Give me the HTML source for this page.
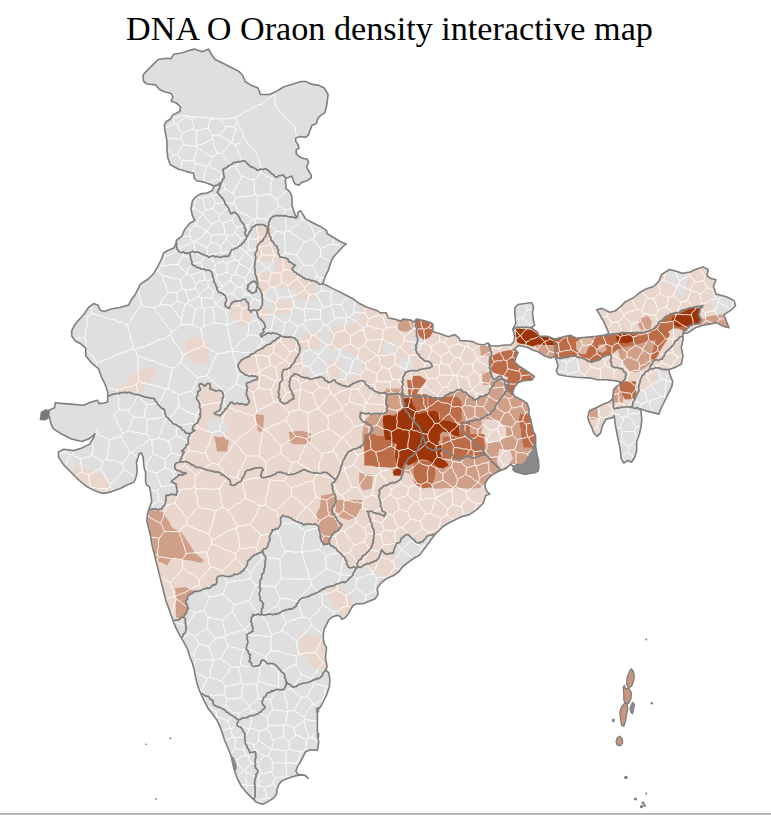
<!DOCTYPE html>
<html><head><meta charset="utf-8"><style>
html,body{margin:0;padding:0;background:#fff;}
body{width:771px;height:815px;overflow:hidden;position:relative;}
h1{position:absolute;left:0;top:8.6px;width:779px;margin:0;text-align:center;font-family:"Liberation Serif",serif;font-weight:normal;font-size:34.2px;color:#000;line-height:40px;}
svg{position:absolute;left:0;top:0;}
.bl{position:absolute;left:0;top:813px;width:771px;height:2px;background:#b8b8b8;}
</style></head><body>
<h1>DNA O Oraon density interactive map</h1>
<svg width="771" height="815" viewBox="0 0 771 815">
<defs><clipPath id="ind"><path d="M143.9,73.7 L146.5,71.1 L153.0,64.6 L158.2,59.5 L165.9,58.2 L171.1,58.7 L173.7,54.3 L181.5,53.0 L189.3,50.4 L194.5,49.1 L202.3,51.7 L208.7,49.1 L211.3,54.3 L215.2,59.5 L223.0,63.3 L230.8,67.2 L238.6,71.1 L242.5,75.0 L245.1,81.5 L251.5,85.4 L258.0,88.0 L260.6,94.5 L269.7,94.5 L277.5,90.6 L284.0,86.7 L293.0,84.1 L300.8,81.5 L306.0,81.5 L311.2,84.1 L319.0,85.4 L324.2,88.0 L328.1,94.5 L326.8,104.9 L325.5,110.0 L324.9,112.6 L321.0,115.2 L317.7,118.4 L316.4,123.6 L311.9,125.6 L309.9,130.8 L308.6,134.6 L306.0,137.2 L300.2,136.6 L295.7,137.9 L295.7,141.1 L298.3,145.0 L298.9,148.3 L296.3,149.6 L296.3,154.1 L301.5,158.0 L307.3,159.3 L308.6,161.9 L306.7,167.1 L308.6,171.0 L311.2,174.9 L311.2,178.1 L306.7,180.7 L301.5,182.6 L298.9,185.2 L295.0,183.9 L293.1,180.0 L291.8,176.1 L288.5,177.4 L285.9,178.1 L285.3,180.7 L285.9,185.2 L285.9,188.5 L288.5,190.4 L290.5,193.0 L292.0,196.9 L292.0,205.5 L295.5,215.8 L297.2,217.5 L298.0,212.3 L300.6,210.6 L305.8,219.2 L314.3,223.5 L321.2,226.9 L326.4,230.3 L327.2,233.8 L333.2,237.2 L340.1,241.5 L346.1,244.1 L342.7,246.7 L338.4,251.8 L334.9,255.2 L331.5,260.4 L329.8,265.5 L328.1,270.7 L325.5,275.8 L323.8,281.0 L322.9,283.6 L326.4,285.3 L331.5,287.9 L334.9,289.6 L340.1,292.1 L345.2,294.7 L352.1,298.2 L359.0,303.3 L365.8,306.7 L371.0,308.5 L377.9,311.0 L380.0,312.8 L386.2,312.8 L388.3,318.0 L394.5,319.1 L400.8,321.1 L402.8,319.1 L411.1,320.1 L414.2,322.2 L416.3,319.1 L421.5,320.1 L429.8,322.2 L432.9,324.2 L432.9,331.5 L436.0,332.5 L442.3,334.6 L448.5,336.7 L454.7,334.6 L458.9,337.7 L459.9,340.8 L467.2,340.8 L473.4,341.9 L477.5,344.0 L483.8,345.0 L487.9,342.9 L491.0,346.0 L498.3,346.0 L504.5,345.0 L510.7,345.0 L513.8,341.9 L514.9,335.7 L512.8,329.4 L515.9,323.2 L514.9,314.9 L514.9,307.6 L518.0,304.5 L525.3,303.5 L531.5,302.5 L533.6,306.6 L532.5,312.8 L533.6,321.1 L534.6,325.3 L531.5,327.4 L533.6,329.4 L537.7,332.5 L539.0,336.3 L547.2,336.3 L554.5,339.1 L558.1,338.2 L565.4,336.3 L570.8,335.4 L576.3,338.2 L585.3,337.3 L596.2,336.3 L603.5,335.4 L609.0,333.6 L604.0,322.0 L596.7,309.7 L601.9,308.4 L609.7,312.3 L614.9,311.0 L620.0,307.1 L625.2,301.9 L633.0,298.0 L639.5,292.8 L646.0,288.9 L653.8,286.3 L659.0,281.1 L661.5,274.6 L669.3,269.5 L674.5,270.8 L682.3,273.3 L690.1,272.0 L695.3,269.5 L703.0,266.9 L708.2,269.5 L706.9,275.9 L710.8,278.5 L716.0,279.8 L713.4,286.3 L716.0,294.1 L726.4,296.7 L734.2,300.6 L735.5,305.8 L731.6,309.7 L723.8,314.9 L726.4,321.3 L729.0,327.8 L723.8,326.5 L716.0,322.6 L710.8,323.9 L703.0,325.2 L695.3,327.8 L687.5,333.0 L683.0,333.4 L683.0,340.3 L681.3,347.2 L683.0,355.8 L681.3,364.3 L676.1,366.9 L669.3,369.5 L669.3,372.9 L672.7,381.5 L671.8,386.7 L667.6,395.2 L664.1,402.1 L660.7,409.0 L659.0,414.1 L652.1,412.4 L645.2,410.7 L640.9,409.0 L640.9,410.7 L641.8,419.3 L640.9,427.9 L639.2,434.7 L636.7,441.6 L636.7,450.2 L634.9,457.0 L631.5,462.2 L628.1,460.5 L623.8,463.0 L621.2,458.8 L620.3,450.2 L618.6,441.6 L616.9,433.0 L615.2,424.4 L614.3,415.8 L612.6,417.6 L605.8,419.3 L602.3,426.1 L600.6,433.0 L597.2,436.4 L593.7,433.0 L592.0,427.9 L589.4,422.7 L587.7,417.6 L589.4,410.7 L597.2,407.3 L604.0,403.8 L609.2,402.1 L612.6,398.7 L613.5,390.1 L616.1,386.7 L619.5,384.9 L619.5,381.5 L614.3,380.6 L605.8,379.8 L597.2,379.8 L590.8,378.1 L576.3,377.2 L567.2,376.3 L558.1,374.5 L556.3,370.8 L558.1,365.4 L556.3,360.0 L554.5,356.3 L550.8,358.1 L548.1,357.2 L543.6,355.4 L538.1,351.8 L532.7,350.0 L527.2,347.2 L518.2,345.4 L514.5,349.1 L518.2,352.7 L516.3,356.3 L514.5,361.8 L518.2,365.4 L523.6,369.0 L529.0,372.7 L534.5,376.3 L531.8,379.9 L523.6,380.8 L518.2,382.6 L514.5,387.2 L512.7,392.6 L514.5,396.3 L521.8,399.9 L527.2,403.5 L529.0,409.0 L529.0,414.4 L530.9,420.0 L533.0,430.5 L535.6,435.6 L535.6,446.0 L537.0,454.6 L538.3,459.8 L538.9,466.3 L538.3,470.9 L535.0,472.8 L531.1,473.1 L527.2,474.1 L523.3,474.1 L518.8,472.8 L514.9,471.5 L513.0,469.6 L513.5,466.5 L510.4,464.3 L506.5,468.2 L500.0,470.8 L494.9,473.3 L491.0,475.9 L487.1,479.8 L485.1,483.7 L485.1,487.6 L487.1,491.5 L489.7,494.1 L485.8,495.4 L484.5,499.3 L483.2,503.2 L480.6,505.8 L476.7,509.7 L472.8,512.3 L468.9,514.9 L463.7,516.1 L458.5,518.1 L453.3,520.7 L448.2,523.3 L443.0,526.5 L440.4,529.1 L435.6,533.7 L431.5,539.1 L427.5,544.5 L423.4,549.9 L419.4,555.3 L414.0,558.0 L408.6,562.1 L403.2,566.1 L399.1,571.5 L393.7,575.6 L387.0,578.3 L381.6,582.3 L377.5,587.7 L377.4,590.0 L378.0,594.4 L375.2,598.8 L369.7,601.0 L363.0,603.8 L356.4,603.8 L353.1,605.5 L350.9,608.8 L348.7,613.2 L345.4,617.6 L342.0,619.3 L339.8,616.0 L336.5,615.4 L332.1,617.1 L328.8,619.8 L326.6,624.3 L324.4,628.7 L323.3,634.2 L323.3,639.7 L324.4,644.1 L326.6,647.5 L326.0,653.0 L325.5,658.5 L326.6,664.0 L327.1,667.3 L325.5,669.6 L328.8,672.9 L329.9,680.0 L329.3,687.1 L326.6,695.0 L321.4,705.5 L317.4,710.8 L317.4,721.4 L317.4,731.9 L318.7,742.5 L317.3,750.4 L310.8,749.7 L305.6,751.7 L303.0,756.9 L300.4,762.0 L297.8,765.9 L295.9,771.1 L297.8,774.4 L304.3,775.0 L308.2,778.3 L305.6,775.5 L300.4,774.9 L295.2,775.9 L290.0,777.6 L284.9,779.6 L281.0,781.5 L278.4,785.4 L277.1,789.3 L276.4,794.5 L273.2,798.4 L268.0,801.6 L262.8,804.2 L256.3,802.3 L251.1,797.1 L245.9,791.9 L240.8,785.4 L236.9,777.6 L234.3,769.8 L233.0,763.3 L231.0,755.6 L227.8,747.8 L224.5,740.0 L221.7,731.3 L219.5,725.4 L216.5,719.5 L212.1,713.6 L207.7,707.7 L204.7,701.8 L201.8,695.9 L199.1,689.8 L197.1,683.6 L195.6,677.4 L194.4,671.1 L192.5,663.3 L190.1,657.9 L187.8,650.0 L183.7,641.9 L179.6,635.2 L175.6,627.1 L172.9,620.4 L170.2,612.3 L166.1,601.5 L163.4,590.7 L160.7,579.9 L158.0,569.1 L155.3,558.3 L152.6,547.5 L151.1,540.0 L150.5,535.7 L149.3,530.8 L148.0,525.9 L146.8,521.0 L147.4,514.8 L148.7,509.9 L150.5,505.0 L151.7,501.3 L151.1,496.4 L150.5,491.5 L149.3,486.6 L146.8,485.4 L145.6,481.7 L145.6,476.8 L145.6,471.9 L144.4,469.4 L143.7,464.5 L143.1,457.2 L141.3,452.9 L139.4,453.5 L138.2,457.2 L136.4,462.1 L137.0,468.2 L137.0,473.1 L135.8,478.0 L133.9,482.3 L128.6,484.3 L120.8,488.2 L110.4,492.1 L102.6,493.4 L94.9,490.8 L87.1,486.9 L79.3,480.5 L71.5,472.7 L63.7,464.9 L58.5,457.1 L58.5,451.9 L63.7,449.3 L74.1,450.6 L81.9,448.0 L89.7,444.1 L93.6,437.7 L94.9,433.8 L92.3,436.4 L88.4,439.0 L81.9,441.5 L71.5,439.0 L61.1,433.8 L53.3,428.6 L50.8,423.4 L49.5,416.9 L45.6,419.5 L40.4,419.5 L41.7,413.0 L48.2,410.4 L54.6,407.8 L55.3,402.8 L63.7,403.6 L73.8,404.4 L84.0,405.3 L89.0,402.8 L97.4,400.2 L99.1,403.6 L104.0,403.0 L107.6,401.9 L107.8,392.3 L105.2,384.5 L101.3,376.7 L98.7,368.9 L92.3,363.7 L85.8,355.9 L85.8,348.2 L80.8,343.8 L75.6,341.2 L71.7,336.0 L71.7,330.8 L74.3,325.6 L78.2,320.5 L83.3,315.3 L88.5,307.5 L93.7,303.6 L97.6,304.9 L100.2,310.1 L104.1,311.4 L111.9,308.8 L119.7,307.5 L128.7,304.9 L131.3,299.7 L135.2,294.5 L137.8,289.3 L140.4,284.1 L148.2,279.0 L153.4,273.8 L157.3,267.3 L161.2,259.5 L163.8,253.0 L167.7,250.4 L174.1,247.8 L175.4,245.2 L176.7,240.0 L181.9,236.1 L184.5,229.7 L189.7,223.2 L194.9,220.6 L192.3,215.4 L191.0,208.9 L192.3,201.1 L195.2,197.3 L200.4,193.9 L207.3,193.0 L212.4,190.5 L214.1,186.2 L210.7,184.5 L203.8,181.9 L197.0,181.0 L194.4,178.5 L193.5,173.3 L186.7,171.6 L178.1,169.0 L170.3,164.7 L167.8,157.9 L166.9,149.3 L166.9,140.7 L165.2,132.1 L164.3,125.2 L166.1,121.8 L170.3,119.2 L172.9,114.9 L179.8,111.5 L180.6,107.2 L176.4,102.9 L171.2,101.2 L172.9,96.9 L171.2,93.5 L164.3,91.8 L159.2,89.2 L155.8,84.9 L147.2,84.0 L143.7,81.5 L142.9,76.3Z"/></clipPath></defs>
<path d="M143.9,73.7 L146.5,71.1 L153.0,64.6 L158.2,59.5 L165.9,58.2 L171.1,58.7 L173.7,54.3 L181.5,53.0 L189.3,50.4 L194.5,49.1 L202.3,51.7 L208.7,49.1 L211.3,54.3 L215.2,59.5 L223.0,63.3 L230.8,67.2 L238.6,71.1 L242.5,75.0 L245.1,81.5 L251.5,85.4 L258.0,88.0 L260.6,94.5 L269.7,94.5 L277.5,90.6 L284.0,86.7 L293.0,84.1 L300.8,81.5 L306.0,81.5 L311.2,84.1 L319.0,85.4 L324.2,88.0 L328.1,94.5 L326.8,104.9 L325.5,110.0 L324.9,112.6 L321.0,115.2 L317.7,118.4 L316.4,123.6 L311.9,125.6 L309.9,130.8 L308.6,134.6 L306.0,137.2 L300.2,136.6 L295.7,137.9 L295.7,141.1 L298.3,145.0 L298.9,148.3 L296.3,149.6 L296.3,154.1 L301.5,158.0 L307.3,159.3 L308.6,161.9 L306.7,167.1 L308.6,171.0 L311.2,174.9 L311.2,178.1 L306.7,180.7 L301.5,182.6 L298.9,185.2 L295.0,183.9 L293.1,180.0 L291.8,176.1 L288.5,177.4 L285.9,178.1 L285.3,180.7 L285.9,185.2 L285.9,188.5 L288.5,190.4 L290.5,193.0 L292.0,196.9 L292.0,205.5 L295.5,215.8 L297.2,217.5 L298.0,212.3 L300.6,210.6 L305.8,219.2 L314.3,223.5 L321.2,226.9 L326.4,230.3 L327.2,233.8 L333.2,237.2 L340.1,241.5 L346.1,244.1 L342.7,246.7 L338.4,251.8 L334.9,255.2 L331.5,260.4 L329.8,265.5 L328.1,270.7 L325.5,275.8 L323.8,281.0 L322.9,283.6 L326.4,285.3 L331.5,287.9 L334.9,289.6 L340.1,292.1 L345.2,294.7 L352.1,298.2 L359.0,303.3 L365.8,306.7 L371.0,308.5 L377.9,311.0 L380.0,312.8 L386.2,312.8 L388.3,318.0 L394.5,319.1 L400.8,321.1 L402.8,319.1 L411.1,320.1 L414.2,322.2 L416.3,319.1 L421.5,320.1 L429.8,322.2 L432.9,324.2 L432.9,331.5 L436.0,332.5 L442.3,334.6 L448.5,336.7 L454.7,334.6 L458.9,337.7 L459.9,340.8 L467.2,340.8 L473.4,341.9 L477.5,344.0 L483.8,345.0 L487.9,342.9 L491.0,346.0 L498.3,346.0 L504.5,345.0 L510.7,345.0 L513.8,341.9 L514.9,335.7 L512.8,329.4 L515.9,323.2 L514.9,314.9 L514.9,307.6 L518.0,304.5 L525.3,303.5 L531.5,302.5 L533.6,306.6 L532.5,312.8 L533.6,321.1 L534.6,325.3 L531.5,327.4 L533.6,329.4 L537.7,332.5 L539.0,336.3 L547.2,336.3 L554.5,339.1 L558.1,338.2 L565.4,336.3 L570.8,335.4 L576.3,338.2 L585.3,337.3 L596.2,336.3 L603.5,335.4 L609.0,333.6 L604.0,322.0 L596.7,309.7 L601.9,308.4 L609.7,312.3 L614.9,311.0 L620.0,307.1 L625.2,301.9 L633.0,298.0 L639.5,292.8 L646.0,288.9 L653.8,286.3 L659.0,281.1 L661.5,274.6 L669.3,269.5 L674.5,270.8 L682.3,273.3 L690.1,272.0 L695.3,269.5 L703.0,266.9 L708.2,269.5 L706.9,275.9 L710.8,278.5 L716.0,279.8 L713.4,286.3 L716.0,294.1 L726.4,296.7 L734.2,300.6 L735.5,305.8 L731.6,309.7 L723.8,314.9 L726.4,321.3 L729.0,327.8 L723.8,326.5 L716.0,322.6 L710.8,323.9 L703.0,325.2 L695.3,327.8 L687.5,333.0 L683.0,333.4 L683.0,340.3 L681.3,347.2 L683.0,355.8 L681.3,364.3 L676.1,366.9 L669.3,369.5 L669.3,372.9 L672.7,381.5 L671.8,386.7 L667.6,395.2 L664.1,402.1 L660.7,409.0 L659.0,414.1 L652.1,412.4 L645.2,410.7 L640.9,409.0 L640.9,410.7 L641.8,419.3 L640.9,427.9 L639.2,434.7 L636.7,441.6 L636.7,450.2 L634.9,457.0 L631.5,462.2 L628.1,460.5 L623.8,463.0 L621.2,458.8 L620.3,450.2 L618.6,441.6 L616.9,433.0 L615.2,424.4 L614.3,415.8 L612.6,417.6 L605.8,419.3 L602.3,426.1 L600.6,433.0 L597.2,436.4 L593.7,433.0 L592.0,427.9 L589.4,422.7 L587.7,417.6 L589.4,410.7 L597.2,407.3 L604.0,403.8 L609.2,402.1 L612.6,398.7 L613.5,390.1 L616.1,386.7 L619.5,384.9 L619.5,381.5 L614.3,380.6 L605.8,379.8 L597.2,379.8 L590.8,378.1 L576.3,377.2 L567.2,376.3 L558.1,374.5 L556.3,370.8 L558.1,365.4 L556.3,360.0 L554.5,356.3 L550.8,358.1 L548.1,357.2 L543.6,355.4 L538.1,351.8 L532.7,350.0 L527.2,347.2 L518.2,345.4 L514.5,349.1 L518.2,352.7 L516.3,356.3 L514.5,361.8 L518.2,365.4 L523.6,369.0 L529.0,372.7 L534.5,376.3 L531.8,379.9 L523.6,380.8 L518.2,382.6 L514.5,387.2 L512.7,392.6 L514.5,396.3 L521.8,399.9 L527.2,403.5 L529.0,409.0 L529.0,414.4 L530.9,420.0 L533.0,430.5 L535.6,435.6 L535.6,446.0 L537.0,454.6 L538.3,459.8 L538.9,466.3 L538.3,470.9 L535.0,472.8 L531.1,473.1 L527.2,474.1 L523.3,474.1 L518.8,472.8 L514.9,471.5 L513.0,469.6 L513.5,466.5 L510.4,464.3 L506.5,468.2 L500.0,470.8 L494.9,473.3 L491.0,475.9 L487.1,479.8 L485.1,483.7 L485.1,487.6 L487.1,491.5 L489.7,494.1 L485.8,495.4 L484.5,499.3 L483.2,503.2 L480.6,505.8 L476.7,509.7 L472.8,512.3 L468.9,514.9 L463.7,516.1 L458.5,518.1 L453.3,520.7 L448.2,523.3 L443.0,526.5 L440.4,529.1 L435.6,533.7 L431.5,539.1 L427.5,544.5 L423.4,549.9 L419.4,555.3 L414.0,558.0 L408.6,562.1 L403.2,566.1 L399.1,571.5 L393.7,575.6 L387.0,578.3 L381.6,582.3 L377.5,587.7 L377.4,590.0 L378.0,594.4 L375.2,598.8 L369.7,601.0 L363.0,603.8 L356.4,603.8 L353.1,605.5 L350.9,608.8 L348.7,613.2 L345.4,617.6 L342.0,619.3 L339.8,616.0 L336.5,615.4 L332.1,617.1 L328.8,619.8 L326.6,624.3 L324.4,628.7 L323.3,634.2 L323.3,639.7 L324.4,644.1 L326.6,647.5 L326.0,653.0 L325.5,658.5 L326.6,664.0 L327.1,667.3 L325.5,669.6 L328.8,672.9 L329.9,680.0 L329.3,687.1 L326.6,695.0 L321.4,705.5 L317.4,710.8 L317.4,721.4 L317.4,731.9 L318.7,742.5 L317.3,750.4 L310.8,749.7 L305.6,751.7 L303.0,756.9 L300.4,762.0 L297.8,765.9 L295.9,771.1 L297.8,774.4 L304.3,775.0 L308.2,778.3 L305.6,775.5 L300.4,774.9 L295.2,775.9 L290.0,777.6 L284.9,779.6 L281.0,781.5 L278.4,785.4 L277.1,789.3 L276.4,794.5 L273.2,798.4 L268.0,801.6 L262.8,804.2 L256.3,802.3 L251.1,797.1 L245.9,791.9 L240.8,785.4 L236.9,777.6 L234.3,769.8 L233.0,763.3 L231.0,755.6 L227.8,747.8 L224.5,740.0 L221.7,731.3 L219.5,725.4 L216.5,719.5 L212.1,713.6 L207.7,707.7 L204.7,701.8 L201.8,695.9 L199.1,689.8 L197.1,683.6 L195.6,677.4 L194.4,671.1 L192.5,663.3 L190.1,657.9 L187.8,650.0 L183.7,641.9 L179.6,635.2 L175.6,627.1 L172.9,620.4 L170.2,612.3 L166.1,601.5 L163.4,590.7 L160.7,579.9 L158.0,569.1 L155.3,558.3 L152.6,547.5 L151.1,540.0 L150.5,535.7 L149.3,530.8 L148.0,525.9 L146.8,521.0 L147.4,514.8 L148.7,509.9 L150.5,505.0 L151.7,501.3 L151.1,496.4 L150.5,491.5 L149.3,486.6 L146.8,485.4 L145.6,481.7 L145.6,476.8 L145.6,471.9 L144.4,469.4 L143.7,464.5 L143.1,457.2 L141.3,452.9 L139.4,453.5 L138.2,457.2 L136.4,462.1 L137.0,468.2 L137.0,473.1 L135.8,478.0 L133.9,482.3 L128.6,484.3 L120.8,488.2 L110.4,492.1 L102.6,493.4 L94.9,490.8 L87.1,486.9 L79.3,480.5 L71.5,472.7 L63.7,464.9 L58.5,457.1 L58.5,451.9 L63.7,449.3 L74.1,450.6 L81.9,448.0 L89.7,444.1 L93.6,437.7 L94.9,433.8 L92.3,436.4 L88.4,439.0 L81.9,441.5 L71.5,439.0 L61.1,433.8 L53.3,428.6 L50.8,423.4 L49.5,416.9 L45.6,419.5 L40.4,419.5 L41.7,413.0 L48.2,410.4 L54.6,407.8 L55.3,402.8 L63.7,403.6 L73.8,404.4 L84.0,405.3 L89.0,402.8 L97.4,400.2 L99.1,403.6 L104.0,403.0 L107.6,401.9 L107.8,392.3 L105.2,384.5 L101.3,376.7 L98.7,368.9 L92.3,363.7 L85.8,355.9 L85.8,348.2 L80.8,343.8 L75.6,341.2 L71.7,336.0 L71.7,330.8 L74.3,325.6 L78.2,320.5 L83.3,315.3 L88.5,307.5 L93.7,303.6 L97.6,304.9 L100.2,310.1 L104.1,311.4 L111.9,308.8 L119.7,307.5 L128.7,304.9 L131.3,299.7 L135.2,294.5 L137.8,289.3 L140.4,284.1 L148.2,279.0 L153.4,273.8 L157.3,267.3 L161.2,259.5 L163.8,253.0 L167.7,250.4 L174.1,247.8 L175.4,245.2 L176.7,240.0 L181.9,236.1 L184.5,229.7 L189.7,223.2 L194.9,220.6 L192.3,215.4 L191.0,208.9 L192.3,201.1 L195.2,197.3 L200.4,193.9 L207.3,193.0 L212.4,190.5 L214.1,186.2 L210.7,184.5 L203.8,181.9 L197.0,181.0 L194.4,178.5 L193.5,173.3 L186.7,171.6 L178.1,169.0 L170.3,164.7 L167.8,157.9 L166.9,149.3 L166.9,140.7 L165.2,132.1 L164.3,125.2 L166.1,121.8 L170.3,119.2 L172.9,114.9 L179.8,111.5 L180.6,107.2 L176.4,102.9 L171.2,101.2 L172.9,96.9 L171.2,93.5 L164.3,91.8 L159.2,89.2 L155.8,84.9 L147.2,84.0 L143.7,81.5 L142.9,76.3Z" fill="#dfdfdf"/>

<g clip-path="url(#ind)">
<path d="M267.8,226.3 L269.4,234.0 L270.9,240.3 L274.0,243.4 L277.2,246.5 L280.0,257.0 L285.2,257.8 L290.3,262.1 L295.5,265.5 L292.0,269.0 L297.2,274.1 L305.8,279.3 L314.3,281.0 L321.2,284.4 L322.9,283.6 L326.4,285.3 L331.5,287.9 L334.9,289.6 L340.1,292.1 L345.2,294.7 L352.1,298.2 L359.0,303.3 L365.8,306.7 L371.0,308.5 L377.9,311.0 L380.0,312.8 L386.2,312.8 L388.3,318.0 L394.5,319.1 L400.8,321.1 L402.8,319.1 L411.1,320.1 L414.2,322.2 L416.3,319.1 L421.5,320.1 L429.8,322.2 L432.9,324.2 L432.9,331.5 L436.0,332.5 L442.3,334.6 L448.5,336.7 L454.7,334.6 L458.9,337.7 L459.9,340.8 L467.2,340.8 L473.4,341.9 L477.5,344.0 L483.8,345.0 L487.9,342.9 L491.0,346.0 L498.3,346.0 L504.5,345.0 L510.7,345.0 L513.8,341.9 L514.9,335.7 L512.8,329.4 L515.9,327.5 L522.0,327.0 L531.5,327.4 L533.6,329.4 L537.7,332.5 L539.0,336.3 L547.2,336.3 L554.5,339.1 L555.0,345.0 L555.0,352.0 L554.5,356.3 L550.8,358.1 L548.1,357.2 L543.6,355.4 L538.1,351.8 L532.7,350.0 L527.2,347.2 L518.2,345.4 L514.5,349.1 L518.2,352.7 L516.3,356.3 L514.5,361.8 L518.2,365.4 L523.6,369.0 L529.0,372.7 L534.5,376.3 L531.8,379.9 L523.6,380.8 L518.2,382.6 L514.5,387.2 L512.7,392.6 L514.5,396.3 L521.8,399.9 L527.2,403.5 L529.0,409.0 L529.0,414.4 L530.9,420.0 L533.0,430.5 L535.6,435.6 L535.6,446.0 L537.0,454.6 L538.3,459.8 L538.9,466.3 L538.3,470.9 L535.0,472.8 L531.1,473.1 L527.2,474.1 L523.3,474.1 L518.8,472.8 L514.9,471.5 L513.0,469.6 L513.5,466.5 L510.4,464.3 L506.5,468.2 L500.0,470.8 L494.9,473.3 L491.0,475.9 L487.1,479.8 L485.1,483.7 L485.1,487.6 L487.1,491.5 L489.7,494.1 L485.8,495.4 L484.5,499.3 L483.2,503.2 L480.6,505.8 L476.7,509.7 L472.8,512.3 L468.9,514.9 L463.7,516.1 L458.5,518.1 L453.3,520.7 L448.2,523.3 L443.0,526.5 L440.4,529.1 L435.6,533.7 L434.2,533.7 L430.2,535.1 L426.1,537.8 L423.4,540.5 L419.4,543.2 L415.3,541.8 L412.6,539.1 L409.9,536.4 L407.2,534.4 L404.5,535.8 L401.8,537.8 L400.5,541.8 L396.4,543.2 L395.1,547.2 L393.7,552.6 L389.7,553.3 L385.6,554.0 L382.9,551.3 L381.6,549.9 L380.2,554.0 L377.5,559.4 L373.5,562.1 L368.1,563.4 L362.7,566.1 L356.7,567.9 L348.1,567.0 L345.0,558.1 L340.8,553.2 L335.9,548.3 L331.0,545.8 L328.6,543.4 L323.7,544.6 L321.2,539.7 L320.0,533.6 L318.8,526.2 L315.1,523.8 L308.9,523.8 L304.0,525.0 L299.1,522.5 L294.2,520.1 L289.3,517.6 L283.2,515.2 L280.7,517.6 L280.7,523.8 L278.3,528.7 L272.2,529.9 L269.7,536.0 L269.7,540.9 L267.3,547.1 L262.4,550.7 L259.9,553.2 L254.5,554.5 L249.0,560.0 L243.6,570.8 L236.3,574.5 L227.2,576.3 L218.2,576.3 L216.3,583.6 L210.9,587.2 L203.6,589.0 L200.0,590.8 L194.2,591.2 L188.5,595.5 L185.7,602.6 L188.5,608.4 L184.0,616.0 L180.0,619.0 L174.0,620.5 L172.9,620.4 L170.2,612.3 L166.1,601.5 L163.4,590.7 L160.7,579.9 L158.0,569.1 L155.3,558.3 L152.6,547.5 L151.1,540.0 L150.5,535.7 L149.3,530.8 L148.0,525.9 L146.8,521.0 L147.4,514.8 L148.7,509.9 L149.1,510.0 L153.6,509.1 L158.2,510.0 L161.8,509.1 L164.5,505.4 L166.3,500.0 L166.4,495.2 L171.3,494.0 L176.3,495.2 L177.5,491.5 L176.3,484.2 L173.8,482.9 L171.3,481.7 L173.8,479.3 L177.5,476.8 L178.7,474.4 L183.6,474.4 L186.1,473.1 L181.2,471.9 L177.5,470.7 L175.0,468.2 L175.0,464.5 L180.2,461.8 L181.6,456.4 L184.3,452.3 L181.6,451.0 L184.3,448.3 L188.3,442.9 L188.3,437.5 L189.7,433.4 L195.1,430.7 L192.4,429.4 L193.7,425.3 L197.8,422.6 L200.5,415.9 L200.5,409.1 L199.1,402.4 L196.4,397.0 L197.8,391.6 L200.5,388.9 L199.1,384.8 L200.5,383.5 L204.5,386.2 L207.2,383.5 L209.9,383.5 L209.9,388.9 L214.0,390.2 L219.4,390.2 L222.1,391.6 L223.4,397.0 L222.1,402.4 L220.7,406.4 L219.4,410.5 L216.7,411.8 L214.0,413.2 L215.3,414.5 L219.4,415.9 L222.1,413.2 L224.8,410.5 L227.5,406.4 L230.2,402.4 L235.6,403.7 L241.0,403.7 L246.4,405.1 L249.1,402.4 L247.7,397.0 L246.4,392.9 L247.7,387.5 L246.4,383.5 L250.4,382.1 L257.2,379.4 L257.6,377.3 L255.0,376.0 L248.5,376.0 L243.3,373.4 L239.5,369.5 L238.2,364.3 L240.8,360.4 L245.9,357.8 L252.4,353.9 L256.3,351.3 L261.5,348.7 L266.7,344.9 L271.9,342.3 L277.1,338.4 L281.0,335.8 L278.4,334.5 L274.5,333.2 L269.3,333.2 L265.4,334.5 L261.5,337.1 L260.2,334.5 L264.1,331.9 L262.8,329.3 L265.4,326.7 L264.1,322.8 L260.2,318.9 L257.6,315.0 L256.3,310.5 L258.9,309.8 L261.5,305.9 L262.8,299.5 L261.5,293.0 L257.6,285.2 L255.2,274.1 L255.2,261.1 L255.2,253.3 L257.8,245.6 L263.0,240.4 L265.6,236.5Z" fill="#e9d6cc"/>
<path d="M287.4,290.4 L315.4,283.3 L329.4,285.7 L348.1,297.4 L359.7,306.7 L359.7,320.7 L350.4,325.4 L338.7,332.4 L343.4,348.7 L359.7,358.1 L362.1,372.1 L348.1,379.1 L327.0,376.7 L308.4,376.7 L301.4,362.7 L301.4,341.7 L285.0,334.7 L264.0,330.0 L264.0,318.4 L273.3,311.4 L264.0,306.7 L264.0,295.0 L273.3,285.7Z" fill="#dfdfdf"/>
<path d="M383.1,341.7 L394.8,341.7 L394.8,353.4 L383.1,353.4Z" fill="#dfdfdf"/>
<path d="M399.4,358.1 L413.4,358.1 L413.4,372.1 L399.4,372.1Z" fill="#dfdfdf"/>
<path d="M411.1,337.0 L422.8,337.0 L422.8,348.7 L411.1,348.7Z" fill="#dfdfdf"/>
<path d="M255.4,260.9 L275.4,260.9 L275.4,271.8 L255.4,271.8Z" fill="#dfdfdf"/>
<path d="M273.3,299.7 L292.0,299.7 L292.0,313.7 L273.3,313.7Z" fill="#e9d6cc"/>
<path d="M296.7,283.3 L315.4,283.3 L315.4,299.7 L296.7,299.7Z" fill="#e9d6cc"/>
<path d="M329.4,327.7 L348.1,327.7 L348.1,348.7 L329.4,348.7Z" fill="#e9d6cc"/>
<path d="M338.7,325.4 L359.7,325.4 L359.7,339.4 L338.7,339.4Z" fill="#e9d6cc"/>
<path d="M327.0,360.4 L338.7,360.4 L338.7,376.7 L327.0,376.7Z" fill="#e9d6cc"/>
<path d="M301.4,332.4 L320.0,332.4 L320.0,348.7 L301.4,348.7Z" fill="#e9d6cc"/>
<path d="M255.2,413.9 L264.3,415.2 L263.5,423.0 L263.0,432.1 L257.8,431.3 L256.5,423.0Z" fill="#d09f88"/>
<path d="M288.9,432.1 L301.9,430.8 L311.0,433.4 L309.7,442.5 L299.3,443.8 L290.2,442.5Z" fill="#d09f88"/>
<path d="M214.0,436.1 L223.4,436.8 L228.8,442.9 L226.1,448.3 L219.4,451.0 L216.7,446.9Z" fill="#d09f88"/>
<path d="M215.6,440.0 L228.5,440.0 L227.0,451.4 L217.0,451.4Z" fill="#d09f88"/>
<path d="M291.2,440.0 L308.4,440.0 L306.9,444.3 L292.7,444.3Z" fill="#d09f88"/>
<path d="M207.2,419.9 L216.7,418.6 L224.8,419.9 L230.2,426.7 L226.1,432.1 L220.7,437.5 L214.0,436.1 L209.9,433.4 L206.6,426.7Z" fill="#dfdfdf"/>
<path d="M148.2,511.8 L151.8,510.0 L158.2,510.9 L162.7,511.8 L165.4,516.3 L169.1,521.8 L171.8,527.2 L176.3,530.0 L180.9,531.8 L183.6,535.4 L187.2,540.9 L190.8,546.3 L194.5,552.7 L199.9,557.2 L203.6,559.9 L202.6,562.6 L198.1,562.6 L192.7,560.8 L185.4,559.9 L178.1,559.0 L171.8,559.0 L169.1,561.7 L167.2,565.4 L163.6,563.6 L159.1,561.7 L156.3,558.1 L154.5,552.7 L153.6,547.2 L152.7,541.8 L151.8,538.1 L150.0,536.3 L149.1,531.8 L148.2,527.2 L147.3,518.2Z" fill="#d09f88"/>
<path d="M174.2,588.4 L185.0,587.0 L194.2,591.2 L188.5,595.5 L185.7,602.6 L188.5,608.4 L184.0,616.0 L180.0,619.0 L176.0,617.0 L175.7,602.0 L175.7,590.0Z" fill="#d09f88"/>
<path d="M321.2,495.6 L328.6,494.3 L334.1,493.1 L335.3,499.2 L333.5,506.6 L332.2,511.5 L334.7,516.4 L338.4,521.3 L342.1,525.0 L339.6,528.7 L334.7,532.3 L331.0,537.2 L328.6,543.4 L323.7,544.6 L321.2,538.5 L320.0,528.7 L317.5,521.3 L316.3,513.9 L320.0,506.6Z" fill="#d09f88"/>
<path d="M336.9,501.3 L351.2,499.9 L360.0,504.2 L356.9,517.0 L348.3,519.9 L339.7,517.0Z" fill="#d09f88"/>
<path d="M335.8,500.0 L363.1,500.0 L361.1,511.7 L351.4,517.5 L341.7,515.6 L335.8,511.7Z" fill="#d09f88"/>
<path d="M359.2,472.8 L372.8,474.7 L371.8,488.4 L363.1,490.3 L359.2,484.5Z" fill="#d09f88"/>
<path d="M231.2,299.7 L246.8,302.3 L252.0,315.3 L249.4,325.6 L239.0,325.6 L231.2,315.3Z" fill="#e9d6cc"/>
<path d="M185.6,340.4 L201.2,335.2 L209.0,345.6 L209.0,363.7 L196.0,363.7 L185.6,355.9Z" fill="#e9d6cc"/>
<path d="M114.3,391.4 L121.4,385.7 L128.5,378.6 L134.2,372.9 L141.5,368.9 L154.5,366.3 L155.6,370.0 L152.8,378.6 L147.1,384.3 L141.4,391.4 L130.0,393.0 L118.0,393.0Z" fill="#e9d6cc"/>
<path d="M74.1,464.9 L89.7,470.1 L102.6,475.3 L110.4,485.6 L107.8,493.4 L94.9,490.8 L81.9,483.0 L74.1,475.3Z" fill="#e9d6cc"/>
<path d="M324.4,587.1 L332.3,585.6 L338.2,584.8 L346.0,593.0 L353.9,598.9 L351.9,606.8 L346.0,614.6 L342.1,618.5 L338.2,612.6 L332.3,604.8 L328.4,596.9Z" fill="#e9d6cc"/>
<path d="M298.9,635.2 L322.5,636.2 L324.8,644.1 L325.4,651.9 L326.4,665.7 L320.5,669.6 L310.7,665.7 L304.8,657.8 L299.9,650.0Z" fill="#e9d6cc"/>
<path d="M362.7,566.1 L368.1,563.4 L373.5,562.1 L377.5,559.4 L380.2,554.0 L385.6,554.0 L393.7,552.6 L395.8,556.7 L394.4,563.4 L397.8,570.2 L393.7,575.6 L387.0,578.3 L381.6,582.3 L378.9,575.6 L372.1,570.2 L365.4,567.5Z" fill="#e9d6cc"/>
<path d="M396.9,319.9 L412.5,318.6 L413.3,328.9 L406.0,332.1 L398.2,330.2Z" fill="#d09f88"/>
<path d="M253.0,226.5 L265.9,225.2 L273.7,227.8 L272.4,240.8 L269.8,251.1 L271.1,261.5 L259.5,261.5 L256.9,248.5 L255.6,235.6Z" fill="#e9d6cc"/>
<path d="M554.5,339.1 L558.1,338.2 L565.4,336.3 L570.8,335.4 L576.3,338.2 L585.3,337.3 L596.2,336.3 L603.5,335.4 L609.0,333.6 L604.0,322.0 L596.7,309.7 L601.9,308.4 L609.7,312.3 L614.9,311.0 L620.0,307.1 L625.2,301.9 L633.0,298.0 L639.5,292.8 L646.0,288.9 L653.8,286.3 L659.0,281.1 L661.5,274.6 L669.3,269.5 L674.5,270.8 L682.3,273.3 L690.1,272.0 L695.3,269.5 L703.0,266.9 L708.2,269.5 L706.9,275.9 L710.8,278.5 L716.0,279.8 L713.4,286.3 L716.0,294.1 L726.4,296.7 L734.2,300.6 L735.5,305.8 L731.6,309.7 L723.8,314.9 L726.4,321.3 L729.0,327.8 L723.8,326.5 L716.0,322.6 L710.8,323.9 L703.0,325.2 L695.3,327.8 L687.5,333.0 L683.0,333.4 L683.0,340.3 L681.3,347.2 L683.0,355.8 L681.3,364.3 L676.1,366.9 L669.3,369.5 L669.3,372.9 L672.7,381.5 L671.8,386.7 L667.6,395.2 L664.1,402.1 L660.7,409.0 L659.0,414.1 L652.1,412.4 L645.2,410.7 L640.9,409.0 L640.9,410.7 L641.8,419.3 L640.9,427.9 L639.2,434.7 L636.7,441.6 L636.7,450.2 L634.9,457.0 L631.5,462.2 L628.1,460.5 L623.8,463.0 L621.2,458.8 L620.3,450.2 L618.6,441.6 L616.9,433.0 L615.2,424.4 L614.3,415.8 L612.6,417.6 L605.8,419.3 L602.3,426.1 L600.6,433.0 L597.2,436.4 L593.7,433.0 L592.0,427.9 L589.4,422.7 L587.7,417.6 L589.4,410.7 L597.2,407.3 L604.0,403.8 L609.2,402.1 L612.6,398.7 L613.5,390.1 L616.1,386.7 L619.5,384.9 L619.5,381.5 L614.3,380.6 L605.8,379.8 L597.2,379.8 L590.8,378.1 L576.3,377.2 L567.2,376.3 L558.1,374.5 L556.3,370.8 L558.1,365.4 L556.3,360.0 L554.5,356.3Z" fill="#e9d6cc"/>
<path d="M386.4,393.4 L394.7,393.4 L403.0,395.5 L407.2,396.5 L413.4,395.5 L419.6,397.5 L425.8,395.5 L432.1,397.5 L440.4,399.6 L449.4,393.5 L460.2,389.4 L467.0,393.5 L472.4,397.5 L475.1,400.2 L480.5,396.2 L487.2,394.8 L491.3,388.1 L495.3,381.3 L497.0,378.0 L506.0,385.0 L508.0,392.0 L512.7,392.6 L514.5,396.3 L521.8,399.9 L527.2,403.5 L529.0,409.0 L529.0,414.4 L530.9,420.0 L533.0,430.5 L535.6,435.6 L535.6,446.0 L538.2,456.4 L537.0,466.0 L536.9,471.4 L522.6,472.8 L514.1,465.7 L508.4,468.5 L499.8,472.8 L491.2,475.7 L485.5,482.8 L480.0,488.0 L470.0,488.5 L460.0,488.0 L446.7,488.0 L440.0,488.4 L435.0,488.4 L428.0,488.0 L420.0,486.0 L413.7,482.0 L412.0,475.0 L405.0,472.0 L400.0,476.0 L394.0,476.0 L392.0,470.0 L385.0,467.0 L376.0,467.0 L368.0,465.0 L365.0,455.0 L363.0,445.0 L362.0,435.0 L365.0,420.0 L372.0,413.0 L380.0,410.0 L386.4,399.6Z" fill="#d09f88"/>
<path d="M484.5,419.1 L498.0,420.5 L506.1,427.2 L506.1,438.0 L496.7,442.1 L484.5,443.4 L480.5,436.7Z" fill="#e9d6cc"/>
<path d="M499.4,448.8 L510.2,450.2 L512.9,458.3 L507.5,466.4 L499.4,469.1 L496.7,461.0Z" fill="#e9d6cc"/>
<path d="M360.0,394.3 L384.3,394.3 L385.7,414.2 L360.0,414.2Z" fill="#e9d6cc"/>
<path d="M412.8,394.3 L427.1,394.3 L427.1,412.8 L417.1,414.2 L414.2,408.5 L412.1,402.8Z" fill="#bd6c48"/>
<path d="M428.5,397.1 L439.9,397.1 L439.9,412.8 L428.5,412.1Z" fill="#bd6c48"/>
<path d="M442.8,398.5 L459.9,398.5 L459.9,421.4 L451.3,421.4 L442.8,419.9Z" fill="#bd6c48"/>
<path d="M459.9,421.4 L470.0,421.4 L470.0,439.9 L459.9,437.1Z" fill="#bd6c48"/>
<path d="M364.3,434.2 L375.7,434.2 L375.7,465.6 L364.3,465.6Z" fill="#bd6c48"/>
<path d="M417.1,461.3 L434.2,461.3 L434.2,480.0 L417.1,480.0Z" fill="#bd6c48"/>
<path d="M407.1,380.0 L427.1,380.0 L419.9,388.6 L414.2,395.7 L408.5,395.7Z" fill="#bd6c48"/>
<path d="M440.0,397.5 L456.2,396.2 L461.6,401.6 L461.6,420.5 L440.0,420.5Z" fill="#bd6c48"/>
<path d="M462.9,434.0 L484.5,434.0 L484.5,455.6 L462.9,455.6Z" fill="#bd6c48"/>
<path d="M442.7,436.7 L464.3,436.7 L464.3,459.6 L442.7,459.6Z" fill="#bd6c48"/>
<path d="M521.0,415.1 L531.8,417.8 L534.5,431.3 L534.5,447.5 L523.7,447.5 L521.0,434.0Z" fill="#bd6c48"/>
<path d="M385.7,388.6 L402.8,388.6 L402.8,408.5 L397.8,412.8 L387.1,414.2 L385.7,401.4Z" fill="#d9a48c"/>
<path d="M372.8,437.1 L394.2,437.1 L394.2,459.9 L372.8,459.9Z" fill="#d9a48c"/>
<path d="M413.7,461.1 L427.3,461.1 L435.1,465.0 L435.1,476.7 L431.2,486.4 L423.4,488.4 L415.6,484.5 L413.7,472.8Z" fill="#bd6c48"/>
<path d="M365.0,435.8 L380.6,435.8 L394.2,437.8 L394.2,453.3 L396.1,467.0 L386.4,467.0 L376.7,467.0 L368.9,463.1 L365.0,453.3Z" fill="#bd6c48"/>
<path d="M556.3,360.0 L558.1,365.4 L556.3,370.8 L558.1,374.5 L567.2,376.3 L576.3,377.2 L580.0,377.5 L581.0,370.0 L580.0,362.0 L575.0,358.0 L565.0,358.0 L558.0,359.0Z" fill="#dfdfdf"/>
<path d="M614.3,415.8 L615.2,424.4 L616.9,433.0 L618.6,441.6 L620.3,450.2 L621.2,458.8 L623.8,463.0 L628.1,460.5 L631.5,462.2 L634.9,457.0 L636.7,450.2 L636.7,441.6 L639.2,434.7 L640.9,427.9 L641.8,419.3 L640.9,410.7 L640.9,409.0 L636.7,408.1 L631.5,407.3 L625.0,407.0 L619.0,407.5 L614.3,409.0Z" fill="#dfdfdf"/>
<path d="M631.5,407.3 L636.7,408.1 L640.9,409.0 L645.2,410.7 L652.1,412.4 L659.0,414.1 L660.7,409.0 L664.1,402.1 L667.6,395.2 L671.8,386.7 L672.7,381.5 L669.3,372.9 L669.3,369.5 L660.0,370.0 L652.0,372.0 L645.0,375.0 L640.0,380.0 L636.0,388.0 L633.0,395.0 L631.0,402.0Z" fill="#dfdfdf"/>
<path d="M638.0,378.0 L648.0,372.0 L657.0,371.0 L658.0,380.0 L650.0,388.0 L641.0,390.0Z" fill="#e9d6cc"/>
<path d="M665.7,274.3 L671.4,270.0 L677.1,272.8 L687.1,275.7 L687.1,282.8 L685.6,288.5 L685.6,295.7 L681.4,297.1 L677.1,291.4 L672.8,284.3 L668.5,278.5Z" fill="#dfdfdf"/>
<path d="M711.3,295.7 L718.5,292.8 L727.0,295.7 L735.6,300.0 L735.6,302.8 L729.9,307.1 L724.2,312.8 L715.6,314.2 L712.8,308.5 L711.3,301.4Z" fill="#dfdfdf"/>
<path d="M640.0,318.0 L648.0,316.0 L652.0,322.0 L650.0,329.0 L641.0,330.0 L638.0,325.0Z" fill="#d09f88"/>
<path d="M700.0,320.0 L710.0,316.0 L722.0,314.5 L726.4,321.3 L729.0,327.8 L723.8,326.5 L716.0,322.6 L710.8,323.9 L703.0,325.2 L698.0,326.0Z" fill="#d09f88"/>
<path d="M618.0,350.0 L628.0,345.0 L640.0,342.0 L652.0,338.0 L660.0,338.0 L662.0,345.0 L658.0,356.0 L652.0,362.0 L645.0,368.0 L638.0,372.0 L630.0,372.0 L625.0,365.0 L620.0,358.0Z" fill="#d09f88"/>
<path d="M554.5,339.1 L556.5,338.0 L563.0,335.4 L569.5,334.7 L575.9,337.3 L583.7,337.3 L592.8,336.0 L601.9,335.4 L609.7,334.7 L616.1,333.5 L622.6,332.2 L630.4,332.8 L638.6,332.8 L648.5,331.3 L654.3,328.5 L660.0,321.4 L667.1,315.6 L675.7,312.8 L684.2,309.9 L689.9,307.8 L697.1,306.4 L702.8,305.7 L699.9,309.9 L698.5,314.2 L701.3,319.9 L699.9,322.8 L695.6,324.2 L689.9,325.6 L687.1,328.5 L684.2,331.3 L678.5,328.5 L672.8,328.5 L668.0,332.0 L664.0,337.0 L655.0,340.0 L645.0,342.0 L635.0,345.0 L625.0,347.0 L617.0,350.0 L611.0,354.9 L607.1,354.9 L601.9,357.4 L596.7,360.7 L591.5,362.6 L586.3,360.0 L581.1,357.4 L573.3,356.1 L565.6,357.4 L560.4,358.7 L555.2,358.7Z" fill="#bd6c48"/>
<path d="M576.0,342.0 L582.0,338.0 L592.0,338.0 L594.0,342.0 L588.0,348.0 L586.0,354.0 L580.0,354.0 L576.0,349.0Z" fill="#dcb6a4"/>
<path d="M598.0,345.0 L605.0,344.0 L607.0,350.0 L602.0,353.0 L598.0,351.0Z" fill="#d8ae9a"/>
<path d="M658.0,334.0 L667.0,331.0 L670.0,334.0 L667.0,340.0 L663.0,346.0 L660.0,351.0 L657.0,357.0 L654.0,360.0 L651.0,358.0 L653.0,350.0 L655.0,343.0Z" fill="#bd6c48"/>
<path d="M672.8,317.1 L684.2,311.4 L692.8,307.1 L702.0,305.7 L699.9,311.4 L699.2,317.1 L700.6,321.3 L695.6,324.2 L689.9,325.6 L684.2,326.3 L678.5,327.1 L672.8,324.2 L671.4,319.9Z" fill="#9e3508"/>
<path d="M616.5,333.5 L622.6,332.2 L630.4,332.8 L633.5,336.0 L633.0,341.0 L627.0,343.2 L618.0,343.0 L616.0,338.0Z" fill="#9e3508"/>
<path d="M515.4,328.5 L522.5,329.1 L531.5,329.8 L536.6,333.6 L541.8,336.2 L549.5,337.5 L556.0,339.4 L556.0,345.2 L549.5,345.2 L537.9,344.6 L532.8,346.5 L528.9,345.2 L522.5,343.9 L518.6,343.3 L516.7,341.4 L516.0,333.6Z" fill="#9e3508"/>
<path d="M490.0,357.0 L500.0,352.0 L510.0,350.0 L514.5,349.1 L518.2,352.7 L516.3,356.3 L514.5,361.8 L518.2,365.4 L523.6,369.0 L529.0,372.7 L534.5,376.3 L531.8,379.9 L523.6,380.8 L518.2,382.6 L514.5,387.2 L512.7,392.6 L508.0,392.0 L506.0,385.0 L508.0,377.0 L500.0,375.0 L492.0,372.0 L489.0,365.0Z" fill="#bd6c48"/>
<path d="M535.0,345.0 L556.0,345.5 L556.0,350.0 L553.0,357.0 L548.0,358.0 L540.0,354.0Z" fill="#d09f88"/>
<path d="M480.0,346.0 L490.0,345.0 L491.0,355.0 L481.0,356.0Z" fill="#d09f88"/>
<path d="M482.0,372.0 L492.0,371.0 L493.0,385.0 L483.0,385.0Z" fill="#d09f88"/>
<path d="M520.0,414.0 L529.0,414.4 L530.9,420.0 L533.0,430.5 L535.6,435.6 L535.6,446.0 L528.0,447.0 L523.0,440.0 L521.0,430.0 L519.0,420.0Z" fill="#bd6c48"/>
<path d="M534.4,443.0 L535.7,448.2 L537.0,454.6 L538.3,459.8 L538.9,466.3 L538.3,470.9 L535.0,472.8 L531.1,473.1 L527.2,474.1 L523.3,474.1 L518.8,472.8 L514.9,471.5 L513.0,469.6 L514.3,466.3 L515.6,463.7 L517.5,463.7 L521.4,463.7 L525.3,461.1 L527.2,457.2 L529.2,454.0 L531.1,450.8 L532.4,446.9 L533.7,443.0Z" fill="#8a8a8a"/>
<path d="M611.9,386.2 L623.2,386.2 L623.2,402.4 L613.5,402.4Z" fill="#d09f88"/>
<path d="M620.0,381.3 L636.2,381.3 L636.2,399.2 L624.8,399.2 L620.0,389.4Z" fill="#bd6c48"/>
<path d="M589.0,408.0 L597.2,408.0 L597.7,418.9 L590.4,419.4Z" fill="#d09f88"/>
<path d="M383.5,415.7 L388.5,415.0 L394.2,415.7 L397.8,412.8 L401.4,410.0 L403.5,408.5 L403.5,398.5 L411.4,397.8 L412.8,404.3 L415.6,408.5 L417.1,414.2 L419.9,413.5 L427.1,412.1 L434.2,410.7 L438.5,412.8 L439.2,419.9 L442.8,419.9 L451.3,421.4 L458.4,424.2 L459.2,429.9 L459.9,437.1 L454.2,435.6 L448.5,432.8 L442.8,431.4 L439.9,434.2 L439.9,439.9 L437.8,442.8 L441.3,445.6 L442.0,451.3 L439.9,452.8 L442.0,458.5 L447.0,462.8 L448.5,465.6 L442.8,468.5 L437.0,467.0 L432.8,462.8 L427.1,459.9 L421.3,459.2 L415.6,461.3 L411.4,464.2 L407.8,465.6 L405.7,462.8 L402.8,467.0 L401.4,471.3 L400.7,475.6 L394.2,475.6 L392.8,472.7 L394.2,469.9 L398.5,468.5 L396.4,464.2 L395.0,457.0 L395.7,448.5 L397.1,444.2 L392.8,442.8 L390.0,439.9 L385.7,439.9 L384.3,435.6 L383.5,427.1 L382.8,419.9Z" fill="#9e3508"/>
<path d="M416.3,319.1 L421.5,320.1 L429.8,322.2 L432.9,324.2 L432.9,331.5 L430.0,337.0 L424.0,340.0 L419.0,336.0 L417.5,330.0 L415.5,322.0Z" fill="#bd6c48"/>
<path d="M413.0,376.0 L420.0,375.7 L425.8,380.0 L420.0,388.0 L416.0,395.5 L411.3,394.0 L412.0,385.0Z" fill="#bd6c48"/>
<path d="M387.0,390.0 L395.0,389.2 L402.0,392.0 L403.0,400.0 L400.0,408.0 L394.0,412.0 L388.0,406.0 L386.4,398.0Z" fill="#d09f88"/>
<path d="M226.3,407.3 225.3,409.8 225.4,412.7 224.1,415.2 223.0,417.7 222.4,420.4 222.4,423.2 220.3,425.4 220.0,428.2 219.4,430.8M226.3,407.3 228.9,408.0 231.6,408.3 234.0,409.6 236.4,411.1 239.2,410.9 241.8,411.7 244.0,413.5 246.8,413.5 249.4,414.4 252.0,415.0 254.5,416.2M219.4,430.8 221.8,432.2 224.1,433.7 225.5,436.2 228.1,437.3 230.1,439.2 232.3,440.8 234.4,442.5M234.4,442.5 236.6,441.0 238.6,439.3 240.2,437.2 242.2,435.4 244.5,434.1 246.7,432.6 248.9,431.2 250.7,429.3 252.6,427.4 254.9,426.1 256.6,424.0M254.5,416.2 255.0,418.8 255.4,421.5 256.6,424.0M242.3,480.9 242.8,483.8 243.9,486.6 243.6,489.7 245.3,492.4 244.8,495.5 245.8,498.4M242.3,480.9 245.0,480.5 247.6,479.8 250.2,479.1 252.8,478.2 255.6,478.6 258.2,477.7 260.8,477.1 263.4,476.6 266.1,476.2M260.3,506.0 257.8,504.7 255.7,503.0 253.1,501.9 250.6,501.0 248.2,499.6 245.8,498.4M260.3,506.0 264.5,505.0M266.1,476.2 267.7,478.2 269.7,479.9M269.7,479.9 269.5,482.8 268.9,485.6 268.3,488.4 268.0,491.2 267.3,494.0 265.8,496.6 266.1,499.5 265.7,502.3 264.5,505.0M207.3,375.8 204.2,376.4 201.0,376.4 198.0,377.7M207.3,375.8 208.9,378.1 211.1,379.8 213.6,381.0 215.1,383.5 217.0,385.4 219.4,387.0 221.0,389.2 222.7,391.4 225.0,392.9M225.0,392.9 224.6,395.9 224.3,399.0 223.5,402.0M223.5,402.0 221.0,402.9 218.3,402.6 215.7,402.9 213.0,403.0 210.4,403.5 207.9,404.4 205.3,404.9 202.6,405.0M202.6,405.0 201.2,402.4 199.0,400.2 197.3,397.7 194.6,396.1 193.4,393.2 191.4,391.0M198.0,377.7 196.4,380.2 195.1,382.9 194.2,385.8 193.3,388.6 191.4,391.0M234.4,442.5 234.5,443.0M256.6,424.0 258.4,426.1 260.9,427.4 263.1,429.0M246.8,455.8 244.8,453.6 242.3,451.8 241.0,449.0 238.7,447.1 236.7,445.0 234.5,443.0M246.8,455.8 249.8,455.7 252.8,456.1 255.8,456.0 258.7,455.9M263.1,429.0 262.3,431.7 262.5,434.5 262.3,437.2 260.8,439.7 261.4,442.6 260.1,445.1 260.2,447.9 259.2,450.5 259.7,453.3 258.7,455.9M242.3,480.9 239.7,479.5 237.5,477.5M266.1,476.2 265.8,473.3 265.3,470.4 266.4,467.5 265.8,464.7 265.7,461.8M246.8,455.8 245.6,458.1 245.3,460.9 243.5,462.9 242.1,465.2 242.2,468.1 240.2,470.1 238.9,472.4 238.1,474.9 237.5,477.5M265.7,461.8 263.7,459.5 261.2,457.7 258.7,455.9M281.4,445.4 280.7,448.1 281.1,450.9 280.4,453.6M281.4,445.4 284.0,444.3 286.3,442.7 288.5,440.9 291.3,440.0 293.5,438.2 295.7,436.5M280.4,453.6 283.2,455.1 285.5,457.2 287.7,459.4 289.9,461.6 292.7,463.1M295.7,436.5 298.7,436.7 301.7,437.2 304.5,438.1 307.3,439.2M292.7,463.1 295.2,462.0 297.9,462.0M297.9,462.0 299.5,459.5 300.5,456.8 301.2,453.9 302.8,451.5 304.1,448.9 304.9,446.1 307.0,443.8 307.8,441.0M307.8,441.0 307.3,439.2M264.7,429.3 263.1,429.0M264.7,429.3 266.8,431.3 269.3,432.9 271.1,435.2 273.5,436.9 274.9,439.6 277.2,441.4 279.0,443.8 281.4,445.4M265.7,461.8 268.3,460.7 270.3,458.5 272.9,457.5 275.6,456.5 277.6,454.4 280.4,453.6M286.5,420.4 283.9,421.0 281.4,421.8 279.3,423.5 276.8,424.3 274.3,425.1 271.7,425.7 269.8,427.9 267.2,428.6 264.7,429.3M286.5,420.4 287.2,423.0 289.5,424.8 290.3,427.4 291.9,429.5 292.5,432.2 294.2,434.3 295.7,436.5M269.7,479.9 272.7,480.2 275.7,480.9 278.8,480.6 281.8,480.8 284.8,480.9M284.8,480.9 285.4,478.1 287.7,476.1 288.3,473.3 289.4,470.8 290.8,468.3 291.1,465.5 292.7,463.1M127.4,324.7 124.8,324.0 122.5,322.5 119.7,322.2 117.0,321.9 114.8,320.0 112.2,319.3 109.5,319.0 106.9,318.1 104.3,317.4 102.1,315.7 99.1,316.1 96.8,314.6 94.1,314.2 91.7,312.9M127.4,324.7 129.4,322.9 130.9,320.7 131.9,318.1 133.2,315.7 135.3,314.0 136.3,311.4 138.3,309.5 140.1,307.6 141.4,305.2M91.6,306.2 91.3,309.6 91.7,312.9M141.4,305.2 141.2,302.1 139.8,299.3 139.7,296.2 138.8,293.2 138.2,290.2M189.6,653.3 193.6,654.4M193.6,654.4 194.4,657.1 195.7,659.6M195.7,659.6 193.6,664.3M227.0,582.7 229.7,582.3 232.3,581.6 234.9,581.4 237.5,580.3 240.3,580.5 242.9,580.2 245.5,579.4 248.2,578.8 250.8,578.2M227.0,582.7 225.8,579.6 224.2,576.9 222.6,574.0 221.8,570.9M250.8,578.2 250.5,573.7M250.5,573.7 248.7,571.8 247.0,569.7 245.4,567.6 242.8,566.4 241.1,564.4 239.4,562.4 237.7,560.4 235.8,558.6M235.8,558.6 233.4,559.9 231.3,561.6 230.1,564.2 228.0,565.9 225.8,567.4 224.1,569.5 221.8,570.9M199.1,585.5 201.1,587.8 203.1,590.0 204.7,592.7 207.4,594.4 209.2,596.8M199.1,585.5 199.4,582.5 199.1,579.5M209.2,596.8 212.0,596.7 214.7,596.2 217.3,595.4 220.0,594.7 222.7,594.2M199.1,579.5 201.1,577.5 203.2,575.5 205.0,573.2 207.1,571.4 208.8,569.0 210.6,566.8M227.0,582.7 226.1,585.6 225.1,588.5 223.9,591.4 222.7,594.2M221.8,570.9 219.0,569.8 216.4,568.4 213.5,567.5 210.6,566.8M260.3,506.0 259.0,508.3 257.3,510.4 256.8,513.2 255.6,515.6 254.0,517.7 253.0,520.2 251.6,522.4 249.8,524.5M245.8,498.4 243.3,499.4 241.3,501.1 239.5,503.2 236.7,503.6 234.8,505.6 232.5,506.9 230.5,508.6 228.1,509.8M249.8,524.5 246.7,524.9 243.6,525.4 240.5,526.2 237.4,526.2M237.4,526.2 236.0,523.9 234.9,521.4 233.4,519.2 232.5,516.6 231.0,514.4 229.1,512.4 228.1,509.8M255.1,355.2 253.3,353.6M255.1,355.2 257.9,355.4 260.7,355.2 263.4,355.7 266.1,356.4 268.9,356.3M253.3,353.6 255.5,351.5 257.4,349.2 258.5,346.3 260.9,344.5 262.2,341.8M274.0,345.8 270.8,345.4 268.1,343.9 265.2,342.7 262.2,341.8M274.0,345.8 273.7,349.0 273.4,352.1M268.9,356.3 271.5,354.6 273.4,352.1M298.9,409.6 295.6,410.3 292.4,411.3 289.3,412.7M298.9,409.6 299.3,406.8 298.8,404.0 299.2,401.3 298.9,398.5 299.8,395.7 300.1,393.0 300.0,390.2M279.9,403.1 281.7,405.1 284.1,406.5 285.3,409.1 287.8,410.4 289.3,412.7M279.9,403.1 281.4,400.4 283.4,397.9 285.2,395.3 286.5,392.5M286.5,392.5 289.2,392.2 291.9,391.9 294.6,391.2 297.2,390.1 300.0,390.2M256.6,412.1 258.9,410.4 261.2,408.7 264.0,407.9 266.3,406.1 269.0,405.0 271.6,403.7 273.9,402.0M256.6,412.1 256.3,409.2 255.8,406.4 255.6,403.5 254.8,400.6 254.1,397.8 253.3,395.0 253.2,392.1M253.2,392.1 256.0,390.3 258.2,388.0M258.2,388.0 261.4,388.2 264.3,389.6 267.5,389.1 270.5,390.0M273.9,402.0 273.3,399.0 271.8,396.1 271.9,392.9 270.5,390.0M254.5,416.2 256.6,412.1M279.9,403.1 277.0,402.0 273.9,402.0M286.5,420.4 286.8,417.6 288.6,415.3 289.3,412.7M225.0,392.9 227.0,390.8 229.0,388.8 232.0,388.0 233.5,385.4 235.9,383.9M223.5,402.0 224.6,404.8 226.3,407.3M235.9,383.9 238.4,384.9 240.9,386.1 243.2,387.7 246.1,388.0 248.5,389.4 250.5,391.4 253.2,392.1M270.1,365.2 272.9,366.1 275.6,367.4M270.1,365.2 267.6,367.1 264.8,368.5 262.1,370.0 259.6,371.9M275.6,367.4 276.4,370.5 276.6,373.7 277.5,376.7 277.8,379.9M260.1,373.9 259.4,372.6M260.1,373.9 262.6,375.3 265.5,375.8 267.8,377.7 270.5,378.7 273.1,380.0 275.8,380.8M277.8,379.9 275.8,380.8M259.6,371.9 259.4,372.6M284.6,360.6 282.5,362.5 279.9,363.7 277.8,365.6 275.6,367.4M284.6,360.6 282.5,358.7 280.5,356.7 277.5,356.0 275.9,353.5 273.4,352.1M268.9,356.3 269.8,359.2 269.8,362.2 270.1,365.2M255.1,355.2 256.3,357.9 256.5,360.8 256.9,363.7 258.3,366.3 258.8,369.1 259.6,371.9M235.9,383.9 237.4,381.1 237.6,377.9 238.5,374.9M238.5,374.9 241.1,374.8 243.7,374.1 246.4,374.7 249.0,374.3 251.6,374.1 254.2,373.8 256.8,373.0 259.4,372.6M258.2,388.0 259.2,385.3 258.6,382.3 259.5,379.6 259.2,376.7 260.1,373.9M270.5,390.0 272.3,387.9 273.2,385.4 274.5,383.1 275.8,380.8M286.5,392.5 284.9,390.1 283.9,387.5 282.2,385.3 281.6,382.5 279.9,380.2M279.9,380.2 277.8,379.9M232.2,351.0 234.8,351.7 237.5,351.6 240.1,352.0 242.7,352.5 245.4,352.6 248.1,352.7 250.7,352.9 253.3,353.6M232.2,351.0 232.8,353.7 233.5,356.4 234.9,358.8 235.2,361.6 236.0,364.2 236.7,366.8 236.8,369.6 237.9,372.2 238.5,374.9M327.4,416.2 328.3,419.4 328.4,422.6 327.9,425.9 328.5,429.1M327.4,416.2 324.7,414.9 322.5,412.8 320.6,410.4 318.0,408.8M308.1,412.8 308.6,415.5 307.7,418.2 308.2,420.9 308.2,423.6 308.3,426.3 308.3,429.0 309.1,431.7 308.0,434.4 308.8,437.1M308.1,412.8 310.5,411.8 312.9,410.8 315.2,409.6 317.7,408.8M308.8,437.1 311.5,436.6 313.9,435.4 316.1,434.0 318.6,432.9 321.0,431.8 323.7,431.5 325.9,429.8 328.5,429.1M317.7,408.8 318.0,408.8M333.7,395.0 335.5,397.4 337.0,400.0 339.0,402.3 341.1,404.5 342.3,407.3M333.7,395.0 330.8,393.9M342.3,407.3 341.8,410.0M341.8,410.0 339.4,411.1 337.0,412.0 334.4,412.5 332.4,414.5 329.8,415.2 327.4,416.2M330.8,393.9 328.8,395.9 326.7,397.8 325.0,400.1 323.8,402.7 321.5,404.4 319.9,406.8 318.0,408.8M298.9,409.6 302.0,410.6 305.1,411.5 308.1,412.8M307.3,439.2 308.8,437.1M312.3,393.1 313.6,395.6 314.3,398.3 315.2,400.9 316.0,403.5 317.2,406.1 317.7,408.8M312.3,393.1 309.2,392.5 306.5,390.9 303.6,389.9 300.6,389.4M300.0,390.2 300.6,389.4M127.4,324.7 128.2,327.4 128.8,330.1 129.6,332.7 130.3,335.4 130.9,338.0 131.0,340.9 132.7,343.3 132.8,346.1 133.7,348.7M133.7,348.7 135.3,349.9M141.4,305.2 144.4,306.4 147.4,307.0 150.5,307.2 153.6,307.5M171.5,332.1 170.3,329.6 168.2,327.7 167.1,325.0 164.7,323.4 162.8,321.3 162.1,318.4 160.4,316.2 158.6,314.1 156.3,312.4 155.3,309.7 153.6,307.5M171.5,332.1 170.3,335.4M170.3,335.4 167.6,335.9 165.5,338.0 163.1,339.1 160.4,339.7 157.6,340.1 155.2,341.3 153.0,343.0 150.5,344.0 147.9,344.9 145.5,346.3 143.0,347.3 140.1,347.3 137.6,348.4 135.3,349.9M205.3,453.0 206.1,450.4 206.6,447.8 208.5,445.7 209.3,443.1 210.1,440.5 210.5,437.9 211.6,435.4 212.4,432.9M205.3,453.0 202.5,453.1 199.9,452.5 197.2,451.6 194.5,451.7 191.7,451.5 189.1,450.5M212.4,432.9 209.5,431.9 206.7,430.7 203.8,429.7 201.0,428.6 198.3,427.1M189.1,450.5 187.9,447.7 188.3,444.6 187.6,441.7M187.6,441.7 189.5,439.3 190.9,436.6 192.6,434.1 194.4,431.8 196.5,429.5 198.3,427.1M212.4,432.9 215.9,431.9 219.4,430.8M202.6,405.0 201.5,408.0 198.9,410.0 198.1,413.1 196.0,415.4M196.0,415.4 195.4,418.0 195.7,420.6 196.0,423.3M198.3,427.1 196.0,423.3M191.4,391.0 189.0,392.3 186.1,391.9 183.6,392.9 181.2,394.2 178.6,394.7M196.0,415.4 193.7,413.7 190.8,413.6 188.6,411.8 185.8,411.4 183.7,409.6 181.2,408.4 178.7,407.3M178.6,394.7 178.0,397.8 178.5,401.0 178.9,404.1 178.7,407.3M133.7,348.7 131.2,349.6 128.7,350.1 126.6,352.0 123.8,351.9 121.3,352.8 119.0,353.9 116.5,354.8 114.2,355.9 111.9,357.2 109.3,357.9 107.0,359.1 104.4,359.5 102.2,361.1 99.7,361.7 97.1,362.4M88.3,316.4 91.7,312.9M88.3,316.4 87.3,319.0 86.8,321.7 87.5,324.6 87.0,327.3 85.7,329.8 85.3,332.5 85.8,335.3 84.8,337.9M84.8,337.9 86.0,341.1 85.6,344.4 86.4,347.6M86.6,349.0 86.9,350.8M97.1,362.4 95.1,360.0 93.6,357.3 91.0,355.4 89.4,352.7 86.9,350.8M275.6,510.9 277.6,508.9 279.6,507.0 281.6,505.2 283.4,503.0 285.8,501.6 287.8,499.6 289.4,497.3 291.8,495.8M275.6,510.9 277.5,513.2 277.5,516.3 279.6,518.4 280.0,521.4 281.6,523.8M281.6,523.8 284.6,523.5 287.7,523.9 290.7,523.0 293.8,522.9M293.8,522.9 295.7,520.7 296.8,518.1 298.5,515.8 300.5,513.8 301.9,511.4 304.3,509.6 305.6,507.1M305.6,507.1 303.6,504.7 301.2,503.0 298.8,501.2 296.7,499.2 294.2,497.5 291.8,495.8M264.5,505.0 267.4,506.2 269.8,508.4 272.8,509.5 275.6,510.9M284.8,480.9 286.6,483.7 288.9,486.0 291.6,487.9M291.6,487.9 291.1,490.5 291.7,493.2 291.8,495.8M322.5,454.0 321.4,456.4 321.8,459.3 319.9,461.6 319.2,464.1 319.0,466.8 318.7,469.5 318.1,472.1 317.0,474.6M322.5,454.0 320.6,451.9 318.2,450.4 316.0,448.7 314.1,446.6 312.3,444.4 310.0,442.7 307.8,441.0M297.9,462.0 299.8,464.1 302.6,465.1 304.8,466.9 307.5,467.9 309.6,469.8 312.0,471.3 314.2,473.1 316.4,474.9M316.4,474.9 317.0,474.6M291.6,487.9 294.2,486.5 297.2,486.5 299.6,484.5 302.7,484.6 305.0,482.4 307.7,481.5 310.7,481.4 313.4,480.2M316.4,474.9 314.9,477.6 313.4,480.2M375.8,425.4 378.6,425.8 380.8,427.7 383.3,429.0 386.1,429.5 388.9,430.0 391.3,431.5M375.8,425.4 377.7,423.2 379.3,420.8 380.2,418.0 382.2,415.8 382.9,412.9 384.6,410.6 386.5,408.4M397.4,410.1 394.6,410.3 391.9,409.7 389.3,408.3 386.5,408.4M397.4,410.1 397.5,413.1 397.1,416.1 396.7,419.1 397.3,422.1 396.7,425.1 397.1,428.1M397.1,428.1 394.5,430.4 391.3,431.5M265.9,661.4 268.2,663.2 270.2,665.4 272.6,667.2 274.9,669.0 277.1,671.0 279.5,672.8M265.9,661.4 266.4,656.8M266.4,656.8 267.5,654.3 270.0,652.8 271.0,650.2M271.0,650.2 273.6,651.1 276.3,650.9 278.9,651.5 281.5,652.1 283.8,653.8 286.5,654.1 289.2,654.2 291.6,655.5 294.5,655.1 296.9,656.3M279.5,672.8 281.6,671.3 284.3,670.7 286.5,669.4 288.5,667.5 291.0,666.5 293.4,665.5 295.7,664.3M295.7,664.3 296.5,661.7 296.2,658.9 296.9,656.3M298.7,654.1 298.3,651.1 297.4,648.1 296.8,645.1 296.7,642.0M298.7,654.1 296.9,656.3M282.2,630.6 284.3,632.3 286.7,633.4 288.5,635.3 290.2,637.5 292.9,638.4 295.1,639.8 296.7,642.0M282.2,630.6 279.8,632.0 277.2,632.7 274.6,633.7 272.2,634.9M272.2,634.9 271.0,636.8M271.0,636.8 271.4,639.5 270.5,642.2 271.0,644.9 271.2,647.5 271.0,650.2M301.8,674.9 305.2,675.7 308.1,677.7 311.4,678.7M301.8,674.9 300.3,672.3 299.4,669.3 297.2,667.0 295.7,664.3M298.7,654.1 301.5,654.5 304.2,653.5 307.0,652.9 309.8,653.0 312.5,652.4 315.3,652.9M315.3,652.9 317.8,654.8 319.5,657.5 320.9,660.3 323.4,662.2M311.4,678.7 313.1,676.4 314.7,673.9 317.0,672.0 317.8,668.9 319.4,666.5 321.7,664.6 323.4,662.2M271.0,636.8 268.2,636.1 265.3,636.6 262.5,636.1 259.7,635.4 256.9,635.5 254.0,635.6 251.2,635.4 248.4,634.7M266.4,656.8 263.7,655.8 261.3,654.3 258.4,654.0 256.1,652.2 253.6,650.7 251.0,649.7 248.2,649.0 245.7,647.7M248.4,634.7 247.2,637.2 247.3,639.9 246.3,642.4 246.8,645.2 245.7,647.7M259.4,667.7 256.8,667.0 254.0,667.2 251.4,666.4 248.7,666.1 245.9,666.8 243.3,665.4 240.6,665.5M259.4,667.7 261.7,665.7 263.5,663.2 265.9,661.4M240.6,665.5 240.6,662.9 240.7,660.2 241.7,657.8 241.7,655.1 243.1,652.7 242.9,650.0M242.9,650.0 245.7,647.7M282.2,630.6 283.0,627.5 284.8,624.8 286.3,622.0M262.2,614.4 263.1,617.1 264.6,619.6 266.6,621.8 267.7,624.4 268.2,627.4 269.8,629.7 270.4,632.6 272.2,634.9M262.2,614.4 264.9,613.1 267.5,611.7 269.9,610.0 272.4,608.3 275.0,606.8 277.7,605.6M277.7,605.6 279.4,607.7 280.3,610.2 281.2,612.7 282.9,614.8 283.7,617.4 284.9,619.7 286.3,622.0M277.8,532.1 278.2,534.7 280.0,536.9 280.6,539.5 281.1,542.1 281.7,544.7 282.9,547.1 284.2,549.4 285.0,552.0M277.8,532.1 275.0,532.7 272.2,533.7 269.3,534.2 266.4,534.3 263.6,535.1 260.7,535.2M260.7,535.2 259.2,537.5 259.3,540.4 257.5,542.5 257.4,545.3 255.8,547.6M279.5,558.9 281.7,556.9 283.0,554.1 285.0,552.0M279.5,558.9 276.6,558.8 273.7,558.3 270.8,558.2 267.9,557.9 264.9,557.6 262.0,557.6M262.0,557.6 260.7,554.9 258.5,552.8 256.8,550.4 255.8,547.6M304.6,531.4 304.5,534.4 303.5,537.2 303.5,540.2 303.1,543.1 301.8,545.9 302.1,548.9 301.6,551.8M304.6,531.4 302.7,529.3 300.4,527.8 298.5,525.8 296.4,524.1 293.8,522.9M281.6,523.8 280.7,526.7 279.6,529.5 277.8,532.1M301.6,551.8 298.8,551.9 296.0,552.0 293.3,552.1 290.5,551.3 287.8,551.6 285.0,552.0M249.8,524.5 252.3,526.3 254.4,528.5 256.5,530.8 258.9,532.7 260.7,535.2M240.1,548.5 242.7,548.2 245.4,548.5 248.0,548.2 250.6,547.4 253.2,547.1 255.8,547.6M240.1,548.5 239.2,546.0 239.6,543.2 238.4,540.8 238.8,538.0 238.3,535.4 237.2,532.9 236.7,530.4 236.6,527.7M236.6,527.7 237.4,526.2M309.1,579.0 306.3,579.2 303.5,579.1 300.8,578.7 298.0,579.4 295.2,579.1 292.4,578.9 289.6,578.9 286.8,579.1 284.0,579.0 281.2,578.4M309.1,579.0 309.0,576.2 307.9,573.6 307.6,570.8 306.4,568.2 305.3,565.6 304.7,562.9 304.0,560.2 303.3,557.5 302.5,554.8 302.0,552.1M281.2,578.4 281.1,575.6 281.2,572.8 280.1,570.1 280.3,567.3 280.0,564.5 280.3,561.7 279.5,558.9M302.0,552.1 301.6,551.8M275.4,586.5 277.6,584.0 279.9,581.5 281.2,578.4M275.4,586.5 272.6,586.2 269.8,586.8 267.1,585.6 264.2,586.4 261.5,585.0 258.7,584.9 255.9,585.3M250.8,578.2 252.0,580.8 253.9,583.1 255.9,585.3M250.5,573.7 251.9,571.2 253.7,569.0 255.0,566.5 257.1,564.5 259.1,562.5 260.9,560.2 262.0,557.6M240.1,548.5 237.5,550.9 235.7,553.9M235.8,558.6 235.7,553.9M311.4,678.7 313.9,683.1M313.9,683.1 316.7,684.5 320.0,684.4 322.9,685.6 325.8,686.8M325.5,662.7 323.4,662.2M328.6,686.0 325.8,686.8M377.1,577.6 376.0,580.2 375.9,583.0 375.0,585.7 375.4,588.6 374.7,591.3M377.1,577.6 380.4,577.6 383.8,577.1 387.1,577.0M387.1,577.0 387.4,577.3M374.7,591.3 377.0,593.0M206.3,628.6 207.1,625.8 207.8,623.0 207.5,620.1 208.6,617.4M206.3,628.6 204.2,630.4 201.4,631.2 199.4,633.3 197.1,634.9 194.5,635.8M185.9,625.9 188.0,624.0 188.7,621.3 190.9,619.5 192.3,617.2 193.8,615.0 194.9,612.5M185.9,625.9 186.3,628.5 186.9,631.1 188.3,633.5M194.9,612.5 197.9,612.0 201.0,611.4 204.0,610.8M188.3,633.5 191.5,634.4 194.5,635.8M204.0,610.8 206.0,612.6 206.5,615.6 208.6,617.4M214.9,638.1 213.1,635.4 211.0,633.0 208.9,630.6 206.3,628.6M214.9,638.1 218.2,638.2 221.3,637.1 224.6,637.2M222.2,620.2 223.3,623.1 223.7,626.2 224.3,629.2 225.2,632.2 225.7,635.2M222.2,620.2 219.4,619.8 216.8,618.9 213.9,619.1 211.4,617.6 208.6,617.4M224.6,637.2 225.7,635.2M198.8,644.3 202.1,644.6 205.2,645.9 208.5,646.2M198.8,644.3 198.0,641.1 195.8,638.7 194.5,635.8M208.5,646.2 210.9,643.7 213.2,641.1 214.9,638.1M172.1,615.3 172.6,612.5 172.7,609.6 173.5,606.9 174.1,604.1 175.8,601.6 175.8,598.7M174.2,621.5 176.9,623.1 180.1,623.7 183.1,624.5 185.9,625.9M175.8,598.7 178.0,600.1 180.2,601.5 182.1,603.4 184.3,604.8 186.2,606.7 188.4,608.0 190.3,609.9 192.8,610.9 194.9,612.5M182.8,638.9 185.6,636.3 188.3,633.5M175.8,598.7 175.1,596.6M175.1,596.6 177.4,595.3 179.8,594.2 182.3,593.3 184.9,592.5 187.1,591.1 189.4,589.7 191.8,588.6 194.2,587.5 196.5,586.0 199.1,585.5M209.2,596.8 208.2,599.6 206.9,602.3 206.1,605.2 204.6,607.8 204.0,610.8M193.6,654.4 194.4,651.6 195.8,649.1 197.4,646.8 198.8,644.3M240.6,665.5 238.9,667.0M238.9,667.0 235.1,667.0 231.3,666.7M227.7,646.2 230.3,646.5 232.7,647.7 235.5,647.5 237.7,649.4 240.3,649.5 242.9,650.0M227.7,646.2 226.5,648.7 224.6,650.8 223.8,653.6 222.4,656.0 221.0,658.5M231.3,666.7 229.5,664.8 227.2,663.5 225.5,661.3 222.8,660.5 221.0,658.5M208.5,646.2 209.3,649.0 210.1,651.7 211.8,654.1 212.6,656.9 213.6,659.5M227.7,646.2 227.2,643.0 225.5,640.2 224.6,637.2M221.0,658.5 217.4,659.1 213.6,659.5M195.7,659.6 198.6,659.2 201.4,660.4 204.3,660.2 207.3,659.4 210.1,660.2 213.0,660.2M213.6,659.5 213.0,660.2M259.4,667.7 259.6,670.6 259.3,673.4 259.0,676.3 258.0,679.1 258.5,682.0M238.9,667.0 238.9,669.7 240.0,672.2 239.9,674.9 241.4,677.4 241.3,680.1 241.7,682.7M243.4,684.3 241.7,682.7M243.4,684.3 246.1,683.8 248.8,684.7 251.4,683.3 254.1,684.2 256.7,683.7M256.7,683.7 258.5,682.0M279.5,672.8 278.5,675.5 278.5,678.4 278.6,681.2 278.5,684.0 278.2,686.8M258.5,682.0 261.4,682.3 264.3,682.9 266.8,684.5 269.8,684.7 272.5,685.9 275.5,685.6 278.2,686.8M243.4,684.3 242.9,686.9 242.2,689.5 242.2,692.2 242.0,694.9 241.9,697.6M257.9,698.7 258.2,695.6 257.8,692.6 257.1,689.7 257.0,686.7 256.7,683.7M257.9,698.7 255.4,700.2 253.8,702.6 251.8,704.7 249.7,706.7M249.7,706.7 248.0,704.3 245.5,702.4 243.4,700.3 241.9,697.6M88.3,316.4 83.3,316.5M84.8,337.9 81.4,338.1 78.0,337.7 74.6,338.5M148.3,514.5 148.9,516.3M148.9,516.3 148.0,517.1M235.7,553.9 233.0,552.9 230.5,551.5 227.8,550.4 225.1,549.4 222.2,548.9 220.0,546.7 217.2,546.0 214.7,544.6 211.8,544.0M210.6,566.8 209.3,564.0 208.5,561.1 208.3,558.1 207.0,555.3 206.9,552.2M206.9,552.2 208.5,549.4 209.6,546.4 211.8,544.0M183.5,567.9 185.5,569.8 187.6,571.7 189.9,573.2 192.8,574.0 195.0,575.7 196.9,577.8 199.1,579.5M183.5,567.9 182.4,565.1 182.7,562.1 182.3,559.2M182.3,559.2 184.5,556.8 186.0,553.9M206.9,552.2 204.3,552.0 201.6,552.0 199.0,552.3 196.4,552.9 193.8,552.9 191.2,553.2 188.5,553.1 186.0,553.9M236.6,527.7 233.9,528.5 231.5,529.8 228.9,530.7 226.4,531.9 224.0,533.1 221.7,534.8 219.2,535.8 217.0,537.6 214.5,538.8 211.8,539.5M228.1,509.8 225.4,508.4 222.5,507.7M222.5,507.7 219.3,508.7 216.5,510.6M216.5,510.6 215.0,513.0 214.3,515.7 214.0,518.5 213.0,521.1 212.6,523.9 211.6,526.5 210.4,529.0 209.5,531.6 208.5,534.2M208.5,534.2 210.6,536.6 211.8,539.5M211.8,544.0 211.8,539.5M205.3,453.0 207.1,455.4 207.9,458.3 209.5,460.8 211.4,463.1M234.5,443.0 232.3,444.8 231.5,447.6 230.2,450.0 228.3,452.0 226.3,454.0 224.7,456.1 223.1,458.3 221.5,460.5 220.0,462.8 218.7,465.3M211.4,463.1 215.2,463.8 218.7,465.3M237.5,477.5 234.9,477.7 232.3,476.8 229.7,476.8 227.0,476.9M218.7,465.3 220.7,467.4 222.1,469.9 223.4,472.5 225.5,474.5 227.0,476.9M222.5,507.7 222.3,505.0 221.3,502.4 220.6,499.8 221.0,497.0 219.9,494.5 219.8,491.7 219.4,489.1M227.0,476.9 225.6,479.4 224.2,481.9 222.1,484.0 221.2,486.8 219.4,489.1M195.8,475.4 198.1,473.8 200.2,471.9 202.2,469.9 205.1,468.9 206.6,466.2 209.2,464.9 211.4,463.1M195.8,475.4 195.3,478.4 195.2,481.4 195.1,484.5 194.5,487.4M219.4,489.1 216.8,488.3 214.1,489.5 211.4,489.1 208.7,489.1 206.0,489.2 203.4,487.9 200.7,488.6 198.0,488.7 195.3,488.2M194.5,487.4 195.3,488.2M216.5,510.6 213.6,510.1 210.6,509.3 207.7,508.6 204.6,508.7 201.7,508.0 198.7,507.1M195.3,488.2 195.6,491.0 195.8,493.7 196.7,496.3 197.7,499.0 197.4,501.8 197.8,504.5 198.7,507.1M415.5,411.5 414.7,414.0 414.1,416.6 414.2,419.3 413.3,421.8 412.3,424.2 412.5,427.0 411.3,429.4M415.5,411.5 418.9,411.4 422.0,409.7 425.5,409.7M427.8,434.5 424.9,434.0 422.2,433.0 419.4,432.5 416.9,430.9 413.9,430.7 411.3,429.4M427.8,434.5 428.7,431.9 430.0,429.7 431.8,427.8 433.3,425.7 434.6,423.4M434.6,423.4 433.3,420.9 431.6,418.8 429.7,416.7 428.0,414.6 427.4,411.7 425.5,409.7M353.8,312.7 353.6,309.8 354.5,307.0 354.8,304.1 354.9,301.2M353.8,312.7 356.5,312.0 359.2,313.3 361.8,312.8 364.5,312.7M364.5,312.7 364.8,310.0 366.3,307.7M235.5,128.2 235.4,131.3 234.0,134.1 232.9,136.9 232.3,139.9 231.6,142.8M235.5,128.2 238.1,129.7M231.6,142.8 235.6,144.8M235.6,144.8 238.0,143.4 240.7,142.9M353.8,312.7 351.7,315.1 349.2,317.2M364.5,312.7 366.4,315.7 368.3,318.8M366.5,325.9 367.8,322.4 368.3,318.8M366.5,325.9 363.6,328.2M349.2,317.2 351.5,319.2 354.3,320.5 356.8,322.3 358.9,324.4 361.6,325.8 363.6,328.2M302.2,219.7 301.8,217.1 300.2,214.7 300.0,211.9M302.2,219.7 299.6,221.3 297.9,223.8 295.5,225.6 292.9,227.2 290.4,228.7 288.3,230.9M286.6,230.9 288.3,230.9M286.6,230.9 286.5,228.2 286.1,225.6 285.4,223.0 285.4,220.3 285.9,217.5 285.6,214.9 284.8,212.3 285.0,209.6M285.0,209.6 288.7,209.6 292.1,208.3M415.5,411.5 413.0,410.3 410.6,409.0 408.3,407.5M397.4,410.1 399.9,409.2 401.9,407.4M397.1,428.1 400.2,428.2 403.1,429.9 406.3,429.9 409.4,430.5M411.3,429.4 409.4,430.5M408.3,407.5 405.1,407.5 401.9,407.4M333.7,395.0 336.2,394.0 338.8,393.1 340.8,390.9 343.8,390.8 346.2,389.6 348.4,387.8M342.3,407.3 344.5,405.3 347.3,404.1 349.5,402.0M348.4,387.8 350.5,389.3M349.5,402.0 349.5,398.8 350.6,395.7 350.6,392.5 350.5,389.3M341.8,410.0 343.6,412.3 345.8,414.3 347.1,417.0 349.6,418.8 351.4,421.1 352.6,423.9 354.5,426.1M363.4,424.6 360.4,424.9 357.6,426.0 354.5,426.1M363.4,424.6 363.6,421.9 364.0,419.1 364.4,416.4 363.7,413.5 364.5,410.8 363.8,408.0 364.6,405.3M349.5,402.0 352.6,402.4 355.5,403.7 358.4,404.6 361.4,405.3 364.6,405.3M384.0,404.6 381.3,404.7 378.7,404.4 376.1,404.2 373.5,403.8 370.9,404.6 368.3,403.1 365.7,403.7M384.0,404.6 386.5,408.4M375.8,425.4 372.1,426.6 368.2,427.1M363.4,424.6 365.6,426.3 368.2,427.1M364.6,405.3 365.7,403.7M182.9,354.9 182.5,357.6 181.2,360.0 181.0,362.7M182.9,354.9 181.8,352.2 179.6,350.1 178.8,347.2 176.8,345.0 174.5,343.0 173.0,340.6 172.5,337.5 170.3,335.4M181.0,362.7 178.1,364.3 175.7,366.7 172.6,367.9M135.3,349.9 136.6,353.1 138.2,356.3M172.6,367.9 169.7,367.6 167.4,365.9 164.5,365.8 162.0,364.3 159.2,363.8 156.7,362.6 154.3,361.0 151.6,360.3 148.7,360.2 146.2,358.8 143.5,358.2 140.9,357.1 138.2,356.3M198.0,377.7 195.9,375.8 193.6,374.1 191.9,371.7 189.9,369.7 187.0,368.7 185.3,366.4 183.0,364.7 181.0,362.7M178.6,394.7 176.1,392.8 173.0,391.9 170.7,389.8 167.9,388.3M172.6,367.9 172.1,370.5 171.1,373.0 170.9,375.6 169.8,378.0 170.2,380.8 169.0,383.2 168.1,385.7 167.9,388.3M158.2,438.2 161.4,439.1 164.7,439.6 167.7,441.1M158.2,438.2 159.4,435.7 160.6,433.2 161.5,430.6 161.5,427.7 163.4,425.5 164.4,423.0 165.5,420.5 165.9,417.7M167.7,441.1 170.9,439.9 173.5,437.8 176.3,435.9M176.3,435.9 176.5,433.1 176.0,430.3 177.1,427.6 176.7,424.8M176.7,424.8 174.8,422.2 172.2,420.2 170.2,417.7M165.9,417.7 170.2,417.7M149.7,439.1 151.8,440.1M149.7,439.1 148.5,436.4 146.3,434.5M146.3,434.5 146.1,431.5 147.2,428.6 147.1,425.6 147.4,422.7 147.4,419.8M151.8,440.1 155.2,439.7 158.2,438.2M164.6,416.9 161.7,417.1 158.8,417.6 156.1,418.7 153.2,418.9 150.3,419.1 147.4,419.8M164.6,416.9 165.9,417.7M187.6,441.7 184.9,440.0 182.1,438.5 179.4,436.8 176.3,435.9M196.0,423.3 193.3,423.8 190.5,423.7 187.8,424.1 185.0,424.4 182.3,425.0 179.5,425.0 176.7,424.8M178.7,407.3 176.5,408.9 175.4,411.5 174.1,413.9 171.6,415.4 170.2,417.7M165.4,458.7 167.5,456.8 169.3,454.6 171.9,453.4M165.4,458.7 165.1,461.7 165.5,464.8 165.5,467.8M173.7,472.5 170.9,471.0 168.5,469.0 165.5,467.8M173.7,472.5 176.0,471.2 178.1,469.7 180.0,467.9 182.4,466.7 184.4,465.1M171.9,453.4 174.8,454.2 177.8,455.1 180.9,455.5 183.9,456.1M184.4,465.1 184.9,462.1 184.2,459.1 183.9,456.1M151.8,440.1 151.8,442.9 152.4,445.7 153.2,448.5 152.5,451.5 153.4,454.2M153.4,454.2 156.5,455.0 159.4,456.5 162.2,458.0 165.4,458.7M167.7,441.1 169.3,444.0 170.1,447.1 170.9,450.3 171.9,453.4M174.0,485.1 171.4,484.7 168.8,485.7 166.2,485.9 163.6,486.2 160.9,486.2M174.0,485.1 174.0,481.9 174.2,478.8 174.1,475.6 173.7,472.5M160.9,486.2 160.1,483.5 159.4,480.8 158.3,478.3 156.6,475.9 156.2,473.1M156.2,473.1 158.6,471.9 160.9,470.6 162.9,468.7 165.5,467.8M174.0,485.1 176.7,487.9 179.9,490.0M195.8,475.4 193.8,473.0 191.6,470.9 188.8,469.4 187.1,466.8 184.4,465.1M179.9,490.0 182.8,489.3 185.8,489.0 188.8,489.0 191.7,488.4 194.5,487.4M189.1,450.5 186.7,453.4 183.9,456.1M146.3,434.5 143.8,433.4 141.0,433.7 138.5,432.7 135.9,432.3 133.2,432.0 130.6,431.3 128.0,430.7M147.4,419.8 144.8,416.7M144.8,416.7 142.0,417.3 139.2,417.5 136.3,416.9 133.6,417.4M133.6,417.4 132.0,419.9 131.5,422.8 130.6,425.5 129.4,428.2 128.0,430.7M86.9,350.8 86.6,350.8M96.5,366.1 97.1,362.4M305.6,507.1 307.2,506.9M313.4,480.2 313.5,483.0 314.3,485.8 314.1,488.7 314.9,491.5 315.4,494.3 316.2,497.1M307.2,506.9 309.0,505.0 311.1,503.3 312.6,501.0 314.7,499.3 316.2,497.1M304.6,531.4 307.3,530.8 310.0,530.1 312.7,529.2 315.3,528.2 318.0,527.4M318.0,527.4 318.7,523.9 320.0,520.6M307.2,506.9 309.1,508.8 310.3,511.3 312.8,512.6 314.5,514.7 315.8,517.1 317.8,518.9 320.0,520.6M391.3,431.5 391.1,434.5 391.8,437.4 391.7,440.3 391.8,443.2 391.6,446.2M408.0,448.3 407.8,445.3 408.1,442.4 408.6,439.4 409.5,436.5 409.0,433.4 409.4,430.5M408.0,448.3 405.0,449.4 401.9,449.9 398.8,450.9M398.8,450.9 396.3,449.4 394.0,447.8 391.6,446.2M322.5,454.0 325.0,452.7 327.9,452.8 330.4,451.6 333.2,451.1M317.0,474.6 320.0,474.6 322.9,475.3 325.5,476.9 328.4,477.4 331.4,477.6M331.4,477.6 334.3,476.3 336.8,474.5 339.5,473.0 342.0,471.2 344.4,469.1M344.4,469.1 344.7,468.5M333.2,451.1 335.1,452.9 336.5,455.1 337.1,457.8 339.2,459.6 340.9,461.6 341.5,464.3 343.8,466.0 344.7,468.5M328.5,429.1 331.2,430.6 334.1,431.9 336.3,434.2 339.1,435.6 341.5,437.6M333.2,451.1 334.2,448.6 336.1,446.7 337.5,444.4 338.7,442.1 340.5,440.0 341.5,437.6M354.5,426.1 352.6,428.0 350.9,430.1 349.1,432.2 346.9,433.8 344.9,435.6 342.8,437.3M341.5,437.6 342.8,437.3M716.1,298.3 714.4,295.6 713.6,292.4 712.1,289.6M716.1,298.3 717.6,299.4M717.6,299.4 720.3,298.5 722.4,296.5M712.1,289.6 713.3,288.4M525.7,412.1 528.2,411.7M525.7,412.1 524.5,415.1 523.2,418.0 522.8,421.1M530.7,423.2 525.9,424.1M522.8,421.1 525.9,424.1M528.7,437.3 531.6,436.2 534.3,434.9M528.7,437.3 527.8,436.8M525.9,424.1 526.8,427.2 526.3,430.5 526.9,433.7 527.8,436.8M717.6,299.4 718.3,301.4M733.3,306.8 732.9,304.0 733.4,301.1M732.6,307.5 729.1,308.9M718.3,301.4 720.1,303.4 722.4,304.6 725.0,305.5 727.2,307.1 729.1,308.9M565.7,337.1 562.9,338.5 560.7,340.8 558.5,343.0M566.9,336.9 567.1,336.9M559.3,351.7 559.0,348.8 558.7,345.9 558.5,343.0M559.3,351.7 562.4,351.8 565.2,350.4 568.3,350.5 571.2,349.6M571.2,349.6 570.7,347.0 569.5,344.5 568.2,342.2 567.4,339.6 567.1,336.9M671.8,382.2 668.6,381.5 665.6,380.2M665.6,380.2 666.0,383.0 666.0,385.8 665.2,388.5 665.6,391.3 664.7,394.0 664.6,396.8M666.2,396.2 664.6,396.8M668.9,373.9 666.9,376.7 665.2,379.5M665.2,379.5 665.6,380.2M688.7,331.2 689.2,329.0M689.2,329.0 691.1,326.9 693.2,324.9M693.2,324.9 696.5,325.1 699.7,325.5M312.8,703.9 311.4,706.1 309.8,708.1 308.4,710.3 306.7,712.3 305.2,714.5 303.8,716.7M312.8,703.9 311.6,701.1 309.0,699.2 307.4,696.6M301.3,696.9 300.5,699.4 299.2,701.7 297.4,703.8 296.2,706.1 294.8,708.3 293.3,710.5M301.3,696.9 304.4,697.4 307.4,696.6M293.3,710.5 296.0,711.8 298.8,713.1 300.9,715.7 303.8,716.7M301.8,674.9 300.3,677.5 298.7,679.9 296.3,681.8 295.3,684.7 292.8,686.5 291.2,689.0M291.2,689.0 293.9,690.8 295.9,693.4 298.5,695.3 301.3,696.9M313.9,683.1 313.0,686.0 311.5,688.6 309.4,690.9 309.0,694.1 307.4,696.6M317.7,741.3 314.8,739.3 311.8,737.5M307.4,739.5 309.0,738.1M307.4,739.5 306.1,742.1 306.6,745.2 305.5,747.9 304.5,750.6M305.1,751.1 304.5,750.6M311.8,737.5 309.0,738.1M311.8,737.5 313.8,734.5 316.7,732.4M316.6,721.1 313.6,720.5 310.6,720.2 307.5,719.8 304.6,718.9M304.6,718.9 303.9,721.0M303.9,721.0 304.9,723.8 305.3,726.8 306.7,729.5 307.2,732.4 308.5,735.2 309.0,738.1M257.9,613.4 256.4,616.0 254.7,618.4 253.0,620.8 250.5,622.6 248.8,625.0 246.8,627.2 245.4,629.8M257.9,613.4 256.5,610.6 253.7,608.8 252.2,606.1 250.5,603.5 248.7,600.9M248.7,600.9 245.7,601.4 243.0,602.8 240.1,603.5 237.3,604.6 234.2,604.9M244.7,629.5 245.4,629.8M244.7,629.5 243.5,627.1 241.3,625.4 239.8,623.1 238.3,620.9 236.7,618.8 235.6,616.3 234.2,614.0 232.5,611.9M232.5,611.9 233.4,608.4 234.2,604.9M262.2,614.4 257.9,613.4M248.4,634.7 247.4,631.9 245.4,629.8M275.4,586.5 276.2,589.6 277.1,592.6 279.1,595.1 280.0,598.1M255.9,585.3 254.9,588.0 252.9,590.3 252.6,593.2 251.2,595.8 250.5,598.6 248.7,600.9M277.7,605.6 278.3,603.0 279.4,600.7 280.0,598.1M222.7,594.2 224.8,595.8 227.0,597.3 228.3,599.7 230.7,601.0 232.7,602.7 234.2,604.9M225.7,635.2 228.6,635.0 231.0,633.3 234.0,633.4 236.6,632.3 239.2,631.2 241.9,630.3 244.7,629.5M222.2,620.2 224.6,618.9 226.1,616.6 228.5,615.3 230.2,613.2 232.5,611.9M374.7,591.3 371.7,592.3 369.1,594.1 366.1,595.3M364.5,602.3 365.8,598.9 366.1,595.3M387.1,577.0 389.3,574.9 391.0,572.4 392.5,569.7 394.9,567.9M399.6,569.5 394.9,567.9M435.8,498.4 438.1,499.9 439.9,501.9 442.0,503.7 444.0,505.4 446.1,507.2 447.8,509.3M435.8,498.4 435.1,500.9 434.5,503.5 433.0,505.7 432.7,508.4 431.6,510.8 430.4,513.2M447.8,509.3 447.2,512.0 446.8,514.7M430.4,513.2 432.9,514.7 435.3,516.3 438.3,516.9 440.7,518.5M446.8,514.7 443.7,516.6 440.7,518.5M452.8,505.2 455.6,504.9 458.2,506.1 461.0,506.2M452.8,505.2 450.0,506.9 447.8,509.3M464.4,515.1 462.7,512.4 462.5,509.0 461.0,506.2M446.8,514.7 449.1,516.4 451.2,518.3 453.8,519.5M323.8,536.2 326.6,536.0 329.4,536.9 332.2,536.8 335.0,536.2M323.8,536.2 322.6,538.8 321.3,541.4 321.1,544.3 320.5,547.1 319.2,549.7M335.0,536.2 336.0,538.8 336.9,541.3 336.5,544.2 337.9,546.6 338.4,549.3 339.3,551.8M339.3,551.8 336.8,553.1 334.1,553.7 331.4,554.3 328.7,555.1 326.1,556.0M319.2,549.7 321.7,551.6 324.0,553.6 326.1,556.0M302.0,552.1 304.9,552.0 307.7,551.2 310.6,550.8 313.5,550.7 316.3,549.9 319.2,549.7M318.0,527.4 319.0,529.9 320.5,532.1 322.0,534.2 323.8,536.2M317.9,708.8 316.9,706.3 315.1,704.3M315.1,704.3 317.7,702.8 320.2,701.3 323.1,700.4M304.6,718.9 303.8,716.7M312.8,703.9 315.1,704.3M325.8,686.8 325.0,689.4 324.4,691.9 324.9,694.8 323.8,697.3 323.3,699.9M207.2,678.5 206.4,681.6 204.3,684.1 203.5,687.2 202.1,690.0M207.2,678.5 209.7,677.1M209.7,677.1 212.6,678.3 215.7,679.0 218.6,680.2 221.6,681.1M205.7,696.6 208.3,695.8 211.0,695.8 213.7,696.0 216.3,695.2 218.9,694.8 221.6,695.2 224.2,694.7M205.7,696.6 204.2,693.1 202.1,690.0M221.6,681.1 223.6,683.8 225.1,686.7M224.2,694.7 225.0,692.1 225.1,689.4 225.1,686.7M200.1,690.0 202.1,690.0M195.3,671.8 197.5,673.5 199.8,674.9 202.5,675.8 204.7,677.3 207.2,678.5M213.0,660.2 213.0,663.1 212.5,665.9 211.0,668.6 210.3,671.4 210.6,674.3 209.7,677.1M231.3,666.7 229.3,668.9 228.6,671.9 226.4,673.9 224.5,676.0 223.3,678.7 221.6,681.1M205.2,701.1 205.7,696.6M207.5,705.5 210.2,706.8 211.9,709.2 214.3,710.7 216.3,712.8M216.3,712.8 218.3,710.4 220.6,708.4 223.3,706.9 225.7,705.0M225.7,705.0 226.3,701.9 226.5,698.8M226.5,698.8 224.2,694.7M241.7,682.7 239.0,683.7 236.2,684.1 233.5,685.1 230.6,685.3 228.0,686.5 225.1,686.7M241.9,697.6 238.8,697.8 235.8,698.6 232.7,698.9 229.6,698.4 226.5,698.8M225.6,740.6 228.3,739.8 230.4,737.9 232.7,736.5M232.7,736.5 232.0,734.0 231.3,731.4 231.1,728.8M222.0,729.8 224.8,729.6 227.5,728.9 230.2,728.2M230.2,728.2 231.1,728.8M232.7,736.5 235.1,738.1M235.1,738.1 235.7,740.8 234.8,743.4 234.7,746.1 235.1,748.8M235.1,748.8 233.3,751.3 230.9,753.3M303.9,721.0 301.8,723.2 299.1,724.6 296.2,725.8 294.1,727.9M307.4,739.5 304.5,738.6 301.7,737.4 298.9,736.1 295.9,735.3M294.1,727.9 294.5,731.7 295.9,735.3M270.4,699.7 272.4,697.6 273.9,695.1 275.5,692.7 277.3,690.4 278.8,687.9M270.4,699.7 271.1,702.3 271.8,704.8 272.0,707.5 273.0,710.0M273.0,710.0 275.9,710.1 278.7,710.5 281.6,710.5 284.3,711.7 287.2,711.6M283.9,690.0 283.9,692.7 285.3,695.1 284.9,697.9 286.2,700.4 287.0,703.0 287.1,705.7 287.6,708.3 288.1,710.9M283.9,690.0 281.3,689.0 278.8,687.9M288.1,710.9 287.2,711.6M257.9,698.7 261.0,698.7 264.1,699.3 267.3,699.6 270.4,699.7M278.2,686.8 278.8,687.9M291.2,689.0 287.5,689.1 283.9,690.0M293.3,710.5 288.1,710.9M294.1,727.9 291.2,726.9 288.2,725.9 285.4,724.5M285.4,724.5 285.9,721.9 286.3,719.4 286.6,716.8 287.4,714.3 287.2,711.6M179.1,531.2 181.4,528.7 184.1,526.8 186.7,524.7M179.1,531.2 176.2,531.6 173.4,531.6 170.5,531.3 167.6,531.6 164.8,531.4M160.7,523.8 162.5,526.2 163.4,528.9 164.8,531.4M160.7,523.8 161.4,521.0 163.0,518.6 163.7,515.8 164.0,512.9 165.3,510.3 166.1,507.6 167.4,505.0M167.4,505.0 170.0,504.7 172.5,503.6 175.1,503.2M175.1,503.2 176.4,505.8 178.9,507.4 180.3,509.9 182.7,511.7 183.5,514.7 185.7,516.5 187.5,518.7M186.7,524.7 187.0,521.7 187.5,518.7M186.0,553.9 185.4,551.3 184.9,548.7 184.1,546.2 183.1,543.7 182.1,541.3 182.0,538.6 180.3,536.3 179.8,533.7 179.1,531.2M208.5,534.2 206.2,532.8 203.9,531.6 201.4,530.7 198.7,530.3 196.5,528.8 193.8,528.3 191.8,526.4 189.0,526.1 186.7,524.7M148.9,516.3 151.0,518.2 153.6,519.4 155.9,520.9 158.5,522.1 160.7,523.8M159.2,538.3 155.3,537.8 151.5,537.2M159.2,538.3 161.0,535.9 162.5,533.4 164.8,531.4M158.8,500.1 161.7,501.7 164.4,503.6 167.4,505.0M158.8,500.1 156.4,502.4 153.6,504.2 150.9,506.1M158.8,500.1 158.5,497.0 158.0,493.9 157.0,490.8M160.9,486.2 159.1,488.6 157.0,490.8M179.9,490.0 178.9,492.7 177.5,495.1 177.3,498.0 175.5,500.4 175.1,503.2M198.7,507.1 196.6,508.8 194.8,510.8 193.3,513.0 191.1,514.7 189.6,516.9 187.5,518.7M458.0,424.1 456.5,426.9 454.3,429.0 451.5,430.8 450.0,433.5M458.0,424.1 456.0,422.3 455.0,419.6 452.7,418.1 451.2,415.9 449.4,413.9M450.0,433.5 447.6,432.2 446.4,429.7 443.9,428.6 442.0,426.8 440.4,424.7 438.2,423.3M449.4,413.9 446.8,415.3 444.5,417.1 442.8,419.7 440.5,421.5 438.2,423.3M434.6,423.4 438.2,423.3M438.3,400.6 435.4,401.9 433.3,404.3 430.5,405.8 428.0,407.5 425.6,409.5M438.3,400.6 440.6,402.2 443.1,403.0 446.0,403.0 448.6,403.7 450.9,405.2M425.5,409.7 425.6,409.5M451.5,406.2 450.9,405.2M451.5,406.2 450.7,408.7 450.3,411.4 449.4,413.9M427.8,434.5 427.9,437.8 429.0,440.9M408.0,448.3 410.6,449.6 413.0,451.1 415.7,451.9M429.0,440.9 426.5,442.4 424.9,445.0 422.8,446.9 420.6,448.7 418.3,450.5 415.7,451.9M429.0,440.9 431.2,442.7 433.8,444.0 436.0,445.7M430.7,465.2 428.4,466.1M430.7,465.2 433.3,462.9 434.7,459.6 437.3,457.3M428.4,466.1 425.1,465.2 421.9,464.1 419.0,462.2M419.0,462.2 418.3,459.6 417.5,457.0 416.4,454.5 415.7,451.9M437.3,457.3 436.9,454.4 436.1,451.6 436.4,448.6 436.0,445.7M504.5,451.0 502.6,453.1 501.4,455.7 499.3,457.5M504.5,451.0 507.8,450.6 511.0,449.8 514.4,449.8M515.2,464.6 511.9,464.4M509.4,464.2 506.1,464.2 502.9,463.8M516.2,463.7 515.9,460.7 516.0,457.7 516.0,454.7 516.0,451.7M514.4,449.8 516.0,451.7M502.9,463.8 500.5,461.0 499.3,457.5M466.6,467.3 466.3,470.7 465.6,474.1M466.6,467.3 463.7,465.2 461.4,462.3M461.4,462.3 458.5,462.5 455.6,461.7 452.7,461.9M457.7,479.7 456.2,477.1 455.8,474.1 453.6,471.9 452.7,469.1 451.6,466.4M457.7,479.7 460.1,477.5 463.2,476.4 465.6,474.1M451.6,466.4 452.7,461.9M455.3,486.6 453.5,487.3M455.3,486.6 456.9,483.3 457.7,479.7M453.5,487.3 450.6,486.0 448.4,483.5 445.6,482.1 443.1,480.0M442.6,473.2 442.9,476.6 443.1,480.0M442.6,473.2 445.2,472.0 447.3,470.0 449.4,468.2 451.6,466.4M442.6,473.2 439.9,472.1 438.2,469.5 435.8,467.9 433.2,466.6 430.7,465.2M451.6,460.4 448.8,459.5 445.9,459.1 442.9,459.2 440.3,457.6 437.3,457.3M451.6,460.4 452.7,461.9M368.3,318.8 370.8,318.0 373.2,316.6 375.9,316.3 378.2,314.8M377.6,311.8 378.2,314.8M383.6,330.1 385.8,327.3M383.6,330.1 380.9,328.9 377.9,328.5 375.0,328.3 372.3,326.7 369.4,326.2 366.5,325.9M385.8,327.3 385.5,324.1 383.8,321.2 383.5,318.0M383.5,318.0 381.1,316.0 378.2,314.8M422.8,328.6 424.1,329.4M422.8,328.6 419.5,329.1 416.2,328.6 412.9,328.7M404.2,336.8 406.5,335.0 408.6,332.9 410.8,330.9 412.9,328.7M404.2,336.8 404.0,340.7M424.1,329.4 423.7,332.1 424.6,334.6 424.4,337.3 424.7,339.9 424.9,342.5M424.9,342.5 422.0,343.8M422.0,343.8 419.4,343.4 416.9,342.9 414.2,342.8 411.8,341.5 409.1,342.0 406.7,340.6 404.0,340.7M431.6,350.1 430.8,346.3M431.6,350.1 430.9,353.1 429.1,355.5 428.4,358.5 427.0,361.1 425.7,363.8M425.7,363.8 425.0,364.3M424.9,342.5 427.6,344.9 430.8,346.3M422.0,343.8 420.2,346.5 419.0,349.6 417.4,352.3 415.4,354.9M425.0,364.3 423.0,362.5 421.6,360.1 419.2,358.8 417.6,356.5 415.4,354.9M404.0,340.7 402.4,344.1 400.1,347.0M400.1,347.0 402.3,349.3 404.7,351.2 406.6,353.7 409.3,355.4M409.3,355.4 412.4,354.8 415.4,354.9M421.1,389.2 423.4,387.8 425.5,386.1M421.1,389.2 421.4,391.8 421.6,394.4 422.4,396.9 424.0,399.2 423.7,401.9 423.8,404.6 425.4,406.9 425.6,409.5M438.3,400.6 438.1,397.9 437.6,395.2M425.5,386.1 428.0,387.8 429.9,390.3 432.5,392.0 435.3,393.3 437.6,395.2M225.9,126.6 224.2,124.6 222.4,122.7 220.9,120.5 219.2,118.5M225.9,126.6 228.9,126.7 231.9,127.0 234.9,126.7M236.8,122.3 234.9,126.7M235.5,128.2 234.9,126.7M231.6,142.8 230.8,143.0M230.8,143.0 228.8,141.1 226.6,139.4 224.2,138.1 221.8,136.8 219.7,135.0M219.7,135.0 221.4,133.0 223.2,131.1 224.8,129.0 225.9,126.6M230.8,143.0 228.4,144.7 227.4,147.6 224.9,149.3 223.5,151.9 221.2,153.7M212.9,136.0 216.3,135.7 219.7,135.0M212.9,136.0 212.0,138.8M212.0,138.8 213.6,141.5 213.7,144.7 214.5,147.7 216.0,150.4 217.2,153.2M221.2,153.7 217.2,153.2M257.3,195.8 260.6,196.0 263.6,194.8 266.8,194.6 270.0,194.6M257.3,195.8 257.1,198.6 257.0,201.4 256.9,204.1 257.5,206.9 256.7,209.7 257.0,212.5 256.3,215.3 256.9,218.1M278.6,205.5 277.6,202.2 276.8,198.9M278.6,205.5 277.1,207.9 275.1,209.7 273.1,211.6 271.2,213.5 269.3,215.6 267.4,217.5 265.3,219.3M270.0,194.6 272.2,196.1 274.3,197.8 276.8,198.9M256.9,218.1 259.6,218.9 262.6,218.3 265.3,219.3M263.2,331.4 262.4,333.9 260.8,336.1M263.2,331.4 261.4,329.4 260.7,326.8 259.5,324.4 258.1,322.2 256.6,319.9M260.8,336.1 257.5,335.9 254.4,334.9 251.1,335.2 247.9,334.6M247.9,334.6 248.4,331.8 248.6,329.0 248.4,326.2 248.3,323.4M256.6,319.9 253.7,320.6 251.1,322.2 248.3,323.4M290.4,295.9 290.1,293.1 288.1,290.8 288.3,287.8 287.1,285.2M290.4,295.9 291.7,296.8M291.7,296.8 294.2,295.2 297.0,294.2 299.6,292.8 302.2,291.4 304.6,289.8M287.1,285.2 290.0,284.1 292.2,281.8 294.9,280.2 297.4,278.4M297.4,278.4 299.3,280.6 300.7,283.2 303.1,285.0 304.5,287.6M304.6,289.8 304.5,287.6M278.3,298.1 281.2,297.0 284.4,297.4 287.4,296.6 290.4,295.9M278.3,298.1 277.0,295.6 276.2,292.9 275.0,290.4 274.6,287.6M281.6,282.9 279.5,284.9 276.9,285.9 274.6,287.6M281.6,282.9 284.6,283.6 287.1,285.2M275.2,303.3 276.1,306.3 275.9,309.4M275.2,303.3 277.2,301.0 278.3,298.1M293.9,306.9 293.5,303.4 292.5,300.1 291.7,296.8M293.9,306.9 291.6,308.9M291.6,308.9 289.0,309.3 286.4,308.6 283.8,308.9 281.2,309.4 278.5,309.0 275.9,309.4M281.6,282.9 281.2,279.7 281.6,276.4 280.6,273.3M284.4,269.8 280.6,273.3M284.4,269.8 287.1,269.9 289.7,270.5 292.1,271.9 294.8,271.6 297.4,272.2M297.4,272.2 297.7,275.3 297.4,278.4M289.8,320.9 287.4,321.8 284.8,322.5M289.8,320.9 289.7,317.8 291.0,314.9 291.5,311.9 291.6,308.9M273.3,314.6 274.5,312.0 275.9,309.4M273.3,314.6 274.0,316.2M274.0,316.2 276.8,317.7 279.4,319.4 282.0,321.2 284.8,322.5M293.9,306.9 297.1,308.0 300.5,308.4 303.8,309.6M303.8,309.6 305.1,308.5M304.6,289.8 306.7,292.4 309.3,294.4M305.1,308.5 305.5,305.5 306.6,302.8 308.2,300.2 308.4,297.2 309.3,294.4M274.0,345.8 276.2,344.2 277.7,341.7 280.1,340.4M263.2,331.4 265.7,330.5 268.2,329.6 270.9,329.4M260.8,336.1 261.2,339.0 262.2,341.8M270.9,329.4 272.9,331.1 275.2,332.4 276.6,334.8 278.8,336.4 281.1,337.7M280.1,340.4 281.1,337.7M274.0,316.2 274.0,319.0 272.4,321.4 272.6,324.2 271.8,326.8 270.9,329.4M284.8,322.5 284.8,325.5 283.9,328.4 283.7,331.4 282.5,334.2 281.9,337.1M281.9,337.1 281.1,337.7M284.6,360.6 285.8,360.6M280.1,340.4 281.6,343.1 284.0,345.1 285.9,347.5 288.0,349.7 289.7,352.2M285.8,360.6 286.5,357.5 288.9,355.2 289.7,352.2M364.6,345.5 367.1,347.4 369.0,349.9 371.6,351.6 374.4,353.1 376.5,355.5M364.6,345.5 361.6,346.9 358.7,348.6M365.2,362.8 367.3,361.0 369.8,360.0 372.1,358.5 374.5,357.3 376.5,355.5M365.2,362.8 362.4,361.6 360.2,359.6 357.9,357.7M358.7,348.6 358.9,351.7 357.6,354.6 357.9,357.7M312.3,393.1 314.7,391.2 317.0,389.1 319.6,387.3M330.8,393.9 330.1,390.9 328.3,388.5M319.6,387.3 322.4,388.0 325.4,388.1 328.3,388.5M348.4,387.8 347.6,384.7 346.1,381.8 345.3,378.6M345.3,378.6 342.3,379.4 339.3,379.9 336.3,380.3 333.5,381.7 330.5,382.4M328.3,388.5 328.8,385.2 330.5,382.4M399.0,379.8 399.9,382.9 402.3,385.3 403.3,388.3M399.0,379.8 400.9,377.3 402.8,374.9 405.7,373.3 407.4,370.7M410.5,372.0 407.4,370.7M410.5,372.0 410.5,374.9 411.1,377.7 411.6,380.5 412.0,383.3 412.7,386.0 413.1,388.8M403.3,388.3 406.6,388.3 409.8,388.9 413.0,388.9M413.1,388.8 413.0,388.9M392.5,379.7 395.8,379.2 399.0,379.8M392.5,379.7 391.7,376.9 390.4,374.3 389.7,371.5 389.4,368.6M406.7,369.6 407.4,370.7M406.7,369.6 403.7,368.5 400.7,367.3 398.0,365.5 394.9,364.3M394.9,364.3 392.3,366.6 389.4,368.6M406.7,369.6 406.7,366.7 407.1,363.8 408.9,361.2 408.6,358.2 409.3,355.4M423.0,369.6 423.9,367.0 425.0,364.3M423.0,369.6 419.9,370.3 416.9,371.4 413.7,371.6 410.5,372.0M421.1,389.2 418.4,388.8 415.8,388.3 413.1,388.8M423.0,369.6 424.5,371.7 426.0,373.9 427.0,376.3 428.3,378.6M425.5,386.1 425.8,383.3 426.8,380.8 428.3,378.6M408.3,407.5 408.4,404.7 409.8,402.3 409.7,399.4 411.0,396.9 411.3,394.1 411.8,391.4 413.0,388.9M401.9,407.4 401.0,404.7 400.2,402.0 400.2,399.1 399.1,396.4 398.1,393.8M398.1,393.8 400.8,391.2 403.3,388.3M392.5,379.7 389.9,382.3M376.5,373.4 377.1,376.1 376.1,378.9 376.9,381.6M376.5,373.4 379.5,371.0 381.6,367.8M389.4,368.6 386.8,368.5 384.3,367.9 381.6,367.8M376.9,381.6 379.5,381.6 382.1,382.0 384.7,381.9 387.3,381.6 389.9,382.3M398.1,393.8 394.6,392.8 391.2,391.7M389.9,382.3 390.4,385.4 390.0,388.7 391.2,391.7M384.0,404.6 384.6,402.0 383.7,399.3 384.4,396.7M384.4,396.7 386.3,394.5 388.6,393.0 391.2,391.7M363.0,383.9 365.9,383.9 368.8,384.6 371.7,384.5 374.6,384.9M363.0,383.9 360.9,386.6 358.2,388.8M358.2,388.8 359.3,391.3 360.3,393.9 362.4,395.9 363.7,398.3 364.9,400.7 365.7,403.4M365.7,403.4 367.8,401.2 368.8,398.4 370.8,396.1 371.9,393.3 373.5,390.7 375.3,388.4M375.3,388.4 374.6,384.9M376.5,373.4 373.9,372.4 371.2,371.3 368.8,369.6 366.1,368.7M360.1,374.7 361.0,377.8 361.7,380.9 363.0,383.9M360.1,374.7 362.4,373.1 364.3,370.9 366.1,368.7M376.9,381.6 374.6,384.9M350.5,389.3 354.4,389.3 358.2,388.8M365.7,403.7 365.7,403.4M384.4,396.7 382.5,394.2 379.5,392.9 377.2,390.9 375.3,388.4M167.9,388.3 166.7,388.7M138.2,356.3 137.6,359.1 137.9,361.9 137.8,364.7 137.8,367.5 138.1,370.3 138.1,373.1 138.0,375.9 138.7,378.7 138.1,381.5M166.7,388.7 163.9,388.6 161.4,387.8 158.9,386.9 156.4,385.8 153.6,385.8 151.2,384.2 148.4,384.6 146.0,383.0 143.2,383.4 140.7,382.1 138.1,381.5M164.6,416.9 162.9,414.6 162.4,411.6 160.7,409.3 159.7,406.6 158.7,403.9M166.7,388.7 165.2,391.2 163.7,393.6 162.4,396.2 161.3,398.9 160.0,401.4 158.7,403.9M144.8,416.7 144.5,413.5 144.8,410.4 146.2,407.4 146.1,404.2M158.7,403.9 155.5,403.5 152.4,404.3 149.2,404.4 146.1,404.2M128.8,410.6 125.7,410.2 122.5,409.7 119.3,410.1M128.8,410.6 129.9,407.8 132.1,405.7 134.2,403.5 135.0,400.5 136.4,397.9 138.6,395.8M119.3,410.1 119.4,407.2 118.1,404.4 118.6,401.5 118.5,398.6 117.6,395.8 117.4,392.9 116.9,390.1M116.9,390.1 119.6,389.1 122.5,388.8 125.0,387.1 128.0,387.0 130.9,386.6 133.6,385.6 136.2,384.5M136.2,384.5 136.7,387.3 137.7,390.1 137.5,393.1 138.6,395.8M133.6,417.4 131.8,415.3 129.9,413.3 128.8,410.6M146.1,404.2 144.6,401.7 142.2,400.2 140.2,398.1 138.6,395.8M107.1,387.6 110.4,388.1 113.7,389.0 116.9,390.1M138.1,381.5 136.2,384.5M119.3,410.1 116.4,412.4 113.9,415.2M113.2,415.2 113.9,415.2M128.0,430.7 125.5,431.9 122.9,433.1M113.9,415.2 115.4,417.7 116.8,420.2 117.5,423.0 118.5,425.7 120.3,428.0 121.3,430.7 122.9,433.1M90.1,487.5 90.3,487.3M105.7,492.1 107.0,488.7M90.3,487.3 93.1,487.7 95.9,487.6 98.6,488.6 101.4,488.8 104.3,488.3 107.0,488.7M66.5,452.8 65.9,450.4M66.5,452.8 69.6,454.6M69.6,454.6 72.5,454.4M72.5,454.4 74.2,451.4M80.7,440.4 80.9,440.0M59.3,453.6 62.9,452.8 66.5,452.8M65.6,465.7 67.0,463.1 66.9,459.9 69.2,457.6 69.6,454.6M417.1,483.4 414.2,485.3 410.9,486.4 408.1,488.4M417.1,483.4 415.5,480.8 413.9,478.2 412.0,475.9 410.9,473.0 409.2,470.5M408.1,488.4 406.1,486.4 403.2,485.5 401.2,483.5M401.2,483.5 401.0,480.3 401.3,477.1 402.2,474.0 402.8,470.8M409.2,470.5 406.0,470.0 402.8,470.8M398.8,450.9 398.7,453.6 398.8,456.4 397.9,459.0 397.6,461.8 396.8,464.4 396.9,467.2M419.0,462.2 416.5,464.2 414.4,466.7 411.4,468.0 409.2,470.5M396.9,467.2 400.1,468.5 402.8,470.8M342.8,437.3 344.7,439.5 346.8,441.5 348.1,444.3 350.1,446.5 352.7,448.1 354.1,450.7 355.6,453.2 358.0,455.1M344.7,468.5 347.8,467.7 350.6,466.0 353.6,465.1M353.6,465.1 354.1,462.3 356.4,460.3 356.9,457.6 358.0,455.1M368.2,427.1 369.0,429.8 368.4,432.8 369.0,435.6 369.4,438.4 370.8,441.0 370.4,444.0 370.6,446.8 371.6,449.6M358.0,455.1 360.7,454.1 363.4,452.8 366.1,451.8 368.7,450.4 371.6,449.6M391.6,446.2 388.8,446.8 386.4,448.3 383.8,449.6 381.3,450.7 378.5,451.2 375.8,452.1M396.9,467.2 394.2,468.0 391.5,468.8 388.8,469.2 386.2,470.3 383.4,470.9 380.8,471.9M380.8,471.9 380.0,469.1 378.9,466.3 379.2,463.2 377.5,460.7 377.5,457.7 376.2,455.0 375.8,452.1M371.6,449.6 375.8,452.1M431.5,484.4 427.1,481.8M431.5,484.4 432.7,486.9 433.6,489.4 434.4,492.1 434.8,494.9 436.2,497.3M420.3,499.0 420.0,496.1 420.5,493.2 420.0,490.2 421.0,487.3 420.9,484.4M420.3,499.0 423.4,499.4 426.5,498.5 429.6,498.1 432.7,498.5 435.8,498.3M420.9,484.4 424.0,483.1 427.1,481.8M435.8,498.3 436.2,497.3M443.1,480.0 440.3,481.4 437.3,482.0 434.5,483.6 431.5,484.4M428.4,466.1 428.4,468.7 427.4,471.3 427.2,473.9 427.7,476.6 427.9,479.2 427.1,481.8M451.9,489.8 453.5,487.3M451.9,489.8 449.3,491.2 446.7,492.3 444.1,493.6 441.4,494.8 439.0,496.4 436.2,497.3M417.1,483.4 420.9,484.4M452.8,505.2 452.3,502.1 452.8,499.0 452.8,495.9 451.9,492.9 451.9,489.8M435.8,498.4 435.8,498.3M674.2,320.2 673.2,321.2M674.2,320.2 676.9,321.3 679.2,323.1 681.6,324.7 684.3,325.8 686.7,327.5 689.2,329.0M682.2,338.6 679.4,338.8 676.5,339.3 673.7,338.8M673.7,338.8 673.9,335.8 673.7,332.9 673.4,330.0 673.4,327.0 673.4,324.1 673.2,321.2M675.3,271.9 676.6,275.1 678.5,278.1 679.4,281.5M679.4,281.5 678.5,285.1M678.5,285.1 677.0,286.2M677.0,286.2 674.1,285.1 671.5,283.4 668.5,282.8 665.9,281.3 662.9,280.6M662.9,280.6 664.8,277.9 665.2,274.5 667.1,271.9M600.3,430.8 597.2,427.6M597.2,427.6 593.3,429.4M588.7,416.8 591.3,417.6 594.1,417.3 596.5,418.7 599.2,418.8M597.2,427.6 597.5,424.6 598.9,421.8 599.2,418.8M516.0,451.7 518.8,452.8 521.7,452.6 524.6,453.2 527.5,453.6M528.0,456.0 527.5,453.6M528.7,437.3 529.6,440.3 531.6,442.8 532.8,445.6M527.8,436.8 525.2,437.8 522.5,438.4 519.7,438.7 517.3,440.1M517.3,440.1 516.9,443.5 515.9,446.7 514.4,449.8M527.5,453.6 530.0,451.9 531.6,449.2M499.9,440.9 501.0,443.5 502.3,445.9 502.8,448.8 504.5,451.0M499.9,440.9 501.0,438.3M517.3,440.1 514.9,437.5 512.4,435.1M501.0,438.3 503.6,436.9 506.6,436.5 509.6,436.3 512.4,435.1M717.1,322.3 719.8,319.1M724.4,318.5 719.8,319.1M705.7,320.4 709.2,321.6 712.9,322.6M705.7,320.4 703.9,323.0 701.4,324.9M705.3,312.7 708.3,312.0 711.4,311.0 714.6,311.0M705.3,312.7 705.1,316.6 705.7,320.4M714.6,311.0 716.5,313.5 717.7,316.6 719.8,319.1M729.1,308.9 728.4,310.8M718.3,301.4 717.0,304.6 716.1,307.9 714.6,311.0M567.1,336.9 567.8,336.7M546.3,355.6 549.2,351.4M537.1,350.6 538.4,348.0 540.5,345.9 542.3,343.7 544.4,341.7M549.2,351.4 548.0,349.0 546.3,346.8 545.8,344.0 544.4,341.7M558.4,352.9 555.3,353.0 552.2,352.1 549.2,351.4M558.4,352.9 558.9,358.0M558.9,358.0 557.2,360.1M571.2,349.6 574.3,351.4 577.5,353.3M580.4,338.6 581.5,342.2 582.9,345.7M582.9,345.7 580.7,347.9 579.7,351.0 577.5,353.3M558.4,352.9 559.3,351.7M576.8,357.1 574.1,358.0 571.8,359.9 569.2,361.0 566.6,362.3M576.8,357.1 577.7,355.1M558.9,358.0 561.3,359.8 564.1,360.8 566.6,362.3M577.7,355.1 577.5,353.3M584.4,374.9 586.6,372.6 588.8,370.1 591.1,367.8M584.4,374.9 581.2,373.2 578.8,370.6M576.8,357.1 577.7,359.7 577.2,362.6 578.6,365.1 578.2,367.9 578.8,370.6M577.7,355.1 580.5,356.7 583.3,358.0 586.4,358.5 589.4,359.6M591.1,367.8 590.1,365.2 589.5,362.5 589.4,359.6M639.3,369.6 636.9,370.5 634.1,370.2 631.8,371.8 629.2,371.8M639.3,369.6 641.8,373.4M626.6,379.7 627.2,377.0 628.5,374.5 629.2,371.8M626.6,379.7 628.5,381.5 631.2,382.1 632.8,384.5 635.2,385.6M635.2,385.6 636.9,383.4 638.0,380.8 639.5,378.5 640.4,375.8 641.8,373.4M656.4,369.6 658.4,371.6 659.4,374.1 660.1,376.8 662.1,378.7M656.4,369.6 653.5,370.6 651.0,372.6 648.4,374.2 645.3,374.9M662.1,378.7 659.6,380.6 656.9,382.1 653.8,382.9 651.2,384.7M645.3,374.9 647.2,377.1 648.7,379.6 649.9,382.2 651.2,384.7M656.4,369.6 657.1,366.1M639.3,369.6 639.8,366.2M657.1,366.1 654.7,364.5 652.4,362.8 650.0,361.1M639.8,366.2 642.4,364.9 645.2,364.2 647.4,362.3 650.0,361.1M645.3,374.9 641.8,373.4M662.1,378.7 665.2,379.5M664.6,396.8 664.4,397.0M664.4,397.0 660.3,396.4M660.3,396.4 658.9,393.8 656.7,392.0 654.8,389.8 652.9,387.6 651.1,385.4M651.2,384.7 651.1,385.4M661.9,362.7 662.2,359.0 663.0,355.3M661.9,362.7 665.0,364.3 668.1,365.6 670.9,367.6M663.0,355.3 666.2,354.2 669.4,353.1 672.7,352.5M670.9,367.6 672.6,364.9 673.9,362.0 676.4,359.7 677.6,356.7M677.6,356.7 674.9,354.9 672.7,352.5M671.0,368.0 670.9,367.6M657.1,366.1 659.5,364.4 661.9,362.7M681.9,357.1 677.6,356.7M673.7,338.8 672.8,339.4M672.8,339.4 672.7,342.0 673.2,344.6 672.8,347.2 672.1,349.9 672.7,352.5M650.0,361.1 649.9,357.6 650.3,354.1M663.0,355.3 660.4,352.9 657.8,350.4M657.8,350.4 655.5,352.0 653.1,353.4 650.3,354.1M653.0,411.8 652.1,409.3 650.6,407.0 649.7,404.5 649.3,401.7M649.3,401.7 651.9,400.1 654.8,399.0 657.8,398.3 660.3,396.4M664.4,397.0 664.9,398.8M599.2,418.8 600.6,417.7M606.9,417.7 603.8,417.6 600.6,417.7M606.9,417.7 607.1,418.1M440.7,518.5 440.2,521.2 440.1,524.0 439.0,526.6 438.9,529.4M410.5,518.6 412.9,519.8 415.6,519.8 418.1,520.7 420.5,521.7M410.5,518.6 409.0,516.4 408.4,513.7 407.3,511.3M407.3,511.3 408.8,508.7 410.4,506.3 412.4,504.1 414.3,501.9M425.8,514.3 423.8,516.6 421.9,518.9 420.5,521.7M425.8,514.3 424.7,511.5 422.4,509.3 420.6,506.9 419.7,503.9 417.8,501.5M417.8,501.5 414.3,501.9M407.5,495.3 404.9,496.6 401.9,496.7 399.4,498.4 396.4,498.7M407.5,495.3 409.8,497.5 412.2,499.5 414.3,501.9M399.4,509.5 402.1,509.9 404.5,511.3 407.3,511.3M399.4,509.5 398.4,506.9 398.4,504.0 397.4,501.3 396.4,498.7M430.4,513.2 425.8,514.3M420.3,499.0 417.8,501.5M407.5,495.3 408.1,491.9 408.1,488.4M315.3,652.9 316.6,650.4 318.0,648.0 318.8,645.3 320.1,642.8 321.4,640.3 322.5,637.7M296.7,642.0 298.1,639.5 300.0,637.4 302.5,635.9 303.9,633.3 306.3,631.7 308.2,629.6 310.1,627.5 311.5,625.0M311.5,625.0 314.0,626.6 315.7,629.0 318.1,630.8 320.6,632.2 322.5,634.5M309.1,579.0 310.4,580.0M326.1,556.0 325.4,558.6 326.5,561.3 325.7,563.9 325.9,566.5 325.8,569.1M310.4,580.0 312.8,578.8 315.1,577.3 317.2,575.7 319.3,574.0 321.6,572.6 323.4,570.5 325.8,569.1M339.3,551.8 342.0,552.4 344.4,553.7M344.4,553.7 344.1,556.3 343.2,558.7 342.9,561.3 341.8,563.8 342.2,566.5 341.1,569.0 340.6,571.5 340.2,574.1M325.8,569.1 328.8,569.6 331.7,570.7 334.6,571.5 337.4,572.9 340.2,574.1M356.6,561.1 356.4,564.1 355.1,566.8 353.5,569.4 352.6,572.3 352.3,575.2M356.6,561.1 360.1,561.3 363.5,561.2M363.5,561.2 365.1,563.9 367.0,566.2 369.6,568.0 371.4,570.5 373.0,573.2M356.4,578.8 354.5,576.9 352.3,575.2M356.4,578.8 359.2,577.9 362.2,577.7 364.7,576.0 367.3,574.8 370.2,574.3 373.0,573.7M373.0,573.7 373.0,573.2M344.4,553.7 349.1,552.5M349.1,552.5 351.2,554.5 353.3,556.5 354.4,559.3 356.6,561.1M340.2,574.1 340.3,574.2M340.3,574.2 343.2,575.0 346.2,575.3 349.2,575.3 352.3,575.2M354.1,545.2 357.4,544.3 360.5,542.7 363.8,541.9M354.1,545.2 352.1,547.4 351.2,550.4 349.1,552.5M363.8,541.9 365.6,543.8 367.7,545.6 368.9,548.2 371.1,549.8M371.1,549.8 369.6,552.1 367.9,554.3 366.2,556.4 364.6,558.6 363.5,561.2M345.7,595.4 343.2,594.5 341.4,592.5 338.7,591.8 336.6,590.2M345.7,595.4 348.2,594.4 350.2,592.7 352.4,591.3 354.6,589.9 356.6,588.0M356.6,588.0 356.3,584.9 356.1,581.9 356.4,578.8M336.6,590.2 337.6,587.6 337.7,584.8 338.3,582.2 338.7,579.4 339.7,576.9 340.3,574.2M377.1,577.6 374.6,576.1 373.0,573.7M366.1,595.3 363.5,593.7 361.3,591.7 358.9,590.0 356.6,588.0M212.9,136.0 211.3,133.4 209.7,130.9 208.2,128.2M215.8,118.1 213.3,119.3 210.4,119.6M210.4,119.6 209.3,122.4 208.6,125.3 208.2,128.2M210.4,119.6 208.8,117.8M296.6,774.8 296.9,774.4M301.4,751.7 304.5,750.6M301.4,751.7 300.0,754.5 299.4,757.6 297.8,760.3 296.8,763.2M296.8,763.2 297.6,764.7M273.7,739.9 273.1,742.9 272.5,745.8 271.7,748.7M273.7,739.9 276.9,738.6 280.2,737.8 283.5,736.8M271.7,748.7 274.6,749.2 277.6,749.6 280.5,750.3 283.5,750.4 286.4,751.0M283.5,736.8 286.3,738.5 288.6,740.6M288.6,740.6 289.5,743.3 288.7,746.1 289.4,748.7M289.4,748.7 286.4,751.0M268.2,755.3 269.9,752.4 271.1,749.2M268.2,755.3 270.4,757.7 271.8,760.5 273.1,763.4M273.1,763.4 276.2,763.2 279.2,762.3 282.4,763.3 285.4,762.6M285.4,762.6 286.2,759.7 286.5,756.8 285.6,753.8 286.4,751.0M271.1,749.2 271.7,748.7M284.0,725.6 285.4,724.5M284.0,725.6 283.3,728.4 284.4,731.3 283.2,734.0 283.5,736.8M295.9,735.3 293.6,737.2 290.9,738.6 288.6,740.6M301.4,751.7 298.3,751.6 295.2,750.9 292.2,750.1 289.4,748.7M285.4,762.6 286.2,763.4M286.2,763.4 288.8,762.7 291.5,763.0 294.1,763.5 296.8,763.2M290.2,776.7 286.7,777.0M286.2,763.4 285.8,766.1 286.5,768.8 286.2,771.5 286.7,774.2 286.6,777.0M286.6,777.0 286.7,777.0M286.7,777.0 286.8,778.0M268.2,755.3 264.3,756.2M273.1,763.4 272.0,766.0 272.6,768.9 271.5,771.5M264.3,756.2 261.4,758.1 259.4,760.7 257.3,763.3M257.3,763.3 258.7,765.6 259.0,768.4 260.4,770.8 261.2,773.4M261.2,773.4 263.8,773.4 266.4,773.1 268.9,772.1 271.5,771.5M286.6,777.0 283.9,777.2 281.2,776.5 278.5,777.3 275.7,777.4M276.5,788.5 274.9,786.0 273.2,783.5M273.2,783.5 274.1,780.3 275.7,777.4M270.4,799.2 267.6,797.5M267.6,797.5 266.5,795.1 265.8,792.5 264.9,790.0 264.2,787.4M273.2,783.5 270.5,785.4 267.2,786.2 264.2,787.4M271.5,771.5 273.3,774.7 275.7,777.4M249.7,706.7 249.6,708.0M225.7,705.0 227.6,707.0 229.3,709.3 231.4,711.1 233.8,712.5M233.8,712.5 238.4,713.3M249.6,708.0 246.9,709.5 243.8,710.0 241.3,712.0 238.4,713.3M227.6,721.2 229.3,719.1 230.6,716.7 231.9,714.4 233.8,712.5M227.6,721.2 229.0,724.7 230.2,728.2M231.1,728.8 233.6,727.5 235.7,725.6 238.4,724.8M238.4,713.3 238.7,716.1 237.9,719.0 237.8,721.9 238.4,724.8M244.5,737.7 241.3,737.3 238.2,737.5 235.1,738.1M244.5,737.7 246.6,735.1 248.1,732.0 249.2,728.8M238.4,724.8 241.1,725.9 243.8,726.7 246.3,728.3 249.2,728.8M215.1,716.3 216.2,715.9M216.6,718.4 216.6,716.5M216.2,715.9 216.6,716.5M216.3,712.8 216.2,715.9M227.6,721.2 224.9,719.9 222.2,718.7 219.2,717.9 216.6,716.5M234.6,767.0 238.3,765.4M231.7,755.2 234.1,757.8 237.1,759.6M238.3,765.4 237.9,762.5 237.1,759.6M267.6,797.5 265.1,798.7 262.2,799.2 259.7,800.5M259.3,802.4 259.7,800.5M175.1,596.6 174.7,596.4M183.5,567.9 181.7,570.1 179.6,572.0 178.2,574.5 176.3,576.6 174.1,578.3 171.9,580.2 170.2,582.5M170.2,582.5 171.3,585.2 171.6,588.2 173.4,590.7 173.9,593.6 174.7,596.4M468.5,391.7 465.5,391.8 462.9,390.5 460.0,390.2M468.5,391.7 467.7,394.5 467.5,397.4 465.5,399.9 465.5,402.9 464.4,405.6M451.5,406.2 454.8,407.1 458.3,406.3 461.6,407.4M450.9,405.2 451.8,402.4 452.4,399.5 454.0,396.9 454.4,393.9M461.6,407.4 464.4,405.6M454.4,393.9 456.9,391.7 460.0,390.2M499.9,440.9 496.9,440.9 494.0,441.5 491.1,442.0 488.3,442.6M487.0,440.1 488.3,442.6M487.0,440.1 487.8,437.5 489.2,435.2 489.8,432.6 490.6,430.1M501.0,438.3 499.8,435.1 498.6,431.9 497.5,428.6M490.6,430.1 494.2,430.0 497.5,428.6M477.7,429.5 480.7,427.4 482.7,424.3M477.7,429.5 475.3,428.4 472.7,427.6 470.4,426.1 467.9,424.9 465.2,424.4M474.5,416.3 477.5,417.4 480.1,419.2 482.9,420.6M474.5,416.3 472.1,417.9 469.6,418.9 466.8,419.4M482.7,424.3 482.9,420.6M466.8,419.4 465.0,423.9M465.0,423.9 465.2,424.4M477.5,435.5 480.1,436.2 482.5,437.3 484.9,438.3 487.0,440.1M477.5,435.5 477.8,432.5 477.7,429.5M490.6,430.1 487.6,428.7 485.6,425.9 482.7,424.3M476.9,405.6 480.1,406.6 483.5,406.6M476.9,405.6 475.2,406.8M475.2,406.8 474.8,410.0 475.2,413.2 474.5,416.3M483.5,406.6 484.7,409.2 486.7,411.2 488.5,413.3M488.5,413.3 488.3,415.0M488.3,415.0 485.3,417.6 482.9,420.6M461.6,407.4 462.8,409.7 464.2,411.9 464.4,414.7 466.3,416.8 466.8,419.4M464.4,405.6 467.1,405.9 469.9,405.5 472.5,406.7 475.2,406.8M458.0,424.1 461.5,424.5 465.0,423.9M511.4,407.7 510.3,404.8 509.7,401.7 508.3,398.8M511.4,407.7 514.2,407.9 516.8,407.4 519.4,406.3 522.1,405.9M508.3,398.8 511.1,397.9 513.7,396.5M523.2,401.8 522.1,405.9M525.7,412.1 523.5,409.2 522.1,405.9M483.5,406.6 485.0,404.1 486.6,401.7 487.1,398.8 489.0,396.5M488.5,413.3 491.4,411.4 494.1,409.4 497.1,407.7M497.1,407.7 497.3,404.3 497.3,400.9M497.3,400.9 494.2,400.0 491.7,398.0 489.0,396.5M518.9,371.2 520.4,367.8M518.9,371.2 516.0,370.7 513.2,370.1 510.4,369.5 507.8,368.3M514.8,358.3 512.2,356.9M507.8,368.3 507.3,364.7 506.8,361.0M506.8,361.0 509.2,358.5 512.2,356.9M513.6,352.0 512.2,356.9M513.6,352.0 515.6,351.3M503.2,376.2 500.2,375.3 497.1,375.0 494.2,374.0M503.2,376.2 505.0,373.7 506.8,371.2 507.8,368.3M490.4,367.8 492.2,364.7 494.3,361.7M490.4,367.8 490.6,369.6M490.6,369.6 492.1,372.0 494.2,374.0M503.6,359.7 500.6,361.0 497.3,360.7 494.3,361.7M503.6,359.7 506.8,361.0M509.8,345.8 511.1,349.3 513.6,352.0M501.6,346.3 499.2,348.5M499.2,348.5 500.7,351.2 500.8,354.4 502.9,356.8 503.6,359.7M532.3,377.9 532.0,375.6M530.5,374.7 527.5,375.1 524.3,375.3 521.3,376.1M521.3,376.1 520.8,379.0 519.1,381.5M518.9,371.2 520.7,373.4 521.3,376.1M503.2,376.2 504.1,379.7 505.8,383.0M505.8,383.0 509.2,383.9 512.6,384.1 516.0,384.0M505.8,383.0 503.5,386.8M508.3,398.8 504.2,396.5M503.5,386.8 504.3,390.0 504.1,393.3 504.2,396.5M454.1,447.4 452.6,444.0 450.8,440.7M454.1,447.4 457.2,447.7 460.3,448.1 463.3,449.1 466.5,449.0 469.4,450.1M465.0,436.4 462.3,437.4 459.5,437.9 456.7,438.4 454.0,439.7 451.1,439.8M465.0,436.4 468.1,438.5 470.9,440.8M451.1,439.8 450.8,440.7M470.9,440.8 470.8,443.7 471.1,446.6 471.1,449.5M469.4,450.1 471.1,449.5M451.6,460.4 451.7,457.7 453.0,455.3 453.2,452.6 453.3,449.9 454.1,447.4M436.0,445.7 438.6,445.2 441.0,444.2 443.6,443.8 445.9,442.6 448.3,441.5 450.8,440.7M461.4,462.3 462.8,459.8 464.9,457.6 466.7,455.3 468.1,452.7 469.4,450.1M450.0,433.5 450.2,436.7 451.1,439.8M465.2,424.4 465.0,427.4 465.0,430.4 464.5,433.4 465.0,436.4M477.5,435.5 475.7,437.7 472.7,438.5 470.9,440.8M455.3,486.6 458.2,487.5 460.7,489.2 463.7,490.1 466.2,491.8M461.0,506.2 462.4,503.9 464.2,501.9 466.7,500.5 468.2,498.2M466.2,491.8 466.5,495.2 468.2,498.2M474.2,510.4 475.8,507.0 477.4,503.7M468.2,498.2 470.1,500.1 472.5,501.4 474.7,502.9 477.4,503.7M482.4,502.9 477.4,503.7M466.6,467.3 469.6,467.2 472.2,466.2 474.9,465.1M471.1,449.5 473.9,451.1M474.9,465.1 474.7,462.3 474.2,459.6 474.6,456.7 473.7,454.0 473.9,451.1M488.3,442.6 487.0,445.3 486.9,448.3 485.8,451.1M499.3,457.5 496.4,456.9 493.5,457.0 490.7,457.5M490.7,457.5 488.8,455.6 487.1,453.5 485.8,451.1M473.9,451.1 476.8,451.8 479.8,450.9 482.8,451.0 485.8,451.1M347.5,296.9 347.4,296.7M347.5,296.9 345.4,299.3 343.1,301.6 341.6,304.5M341.6,304.5 338.2,304.5 334.8,304.1 331.5,304.5M331.5,304.5 331.2,301.4 331.0,298.3 331.0,295.3 331.7,292.2M331.7,292.2 334.2,290.2M347.8,296.9 347.5,296.9M347.5,317.6 349.2,317.2M347.5,317.6 346.0,315.1 345.4,312.2 343.3,310.0 342.3,307.3 341.6,304.5M395.7,326.9 397.1,329.1 398.7,331.2 400.7,332.9 402.4,334.9 404.2,336.8M395.7,326.9 397.4,324.2 399.1,321.4M412.9,328.7 411.1,326.2 410.4,323.1 408.5,320.6M422.8,328.6 421.7,326.1 421.1,323.6 421.2,320.8M432.1,329.0 428.6,327.6M428.6,327.6 430.9,323.9M424.1,329.4 428.6,327.6M439.7,341.6 436.5,342.8 433.9,345.0 430.8,346.3M439.7,341.6 439.7,337.9 438.7,334.2M458.8,343.8 455.4,344.5 452.4,346.0 449.4,347.5M458.8,343.8 459.0,340.8 457.9,338.0M448.1,337.4 446.2,339.7 445.1,342.5M445.1,342.5 446.8,345.3 449.4,347.5M439.7,341.6 442.3,342.3 445.1,342.5M468.7,341.9 467.6,346.3M458.8,343.8 462.0,345.0 465.0,346.8M467.6,346.3 465.0,346.8M431.6,350.1 434.2,351.3 436.6,352.9 438.6,355.0 441.1,356.3M449.4,347.5 449.2,351.4M441.1,356.3 443.6,354.4 446.6,353.3 449.2,351.4M280.8,175.1 280.6,175.5M280.6,175.5 282.4,178.2 284.5,180.4M272.3,179.1 271.7,181.7 271.4,184.3 270.7,186.8 271.1,189.5 270.0,191.9 270.0,194.6M272.3,179.1 275.0,177.8 277.9,176.9 280.6,175.5M276.8,198.9 279.1,197.4 281.1,195.6 283.4,194.3 284.9,191.7 287.4,190.6M278.6,205.5 281.6,207.8 285.0,209.6M211.4,195.5 212.6,196.0M211.4,195.5 210.6,192.3M208.1,182.7 208.0,182.5M208.0,182.5 210.7,182.4 212.9,180.4 215.6,180.5 217.9,179.1 220.6,178.9M212.6,196.0 215.3,194.7 218.1,193.7 220.8,192.4 223.2,190.6 225.9,189.3M225.9,189.3 224.4,186.8 223.7,183.9 221.5,181.7 220.6,178.9M208.0,182.5 203.8,180.8M208.9,164.5 211.0,166.2 212.9,168.2 215.8,169.0 217.6,171.2 220.1,172.3 222.1,174.3M208.9,164.5 205.7,166.2M205.7,166.2 205.6,169.2 204.4,172.0 204.6,175.0 203.7,177.8 203.8,180.8M220.6,178.9 222.1,174.3M208.9,164.5 210.2,161.9 211.6,159.3 212.2,156.5M212.2,156.5 214.9,155.2 217.2,153.2M221.2,153.7 223.1,155.7 224.7,158.0 226.4,160.2 228.4,162.2 229.7,164.7 232.0,166.4M222.1,174.3 224.3,172.0 227.3,170.7 229.1,167.9 232.0,166.4M211.4,195.5 208.5,196.4 205.6,197.1 202.8,198.4M203.8,180.8 203.1,181.0M202.8,198.4 200.2,197.6 197.6,196.7M193.9,208.2 194.6,205.7 195.1,203.1 194.9,200.4 195.8,197.9M193.9,208.2 196.9,209.8 199.8,211.6 202.8,213.2M202.8,198.4 203.5,201.4 204.0,204.4 204.6,207.3 205.5,210.2M205.5,210.2 202.8,213.2M296.5,254.9 298.1,252.3 300.0,249.8 301.2,246.9 303.0,244.3 304.3,241.5M296.5,254.9 293.7,254.8 290.9,254.0 288.1,253.4 285.2,253.7M304.3,241.5 302.3,239.5 299.5,238.9 297.7,236.6 295.5,234.9 292.8,234.1 291.0,231.9 288.3,230.9M286.6,230.9 284.2,232.2M284.2,232.2 284.9,234.9 284.9,237.6 284.4,240.3 285.4,242.9 285.3,245.6 285.0,248.3 285.0,251.0 285.2,253.7M265.3,219.3 267.3,221.2 269.3,223.1 270.3,226.0 272.8,227.5 274.8,229.5 276.2,231.9M284.2,232.2 281.5,232.0 278.9,231.4 276.2,231.9M296.5,254.9 298.1,257.6 300.1,260.1 301.9,262.6 303.1,265.6M284.4,269.8 283.6,267.1 282.9,264.3 283.5,261.3 282.3,258.6 282.4,255.7M303.1,265.6 301.1,267.7 299.4,270.1 297.4,272.2M285.2,253.7 282.4,255.7M171.5,332.1 173.8,329.9 176.8,328.4 179.2,326.2 182.0,324.6M153.6,307.5 156.7,306.4 159.7,304.8M159.7,304.8 163.1,304.5 166.5,305.1 170.0,305.6M182.0,324.6 181.1,321.6 181.1,318.6M170.0,305.6 171.8,307.8 173.8,309.8 175.7,312.0 176.9,314.6 179.3,316.4 181.1,318.6M247.9,334.6 246.4,337.1 244.3,339.0 241.8,340.4 239.7,342.2 238.2,344.7 235.9,346.4 233.9,348.3 232.3,350.6M248.3,323.4 246.2,321.6 243.5,320.9 241.1,319.7M241.1,319.7 238.5,321.2 235.4,321.3 232.7,322.5 230.1,324.1 227.3,325.0M227.3,325.0 227.8,327.6 228.0,330.2 228.4,332.8 228.9,335.3 230.1,337.8 229.8,340.5 230.8,343.0 230.8,345.6 231.9,348.0 232.3,350.6M207.3,375.8 208.0,373.2 209.3,370.9 210.2,368.3 212.0,366.2 212.5,363.4 213.5,360.9 215.0,358.7 216.1,356.2 217.3,353.8M182.9,354.9 185.6,354.0 188.2,352.7 190.7,351.2 193.2,349.8 195.9,348.8 198.9,348.5 201.1,346.4 203.9,345.8M203.9,345.8 205.9,347.4 208.7,347.9 210.3,350.3 212.8,351.2 215.3,352.1 217.3,353.8M232.2,351.0 232.2,351.0M217.3,353.8 220.3,353.4 223.3,352.8 226.2,351.9 229.2,351.7 232.2,351.0M232.2,351.0 232.3,350.6M245.2,277.9 242.6,276.8 239.9,276.1 237.2,275.2 234.4,274.6M245.2,277.9 247.1,275.6 248.3,272.9 250.1,270.6M234.4,274.6 235.6,271.8 236.8,269.0 237.9,266.1 239.8,263.7M250.1,270.6 249.7,268.9M239.8,263.7 242.2,265.2 244.9,266.0 247.0,268.2 249.7,268.9M320.1,278.0 324.2,277.3M320.1,278.0 317.0,275.9M317.0,275.9 316.4,273.1 315.0,270.6 313.7,268.1 312.2,265.6M320.6,256.3 318.3,258.4 316.2,260.7 314.2,263.2 312.2,265.6M320.6,256.3 322.9,257.9 325.3,259.2 328.1,259.8 330.2,261.7M321.4,290.4 323.9,291.3 326.6,290.6 329.1,291.5 331.7,292.2M321.4,290.4 321.5,287.2 320.6,284.2 320.3,281.1 320.1,278.0M321.4,290.4 319.1,292.9 316.3,294.8M304.5,287.6 306.7,285.9 309.0,284.1 310.2,281.3 313.2,280.3 315.3,278.4 317.0,275.9M309.3,294.4 312.9,294.0 316.3,294.8M303.1,265.6 306.2,265.1 309.2,265.0 312.2,265.6M304.3,241.5 307.4,241.5 310.3,239.8 313.4,239.9M313.4,239.9 315.4,241.9 316.7,244.5 318.5,246.6 320.6,248.5M320.6,248.5 320.7,252.4 320.6,256.3M341.4,247.0 338.7,245.4 335.8,244.6 332.7,244.0M332.7,244.0 329.5,244.5 326.5,245.7 323.7,247.6 320.6,248.5M332.7,244.0 333.4,241.2 333.5,238.3M308.6,222.0 308.9,221.7M308.6,222.0 309.2,224.9 311.6,227.0 312.4,229.9 313.6,232.5 314.7,235.2M314.7,235.2 316.8,233.7 318.5,231.6 321.4,231.1 323.1,229.1M302.2,219.7 305.5,220.5 308.6,222.0M313.4,239.9 314.7,235.2M293.1,336.3 295.8,338.5 297.7,341.5M293.1,336.3 294.5,333.7 295.8,331.1 297.2,328.5 298.4,325.8M297.7,341.5 300.4,341.1 303.1,341.8 305.6,340.8 308.3,340.9M298.4,325.8 303.3,324.4M303.3,324.4 305.2,326.5 306.5,329.0 308.5,330.9 310.2,333.1 311.8,335.5M311.8,335.5 310.4,338.4 308.3,340.9M281.9,337.1 284.7,337.3 287.5,336.9 290.3,336.7 293.1,336.3M289.7,352.2 292.3,350.9 295.2,350.3M295.2,350.3 295.8,347.3 296.4,344.3 297.7,341.5M289.8,320.9 292.6,322.7 295.2,324.7 298.4,325.8M303.8,309.6 304.7,312.2 304.5,315.0 305.3,317.7 305.2,320.5M305.2,320.5 303.3,324.4M279.9,380.2 282.6,378.4 285.9,378.1 288.6,376.2M285.8,360.6 289.0,364.1M288.6,376.2 289.1,373.2 288.2,370.2 289.0,367.2 289.0,364.1M365.2,362.8 366.0,365.7 366.1,368.7M360.1,374.7 357.4,374.3 354.8,373.2 352.1,373.1 349.5,372.2M357.9,357.7 355.4,359.5 352.7,360.9M352.7,360.9 352.1,363.8 351.5,366.7 350.3,369.4 349.5,372.2M345.3,378.6 346.7,373.8M349.5,372.2 346.7,373.8M352.7,360.9 350.3,359.1 347.6,357.8 344.5,357.4 342.2,355.4 339.4,354.4M346.7,373.8 344.7,372.1 342.4,370.8 340.7,368.7 338.0,367.9 336.3,365.7 334.0,364.4M334.0,364.4 335.7,362.1 336.9,359.5 338.1,356.9 339.4,354.4M320.3,319.3 322.3,322.1 324.3,325.0M320.3,319.3 320.8,316.0 320.3,312.6 320.7,309.3M335.2,317.9 333.5,320.2 330.9,321.4 329.2,323.6 327.2,325.5M335.2,317.9 333.6,315.7 333.3,313.0 332.7,310.4 331.6,308.0 330.2,305.8M324.3,325.0 327.2,325.5M330.2,305.8 327.7,306.6 325.0,307.0 322.4,307.2M320.7,309.3 322.4,307.2M305.2,320.5 308.2,320.2 311.2,319.4 314.2,319.4 317.2,319.2 320.3,319.3M311.8,335.5 314.9,334.9M314.9,334.9 316.8,332.9 319.1,331.3 320.8,329.2 322.4,326.9 324.3,325.0M305.1,308.5 308.2,309.0 311.3,308.8 314.5,309.0 317.5,309.8 320.7,309.3M347.5,317.6 346.6,318.4M346.6,318.4 343.8,317.7 340.9,317.9 338.0,318.0 335.2,317.9M331.5,304.5 330.2,305.8M316.3,294.8 317.8,297.2 319.2,299.5 320.0,302.2 321.4,304.6 322.4,307.2M377.2,355.5 378.3,356.4M377.2,355.5 378.4,352.9 379.1,350.0 379.8,347.2 380.7,344.4 381.3,341.6 382.5,338.9M378.3,356.4 380.9,355.3 383.7,355.9 386.4,355.6 389.1,354.9 391.7,354.2 394.4,353.9M382.6,338.9 385.0,340.6 387.4,342.4 390.4,343.1 393.0,344.7 395.8,345.7 398.1,347.8M382.6,338.9 382.5,338.9M398.1,347.8 396.8,351.2 394.4,353.9M376.5,355.5 377.2,355.5M381.6,367.8 381.1,364.9 379.4,362.3 379.7,359.1 378.3,356.4M367.1,340.3 365.6,342.8 364.6,345.5M367.1,340.3 370.1,339.6 373.3,340.2 376.4,340.1 379.4,339.0 382.5,338.9M394.9,364.3 395.2,361.7 395.2,359.1 395.0,356.5 394.4,353.9M383.6,330.1 382.8,333.0 382.7,335.9 382.6,338.9M385.8,327.3 389.1,327.9 392.4,326.7 395.7,326.9M400.1,347.0 398.1,347.8M363.3,329.4 363.6,328.2M363.3,329.4 363.8,332.3 365.2,334.8 365.7,337.7 367.1,340.3M97.1,428.9 97.2,431.5 97.5,434.2M122.9,433.1 120.8,436.7M120.8,436.7 117.9,437.0 115.0,437.7 112.3,438.9 109.6,439.8M109.6,439.8 107.4,438.1 104.7,437.6 102.6,435.9 99.6,435.9 97.5,434.2M95.0,436.1 97.5,434.2M75.8,475.8 77.9,474.3 80.2,473.0 82.6,471.8M72.5,454.4 74.5,456.4 77.4,457.1 79.7,458.8M79.7,458.8 80.9,461.3 80.5,464.1 81.9,466.5 81.3,469.3 82.6,471.8M92.7,440.7 92.0,443.6 93.1,446.6 93.0,449.5 92.6,452.4 92.1,455.3M79.7,458.8 82.9,458.5 86.0,457.4 89.1,456.5 92.1,455.3M90.3,487.3 89.9,484.2 89.8,481.0 88.7,478.0 88.5,474.9M82.6,471.8 85.2,473.9 88.5,474.9M107.0,488.7 110.1,487.0M110.1,487.0 113.9,489.9M401.2,483.5 398.6,484.8 396.0,486.0 393.7,487.9 391.0,488.9M380.8,471.9 380.0,473.3M380.0,473.3 381.1,475.9 383.6,477.4 384.8,479.9 386.4,482.1 388.0,484.3 389.0,486.9 391.0,488.9M396.4,498.7 393.4,496.8 390.6,494.9M390.6,494.9 391.1,491.9 391.0,488.9M316.2,497.1 318.8,497.6 321.2,498.9 323.9,499.3 326.4,500.0M320.0,520.6 322.9,518.9 325.8,517.0 329.0,515.7M329.0,515.7 329.2,513.0 327.6,510.6 327.9,507.8 327.2,505.3 327.0,502.6 326.4,500.0M331.4,477.6 333.0,480.0 332.8,483.2 334.8,485.5 335.2,488.4 336.8,490.9 337.4,493.7M326.4,500.0 329.2,498.5 331.9,496.8 334.8,495.5 337.4,493.7M344.4,469.1 345.0,471.8 347.1,474.0 347.9,476.7 348.4,479.5 349.7,482.0 350.5,484.7 352.0,487.1M337.4,493.7 341.8,495.6M352.0,487.1 349.7,488.5 348.3,491.0 346.3,492.7 343.8,493.9 341.8,495.6M679.4,281.5 681.7,279.5 684.7,278.7 686.7,276.2 689.5,275.0M678.5,285.1 681.5,286.2 684.5,287.4 687.5,288.8 690.4,290.2M689.5,275.0 690.9,277.6 693.5,279.2 694.6,282.0M690.4,290.2 691.3,287.2 693.2,284.7 694.6,282.0M675.9,315.1 673.9,312.6 670.9,311.3 668.8,309.0 666.4,307.0M675.9,315.1 677.2,314.1M677.2,314.1 678.3,311.1 678.5,307.9 680.2,305.1 680.9,302.0M666.4,307.0 666.8,303.7 668.0,300.6 668.5,297.3M680.9,302.0 678.4,299.9 676.1,297.6 673.5,295.6M668.5,297.3 671.1,296.8 673.5,295.6M674.2,320.2 675.1,317.7 675.9,315.1M693.2,324.9 693.1,321.4 692.3,318.1 691.3,314.9M691.3,314.9 688.5,314.8 685.7,314.5 682.8,314.7 680.0,314.3 677.2,314.1M677.0,286.2 676.0,289.4 674.3,292.3 673.5,295.6M662.9,280.6 658.8,282.6M668.5,297.3 665.5,296.4 662.6,295.3 660.1,293.4M658.8,282.6 658.7,285.4 659.1,288.1 660.1,290.7 660.1,293.4M643.5,313.3 641.9,310.4M643.5,313.3 646.6,313.5 649.5,314.8 652.7,314.8 655.7,315.5M641.9,310.4 643.0,308.0 643.7,305.4 644.9,303.1 645.6,300.5 647.3,298.3M658.7,310.0 656.7,312.5 655.7,315.5M658.7,310.0 657.1,307.2 655.9,304.3 655.0,301.2 653.6,298.4M653.6,298.4 650.5,298.7 647.3,298.3M673.2,321.2 670.4,321.7 667.7,322.0 664.9,322.7 662.1,322.3 659.3,322.7M659.3,322.7 657.6,320.6 656.4,318.2 655.7,315.5M666.4,307.0 663.6,307.5 661.1,308.4 658.7,310.0M660.1,293.4 657.7,294.8 656.0,297.0 653.6,298.4M689.5,275.0 689.8,272.9M502.9,463.8 503.1,466.5 502.3,469.0M509.0,412.0 504.6,412.8M509.0,412.0 510.7,414.5 512.7,416.8 513.9,419.7 516.2,421.7M504.6,412.8 503.4,415.4 501.7,417.8 500.6,420.5 499.3,423.2M516.2,421.7 514.2,424.6 511.7,427.0M511.7,427.0 508.6,426.8 505.7,425.9 502.6,425.8 499.7,424.9M499.3,423.2 499.7,424.9M497.1,407.7 499.2,410.0 502.0,411.3 504.6,412.8M511.4,407.7 509.0,412.0M504.2,396.5 502.1,398.3 499.7,399.6 497.3,400.9M522.8,421.1 519.5,421.8 516.2,421.7M488.3,415.0 490.1,417.2 492.4,418.7 494.8,420.1 497.3,421.3 499.3,423.2M512.4,435.1 512.5,432.4 511.8,429.7 511.7,427.0M497.5,428.6 499.7,424.9M567.6,373.3 565.7,371.7M567.6,373.3 567.8,375.6M565.7,371.7 563.0,371.7 560.4,371.3 557.8,372.1M578.8,370.6 576.1,371.7 573.3,372.4 570.5,372.8 567.6,373.3M566.6,362.3 566.6,365.4 566.5,368.6 565.7,371.7M584.7,376.9 584.4,374.9M515.1,339.4 517.7,337.8 520.0,335.7M525.8,346.1 526.0,342.0M526.0,342.0 523.9,340.2 522.2,338.2 520.8,335.9M520.0,335.7 520.8,335.9M558.5,343.0 555.5,341.5 552.5,340.4 549.4,339.2M549.9,338.2 549.4,339.2M544.4,341.7 544.5,341.3M526.0,342.0 528.6,341.3 530.6,339.2 533.3,338.8 535.9,337.8 538.3,336.6M539.6,337.1 542.2,339.0 544.5,341.3M549.4,339.2 547.2,340.9 544.5,341.3M600.6,417.7 599.4,414.5 599.1,411.0 598.3,407.7M618.2,393.5 619.0,396.6 618.7,399.9 619.3,403.0M618.2,393.5 613.8,394.4M607.6,403.5 610.4,405.7 612.2,408.7M619.3,403.0 616.7,404.6 614.9,407.2 612.2,408.7M606.9,417.7 609.1,414.9 612.0,412.8M612.0,412.8 612.2,408.7M600.6,379.0 600.1,375.5 601.0,372.1 600.2,368.6M613.7,379.7 614.1,379.6M614.1,379.6 614.0,376.7 613.8,373.7 614.3,370.8M614.3,370.8 612.0,369.2 609.8,367.4 606.9,366.7 604.9,364.5M604.9,364.5 602.9,366.9 600.2,368.6M591.1,367.8 594.2,367.5 597.1,368.8 600.2,368.6M619.5,391.8 618.2,393.5M619.5,391.8 618.8,389.1 618.6,386.3M614.4,379.8 614.1,379.6M620.3,382.0 623.4,380.8 626.6,379.7M629.2,371.8 626.6,369.8 624.4,367.5 621.8,365.6M621.8,365.6 619.2,367.1 616.9,369.2 614.3,370.8M604.9,360.5 602.5,358.0 600.1,355.7 597.1,354.0M604.9,360.5 604.9,364.5M597.1,354.0 594.1,355.4 591.7,357.4 589.4,359.6M582.9,345.7 585.7,345.5 588.4,344.5 591.2,344.8M597.1,354.0 596.7,349.8M591.2,344.8 594.4,346.8 596.7,349.8M621.8,365.6 622.7,360.5M604.9,360.5 607.4,358.9 609.6,357.1 611.4,354.9M622.7,360.5 620.0,358.9 617.2,357.5 614.5,355.9 611.4,354.9M596.7,349.8 599.0,348.3 601.1,346.6 603.8,345.8 605.9,344.1M605.9,344.1 609.1,345.4 612.3,346.6M611.4,354.9 612.0,352.1 611.9,349.3 612.3,346.6M636.9,360.2 638.7,357.9 639.7,355.1 641.9,353.1 642.8,350.3M636.9,360.2 634.2,359.8 632.1,358.0 629.3,357.7 627.0,356.3M627.0,356.3 626.9,352.9M626.9,352.9 628.7,350.7 630.8,348.8 633.5,347.6 635.1,345.2M635.1,345.2 637.6,346.3 639.9,347.8 642.4,349.0M642.4,349.0 642.8,350.3M639.8,366.2 639.0,362.9 636.9,360.2M650.3,354.1 647.6,353.3 645.5,351.2 642.8,350.3M622.7,360.5 625.3,358.9 627.0,356.3M612.3,346.6 615.0,344.2 618.4,343.0M618.4,343.0 619.6,345.4 622.0,346.8 623.0,349.4 625.3,350.9 626.9,352.9M647.6,332.9 644.7,333.8 641.8,334.8 638.6,334.6 635.9,336.5 632.9,336.8M647.6,332.9 646.7,330.2 644.3,328.5 643.3,325.9 642.4,323.2 640.5,321.2M640.5,321.2 637.9,322.7 634.8,322.8 632.1,324.1M632.9,336.8 629.4,334.6M629.4,334.6 630.6,332.1 631.3,329.5 631.8,326.8 632.1,324.1M640.5,321.2 641.2,318.4 642.2,315.8 643.5,313.3M623.8,314.4 626.4,313.1 629.0,311.9 631.7,310.8 634.7,310.6 637.2,309.0M623.8,314.4 623.8,315.8M637.2,309.0 641.9,310.4M632.1,324.1 630.2,321.8 628.0,319.9 626.0,317.8 623.8,315.8M623.8,314.4 621.7,312.2 620.5,309.5M637.2,309.0 635.3,306.9 634.1,304.4 633.1,301.9 631.6,299.6M620.5,309.5 620.8,307.5M635.2,385.6 635.9,388.9M651.1,385.4 648.9,387.2 646.4,388.5 644.5,390.5M644.5,390.5 641.5,390.6 638.8,389.3 635.9,388.9M649.3,401.7 647.3,401.0M644.5,390.5 645.4,393.1 645.3,395.9 646.9,398.3 647.3,401.0M619.5,391.8 622.6,392.1 625.7,392.8 628.9,392.9 631.8,394.1M631.8,394.1 633.9,391.5 635.9,388.9M665.8,338.7 663.9,336.8 662.5,334.4 660.4,332.6 658.5,330.7 657.1,328.3M665.8,338.7 663.9,340.8 661.9,342.6 659.9,344.5 657.9,346.4M657.9,346.4 655.7,344.6 653.5,342.8 650.8,341.6 648.8,339.5M657.1,328.3 655.0,330.0 652.3,330.4 650.3,332.3 647.8,333.0M647.8,333.0 648.3,336.2 648.8,339.5M672.8,339.4 669.3,339.0 665.8,338.7M659.3,322.7 658.8,325.8 657.1,328.3M657.8,350.4 657.9,346.4M642.4,349.0 644.1,346.7 645.7,344.3 646.8,341.6 648.8,339.5M647.6,332.9 647.8,333.0M632.9,336.8 633.5,339.6 633.9,342.5 635.1,345.2M620.0,427.9 623.1,431.3M620.0,427.9 620.5,425.1 622.3,422.8 623.1,420.1 623.9,417.4M623.1,431.3 625.8,431.8 628.6,431.3 631.4,432.0 634.2,431.4M623.9,417.4 627.6,415.6M627.6,415.6 629.3,418.0 631.5,420.0 633.4,422.2 634.7,424.8 636.4,427.2M634.2,431.4 636.4,427.2M619.5,442.0 621.4,441.5M621.4,441.5 622.4,439.1 621.6,436.3 622.0,433.7 623.1,431.3M616.8,428.1 620.0,427.9M612.0,412.8 615.0,414.0 618.2,414.5 620.7,416.8 623.9,417.4M628.8,446.4 626.4,444.7 624.2,442.6 621.4,441.5M628.8,446.4 631.0,444.4 633.3,442.6 636.0,441.3M636.5,439.8 636.1,436.9 635.3,434.1 634.2,431.4M640.3,425.6 636.4,427.2M412.1,558.4 412.1,558.2M412.1,558.2 414.9,556.9 417.3,555.0 419.9,553.3M303.8,617.3 302.0,614.8 301.1,611.9 300.5,609.0 299.5,606.2 298.7,603.3 296.9,600.8M303.8,617.3 307.1,617.9 309.9,619.8M309.9,619.8 311.6,617.7 313.0,615.3 315.1,613.5 317.7,612.1 319.0,609.6 320.7,607.4 322.7,605.5M296.9,600.8 298.8,598.9 300.7,597.0 302.6,595.1 304.0,592.7 306.7,591.6 308.4,589.5 309.7,587.0 311.8,585.3M322.7,605.5 322.2,602.2 321.9,598.9 322.2,595.6M311.8,585.3 313.4,587.9 315.9,589.5 318.1,591.5 319.8,594.0 322.2,595.6M280.0,598.1 282.8,598.8 285.7,598.5 288.4,599.7 291.3,599.9 294.0,601.0 296.9,600.8M286.3,622.0 289.4,621.8 292.0,619.8 295.1,619.7 297.8,618.2 300.8,617.4 303.8,617.3M311.5,625.0 310.7,622.4 309.9,619.8M310.4,580.0 311.4,582.6 311.8,585.3M336.6,590.2 333.7,591.1 330.9,592.5 327.9,593.2 324.9,593.9 322.2,595.6M333.8,612.0 334.5,615.3M333.8,612.0 336.8,611.3 339.5,609.8 342.0,607.7 344.9,606.9 347.8,605.9M350.6,607.7 347.8,605.9M322.7,605.5 325.5,607.0 328.4,608.5 330.8,610.7 333.8,612.0M345.7,595.4 346.3,598.0 346.7,600.7 347.2,603.3 347.8,605.9M380.7,556.5 380.0,553.7 378.2,551.5M380.7,556.5 383.0,558.0 385.7,558.5 388.5,558.9 390.8,560.4 393.3,561.4M378.2,551.5 380.0,549.3 381.8,547.2 383.4,545.0M383.4,545.0 386.3,544.3 389.3,544.7 392.1,543.5 395.1,543.6M393.3,561.4 394.6,558.8 396.9,556.9 398.6,554.6 399.8,552.0 401.4,549.6M395.1,543.6 397.5,545.2 399.5,547.2 401.4,549.3M401.4,549.3 401.4,549.6M371.1,549.8 374.7,550.4 378.2,551.5M373.0,573.2 373.8,570.6 375.5,568.6 376.3,566.0 377.1,563.5 378.9,561.5 379.7,558.9 380.7,556.5M394.9,567.9 393.8,564.7 393.3,561.4M412.1,558.2 410.2,556.2 407.7,554.9 405.5,553.4 403.9,550.9 401.4,549.6M363.8,541.9 365.2,539.3 366.1,536.5 366.2,533.6M383.4,545.0 382.4,542.4 381.9,539.7 381.1,537.0 380.8,534.3M366.2,533.6 369.1,533.7 372.1,533.6 375.0,533.9 377.9,534.7 380.8,534.3M212.0,138.8 209.5,140.2 207.0,141.8 204.3,142.9 201.8,144.3 198.8,144.9 196.5,146.7M212.2,156.5 209.4,155.7 207.0,153.9 204.4,152.7 202.3,150.6 199.7,149.2 197.0,148.1M196.5,146.7 197.0,148.1M191.7,119.5 195.8,117.0M191.7,119.5 189.1,118.4 186.8,116.9M186.8,116.9 186.5,115.8M253.7,745.0 254.7,750.1M253.7,745.0 250.5,743.2 246.8,742.5M254.7,750.1 252.8,752.5 250.1,753.8 248.0,755.9M246.8,742.5 244.8,745.7 243.1,749.0M243.1,749.0 244.8,751.8 245.6,754.9M245.6,754.9 248.0,755.9M258.6,740.9 261.1,742.6 263.9,743.9 266.4,745.5 268.3,748.1 271.1,749.2M258.6,740.9 256.5,743.3 253.7,745.0M264.3,756.2 262.2,754.1 259.4,753.4 257.4,751.1 254.7,750.1M257.3,763.3 254.2,762.9 251.1,763.0M251.1,763.0 249.4,759.5 248.0,755.9M244.5,737.7 245.7,740.0 246.8,742.5M235.1,748.8 237.8,749.3 240.4,749.6 243.1,749.0M237.1,759.6 239.8,757.8 242.4,755.9 245.6,754.9M244.4,770.3 247.1,768.2 249.1,765.6 251.1,763.0M244.4,770.3 242.4,768.7 240.3,767.0 238.3,765.4M250.3,728.2 250.0,725.2 251.2,722.3 251.2,719.3 250.3,716.3 250.6,713.3 251.2,710.3M250.3,728.2 253.6,728.6 256.7,730.2 259.9,731.2M251.2,710.3 254.2,710.7 256.6,712.5 259.5,712.9 262.0,714.7 264.8,715.4 267.5,716.5M259.9,731.2 263.5,729.8 267.1,728.4M267.5,716.5 267.8,719.6 268.0,722.7 268.6,725.7M268.6,725.7 267.1,728.4M249.6,708.0 251.2,710.3M249.2,728.8 250.3,728.2M258.6,740.9 258.4,737.6 258.9,734.4 259.9,731.2M273.0,710.0 271.1,712.0 269.2,714.2 267.5,716.5M273.7,739.9 271.8,738.0 271.4,735.1 270.0,732.8 268.2,730.8 267.1,728.4M284.0,725.6 280.9,725.0 277.8,726.0 274.8,725.1 271.7,725.6 268.6,725.7M241.2,784.4 246.2,784.6M246.2,784.6 246.1,781.5 245.7,778.5 246.5,775.3 245.8,772.2M237.4,776.5 239.6,774.4 242.0,772.4 244.5,770.5M244.5,770.5 245.8,772.2M244.4,770.3 244.5,770.5M261.2,773.4 258.5,777.0M258.5,777.0 256.0,776.1 253.3,775.4 250.8,774.3 248.5,772.8 245.8,772.2M258.5,777.0 258.9,779.6 259.1,782.3 258.6,784.9M246.2,784.6 247.0,785.5M247.0,785.5 249.9,785.5 252.8,785.6 255.7,785.2 258.6,784.9M264.2,787.4 261.5,786.5 258.9,785.4M258.6,784.9 258.9,785.4M259.7,800.5 257.2,798.4 254.6,796.2M258.9,785.4 257.9,788.1 256.3,790.6 256.3,793.8 254.6,796.2M196.0,222.4 195.9,225.1M196.0,222.4 197.8,220.5 199.2,218.2 201.2,216.4 202.8,214.2M202.8,214.2 204.8,215.9 206.1,218.3 208.1,219.9 209.6,222.1 211.9,223.5M211.9,223.5 211.0,226.4 208.5,228.4 207.6,231.3M207.6,231.3 205.0,230.6 202.9,228.8 200.7,227.3 198.3,226.2 195.9,225.1M187.0,227.9 190.4,230.0M189.9,235.8 189.5,232.8 190.4,230.0M189.9,235.8 186.3,236.6 182.6,236.4M159.2,538.3 158.7,541.1 158.3,543.9 158.5,546.7 157.5,549.4 157.7,552.3 157.5,555.1M155.2,554.7 157.5,555.1M182.3,559.2 179.5,559.6 176.9,558.8 174.3,558.4 171.6,558.8 168.9,558.5 166.3,557.7 163.6,557.5 161.0,556.7 158.3,557.2M158.3,557.2 157.5,555.1M174.7,596.4 171.9,597.2 169.1,598.2 166.2,598.5M480.3,381.8 483.0,382.8 486.0,382.7 488.6,384.0M480.3,381.8 478.6,384.0 476.2,385.4 474.3,387.5 472.8,389.8M475.6,392.9 478.2,393.3 480.7,394.3 483.2,394.7 485.9,394.6 488.5,395.3M475.6,392.9 472.7,390.0M488.5,395.3 490.3,391.9 490.9,388.2M472.8,389.8 472.7,390.0M488.6,384.0 490.9,388.2M490.6,369.6 487.8,371.1 485.1,372.7 482.3,374.2 479.6,375.8M494.2,374.0 492.5,376.3 491.7,379.2 490.0,381.5 488.6,384.0M479.6,375.8 480.0,378.8 480.3,381.8M476.9,405.6 476.1,402.5 476.7,399.2 476.3,396.0 475.6,392.9M489.0,396.5 488.5,395.3M468.5,391.7 472.7,390.0M503.5,386.8 500.4,387.3 497.2,387.3 494.1,388.2 490.9,388.2M428.3,378.6 431.0,378.4 433.8,378.4 436.5,378.1M437.6,395.2 439.2,392.6 441.0,390.1 442.5,387.4M436.5,378.1 437.5,380.7 439.7,382.6 440.8,385.2 442.5,387.4M454.4,393.9 451.9,391.5 449.2,389.4 446.8,386.9M442.5,387.4 446.8,386.9M489.5,352.7 490.9,348.2M489.5,352.7 486.6,353.4 484.3,355.2 481.7,356.3 479.3,358.0 476.7,359.2M485.1,345.3 487.9,345.7 490.3,347.2M479.5,345.1 476.3,347.1 473.7,349.9M490.3,347.2 490.9,348.2M473.7,349.9 474.3,353.1 476.3,355.9 476.7,359.2M499.2,348.5 496.4,348.2 493.7,347.8 490.9,348.2M494.3,361.7 492.5,358.7 491.4,355.5 489.5,352.7M490.4,367.8 488.1,366.3 485.6,365.3 483.5,363.6 481.0,362.6 478.6,361.4 476.7,359.5M476.7,359.5 476.7,359.2M467.6,346.3 470.4,348.5 473.7,349.9M383.5,318.0 386.3,315.2M425.7,363.8 428.5,363.6 431.3,363.8 434.0,365.0 436.8,364.9 439.6,364.8M436.5,378.1 439.5,375.4M439.6,364.8 439.5,367.4 438.9,370.0 440.1,372.7 439.5,375.4M441.1,356.3 440.7,359.9 441.1,363.5M439.6,364.8 441.1,363.5M465.0,346.8 464.2,350.0 462.4,352.6 460.9,355.4 459.6,358.2M449.2,351.4 451.1,353.4 452.4,355.9 454.4,357.8M459.6,358.2 457.0,357.4 454.4,357.8M441.1,363.5 444.0,363.6 446.6,364.9 449.4,365.4M454.4,357.8 453.2,360.6 451.2,362.9 449.4,365.4M439.5,375.4 442.3,375.3 445.1,374.8 447.9,375.4 450.7,375.2 453.5,375.2M449.4,365.4 449.8,368.1 451.3,370.4 452.5,372.8 453.5,375.2M446.8,386.9 448.8,384.9 449.1,382.0 451.5,380.3 452.5,377.8 453.8,375.4M453.8,375.4 453.5,375.2M490.3,347.2 490.5,346.6M241.5,160.5 244.6,159.5M241.5,160.5 239.6,162.4 238.1,164.8 236.0,166.5M236.0,166.5 237.2,169.0 238.2,171.5 239.6,173.8 241.4,176.0M241.4,176.0 244.5,176.6 247.3,178.5 250.3,179.5 253.6,179.8M261.0,167.8 261.0,172.7M261.0,172.7 258.6,175.1 256.3,177.7 253.6,179.8M235.6,144.8 236.0,147.6 237.8,149.9 237.9,152.8 239.6,155.2 241.0,157.7 241.5,160.5M232.0,166.4 236.0,166.5M225.9,189.3 228.5,190.5 230.6,192.5 233.2,193.6M233.2,193.6 233.8,190.8 235.5,188.5 236.1,185.8 238.3,183.7 239.7,181.3 240.5,178.6 241.4,176.0M255.6,194.6 254.9,191.7 254.1,188.8 254.4,185.7 254.3,182.7 253.6,179.8M255.6,194.6 252.8,195.3 250.0,196.2 247.0,195.9 244.2,196.9 241.2,196.7 238.3,197.2 235.5,198.2M235.5,198.2 233.2,193.6M272.3,179.1 269.5,177.4 266.4,176.2 263.9,174.2 261.0,172.7M257.3,195.8 255.6,194.6M193.9,208.2 191.9,209.1M196.0,222.4 194.9,221.5M190.4,230.0 193.0,227.3 195.9,225.1M202.8,214.2 202.8,213.2M233.5,203.1 231.9,205.4 229.5,206.8 227.4,208.5 224.9,209.7 223.0,211.7 221.4,214.0 219.2,215.5M233.5,203.1 230.5,203.4 227.5,202.5 224.4,203.1 221.4,202.6 218.4,203.6 215.4,202.9M219.2,215.5 217.7,212.8 214.8,211.3 213.3,208.6M215.4,202.9 213.9,205.6 213.3,208.6M212.6,196.0 213.8,199.5 215.4,202.9M235.5,198.2 234.2,202.8M234.2,202.8 233.5,203.1M205.5,210.2 208.1,209.8 210.6,208.7 213.3,208.6M211.9,223.5 214.4,222.8 216.7,221.4 219.2,220.5M219.2,220.5 219.2,215.5M271.0,286.8 269.1,284.7 268.4,282.1M271.0,286.8 274.6,287.6M280.6,273.3 277.7,272.8 274.7,272.9 272.0,271.7M272.0,271.7 270.6,274.1 270.3,276.9 269.9,279.7 268.4,282.1M256.9,218.1 255.2,219.0M276.2,231.9 273.8,234.5M255.2,219.0 255.2,221.7 255.4,224.3 256.7,226.8 256.5,229.5 257.6,232.0 258.0,234.6 258.2,237.3M273.8,234.5 271.1,234.7 268.6,235.7 266.0,235.7 263.5,237.0 260.9,237.3 258.2,237.3M239.8,263.7 238.5,261.0M238.5,261.0 240.8,259.2 241.9,256.4 243.9,254.3 246.0,252.3M249.7,268.9 251.9,266.9 252.4,263.8 254.4,261.7M246.0,252.3 246.8,252.1M254.4,261.7 252.7,259.2 250.6,256.9 248.1,255.0 246.8,252.1M189.9,235.8 190.7,238.8 192.7,241.1M176.7,243.4 179.0,245.7 180.4,248.8M192.7,241.1 190.4,242.8 188.0,244.6 185.1,245.5 182.5,246.7 180.4,248.8M164.7,256.1 167.4,255.5 170.1,254.9 172.4,253.2 174.9,252.0 177.6,251.4 180.2,250.6M164.7,256.1 164.4,253.7M180.2,250.6 180.4,248.8M164.7,256.1 164.2,259.5 162.8,262.6 161.5,265.6M183.2,255.8 181.9,253.1 180.2,250.6M183.2,255.8 181.0,258.2 179.5,261.1 178.2,264.1M178.2,264.1 175.5,264.8 172.6,264.4 169.8,264.5 167.1,265.5 164.3,265.5 161.5,265.6M168.0,291.8 166.7,294.6 164.2,296.7 162.7,299.4 161.2,302.1 159.7,304.8M168.0,291.8 166.9,289.1 165.8,286.4 165.6,283.3 163.4,281.0 163.2,278.0 162.1,275.3M156.1,270.8 156.6,270.8M162.1,275.3 159.8,272.5 156.6,270.8M156.6,270.8 159.5,268.7 161.5,265.6M234.4,274.6 231.5,275.8M226.4,263.3 229.3,262.3 232.1,261.0 235.0,259.8M226.4,263.3 227.2,266.3 227.2,269.4 227.3,272.5M235.0,259.8 238.5,261.0M227.3,272.5 229.7,273.7 231.5,275.8M178.2,264.1 180.1,266.5 181.9,269.0 184.6,270.8 186.4,273.2M162.1,275.3 164.8,275.5 167.3,276.7 170.0,277.2 172.4,278.8 175.4,278.3 178.0,279.0 180.5,280.3M180.5,280.3 182.5,278.1 184.6,276.2 186.5,274.0M186.5,274.0 186.4,273.2M207.8,281.5 205.2,279.9M207.8,281.5 210.4,279.9 213.6,279.5 216.1,277.5M205.2,279.9 204.7,276.6 203.7,273.5 202.5,270.4M214.3,269.7 211.4,270.0 208.6,270.2 205.7,270.0 202.8,269.8M214.3,269.7 215.6,272.3 216.9,274.9M202.5,270.4 202.8,269.8M216.1,277.5 216.9,274.9M196.2,283.1 194.0,280.9 192.5,278.2 190.9,275.5M196.2,283.1 199.0,281.4 202.1,280.8 205.2,279.9M190.9,275.5 193.7,274.1 196.9,273.4 199.8,272.1 202.5,270.4M226.4,263.3 223.5,261.7M227.3,272.5 224.6,272.5 222.2,274.2 219.6,274.8 216.9,274.9M215.7,264.4 218.3,263.4 220.7,262.1 223.5,261.7M215.7,264.4 215.3,267.1 214.3,269.7M221.9,286.6 224.2,285.1 226.3,283.3 228.4,281.5 230.9,280.2M221.9,286.6 220.8,284.1 219.0,282.0 217.5,279.8 216.1,277.5M231.5,275.8 230.9,280.2M275.2,303.3 272.6,301.4 269.6,300.4 266.7,299.3 263.8,298.2M271.0,286.8 268.7,288.8 266.7,291.2 264.0,292.7M263.8,298.2 264.3,295.5 264.0,292.7M249.1,307.7 250.2,304.9 251.4,302.2 252.8,299.5M249.1,307.7 251.6,309.6 253.8,311.9 256.3,313.9 259.1,315.3M260.8,314.3 261.4,311.6 260.3,308.9 260.4,306.1 260.5,303.4 260.8,300.7M260.8,314.3 259.1,315.3M260.8,300.7 258.0,300.6 255.5,299.3 252.8,299.5M256.6,319.9 258.2,317.8 259.1,315.3M241.1,319.7 241.2,316.9 241.0,314.2 241.5,311.5 242.3,308.9M242.3,308.9 245.7,307.9 249.1,307.7M273.3,314.6 270.2,314.8 267.1,314.7 263.9,315.0 260.8,314.3M263.8,298.2 260.8,300.7M300.6,389.4 300.6,386.8 300.6,384.2M288.6,376.2 291.6,377.8 295.1,378.6 298.1,380.3M300.6,384.2 298.1,380.3M319.6,387.3 317.9,385.0 316.3,382.7 315.7,379.8 313.9,377.6M300.6,384.2 303.0,382.4 305.9,381.5 308.4,379.8 311.3,379.0 313.9,377.6M339.1,349.8 336.4,348.3 334.1,346.3 332.2,343.9M339.1,349.8 341.8,348.1 344.5,346.3 347.3,344.8 350.5,343.9M332.2,343.9 332.4,340.6 333.4,337.4 334.1,334.2M334.1,334.2 336.6,332.6 339.3,331.9 341.9,330.8 344.7,330.5M350.5,343.9 350.5,341.1 350.4,338.4 350.2,335.6M350.2,335.6 347.8,332.8 344.7,330.5M358.7,348.6 355.6,347.6 353.1,345.6 350.5,343.9M339.4,354.4 339.1,349.8M314.9,334.9 316.9,337.4 319.2,339.5 322.0,341.0 324.5,342.9 326.6,345.2M326.6,345.2 329.4,344.3 332.2,343.9M327.2,325.5 329.3,327.3 330.6,329.9 332.1,332.2 334.1,334.2M346.6,318.4 345.8,321.4 345.4,324.4 344.6,327.4 344.7,330.5M363.3,329.4 360.5,330.3 357.8,331.5 355.3,332.9 353.0,334.7 350.2,335.6M88.5,474.9 91.0,473.8 93.6,472.8 95.4,470.6 98.2,470.0 100.4,468.4M110.1,487.0 110.4,484.6M110.4,484.6 108.9,482.3 107.0,480.3 105.8,477.8 104.8,475.3 103.3,473.0 102.1,470.6 100.4,468.4M92.1,455.3 94.5,457.2 97.3,458.3 100.0,459.7 102.4,461.6M100.4,468.4 102.1,465.2 102.4,461.6M109.6,439.8 109.1,442.5 109.3,445.3 108.0,448.0 108.0,450.7 108.2,453.5 106.9,456.1 107.2,459.0M107.2,459.0 104.4,459.7 102.4,461.6M157.0,490.8 154.0,490.7 151.0,490.0M131.1,452.3 134.1,454.9 137.5,456.8M144.3,461.7 146.4,463.2M131.1,452.3 129.8,452.3M129.8,452.3 128.7,454.8 127.2,457.0 125.6,459.2 123.9,461.3 122.1,463.3M135.3,476.7 133.1,475.2 130.5,474.5 128.6,472.4 126.5,470.7 123.9,469.9M145.8,470.6 146.6,469.9M122.1,463.3 123.5,466.4 123.9,469.9M146.6,469.9 146.3,466.5 146.4,463.2M149.7,439.1 147.8,441.3 145.2,442.6 143.1,444.6 140.3,445.5 137.8,447.0 135.8,449.1 133.6,450.9 131.1,452.3M153.4,454.2 151.3,456.2 149.4,458.3 148.3,461.1 146.4,463.2M120.8,436.7 122.4,439.3 123.4,442.2 125.7,444.3 126.8,447.1 128.7,449.5 129.8,452.3M107.2,459.0 110.0,460.4 113.2,460.5 116.2,461.1 118.9,462.9 122.1,463.3M110.4,484.6 112.3,482.4 114.7,480.7 116.7,478.7 118.0,476.0 119.7,473.7 122.1,472.0 123.9,469.9M156.2,473.1 152.9,472.2 149.6,471.5 146.6,469.9M334.5,516.7 337.2,514.5 340.5,513.1 343.0,510.6M334.5,516.7 335.1,519.3 336.9,521.3 338.0,523.8 339.2,526.1 340.3,528.4 341.3,530.9M343.0,510.6 345.7,512.0 348.1,513.8 350.8,515.3 353.6,516.5 356.0,518.4M341.3,530.9 344.0,531.0M344.0,531.0 346.5,529.2 349.1,527.7 351.9,526.3 354.3,524.4 356.7,522.4M356.7,522.4 356.0,518.4M329.0,515.7 331.7,516.6 334.5,516.7M341.8,495.6 343.5,497.7 344.2,500.4M344.2,500.4 343.7,503.8 344.0,507.3 343.0,510.6M335.0,536.2 337.1,534.4 339.2,532.6 341.3,530.9M354.1,545.2 352.7,542.7 350.2,540.9 349.2,538.1 347.1,536.0 345.3,533.7 344.0,531.0M366.2,533.6 365.4,531.0 364.8,528.4M364.8,528.4 361.7,526.9 359.2,524.6 356.7,522.4M353.6,465.1 355.5,466.9 357.7,468.3 359.7,470.1 361.4,472.1 363.7,473.4 365.8,474.9M352.0,487.1 354.7,487.6 357.4,487.3M357.4,487.3 359.6,485.2 361.0,482.5 363.0,480.2 364.5,477.7 365.8,474.9M380.0,473.3 376.0,475.4M365.8,474.9 369.2,475.3 372.6,475.8 376.0,475.4M700.0,293.9 697.0,292.3 693.9,291.3 690.7,290.7M700.0,293.9 700.0,297.3 701.0,300.6 701.4,304.0M690.7,290.7 690.3,293.4 688.7,295.7 688.2,298.3 687.2,300.8M687.2,300.8 689.6,302.4 691.1,304.8 693.2,306.7 695.6,308.2M695.6,308.2 699.5,307.3M699.5,307.3 701.4,304.0M690.4,290.2 690.7,290.7M694.6,282.0 697.7,282.0 700.7,281.1 703.7,280.6M707.4,287.8 704.9,289.8 702.8,292.3 700.0,293.9M707.4,287.8 706.2,285.4 704.8,283.1 703.7,280.6M716.1,298.3 713.7,299.5 710.9,299.7 708.9,301.6 706.4,302.5 703.9,303.4 701.4,304.0M712.1,289.6 707.4,287.8M680.9,302.0 684.0,301.4 687.2,300.8M691.3,314.9 692.2,312.3 694.4,310.6 695.6,308.2M705.3,312.7 703.1,311.1 701.0,309.5 699.5,307.3M647.3,298.3 646.0,296.0 643.7,294.4 642.4,292.0M699.3,269.0 701.5,271.2 703.3,273.8 705.1,276.3M705.1,276.3 706.1,275.8M703.7,280.6 705.1,276.3M466.2,491.8 468.7,490.0 471.3,488.5 473.5,486.4 475.8,484.4 478.2,482.5M487.4,494.0 487.8,493.3M484.6,488.5 482.5,486.5 480.8,484.1 478.2,482.5M465.6,474.1 468.0,475.9 470.9,476.7 473.0,479.0 475.3,480.8 478.2,481.8M478.2,481.8 478.2,482.5M520.8,335.9 522.2,333.4 524.3,331.4 526.1,329.1 528.7,327.6 530.1,325.0M530.1,325.0 533.4,325.2M591.2,344.8 592.8,341.3 593.9,337.7M605.9,344.1 605.3,341.4 604.0,338.9 603.2,336.2M595.8,337.1 593.9,337.7M593.9,337.7 593.6,337.3M620.6,337.0 622.0,335.9M620.6,337.0 617.9,335.3 615.0,334.0 612.1,332.6 609.0,331.6M622.0,335.9 621.9,332.9 620.9,330.2 620.3,327.5 619.4,324.7 618.4,322.1M607.7,328.5 610.0,325.8 611.5,322.4M611.5,322.4 615.0,322.3 618.4,322.1M618.4,343.0 619.4,340.0 620.6,337.0M629.4,334.6 625.7,335.2 622.0,335.9M623.8,315.8 622.1,318.0 620.2,320.0 618.4,322.1M640.1,412.6 637.2,413.3 634.2,413.2 631.3,414.2 628.3,414.3M640.1,412.6 640.2,411.7M640.6,408.3 641.1,403.9M641.1,403.9 638.5,402.2 635.3,401.8 632.8,400.1M632.8,400.1 631.5,402.7 629.1,404.4 627.5,406.7M627.5,406.7 628.1,410.5 628.3,414.3M640.3,412.7 640.1,412.6M627.6,415.6 628.3,414.3M647.3,401.0 644.3,402.7 641.1,403.9M631.8,394.1 631.7,397.2 632.8,400.1M619.3,403.0 622.1,404.1 624.6,405.8 627.5,406.7M628.8,446.4 628.9,449.4 628.3,452.3M628.3,452.3 630.9,454.9 634.0,457.0M421.5,547.2 424.2,545.9 426.7,544.3M421.5,547.2 419.3,545.1 416.1,544.2 413.7,542.4 411.5,540.2M428.3,542.1 428.1,538.7 427.9,535.3 428.7,532.0M411.5,540.2 411.7,537.5M411.7,537.5 413.5,535.2 415.6,533.2 418.2,531.9 420.7,530.4 422.4,528.0M422.4,528.0 425.4,530.2 428.7,532.0M420.8,552.1 421.5,547.2M401.4,549.3 403.7,547.8 405.6,545.9 407.4,543.8 409.5,542.0 411.5,540.2M401.9,527.7 404.5,525.9 406.3,523.2 408.4,521.0 410.5,518.6M401.9,527.7 403.9,529.7 406.2,531.2 407.8,533.6 409.5,535.8 411.7,537.5M420.5,521.7 421.4,524.8 422.4,528.0M438.9,529.5 436.3,530.1 433.8,530.9 431.3,531.7 428.7,532.0M401.9,527.7 398.0,528.0M399.4,509.5 397.0,511.1 394.7,512.9 392.6,515.0M392.6,515.0 394.0,517.5 394.5,520.3 395.8,522.8 397.2,525.3 398.0,528.0M395.1,543.6 395.6,540.4 394.5,537.2 395.1,534.0 395.1,530.8M380.8,534.3 382.4,531.9 384.4,530.0M384.4,530.0 387.1,530.4 389.7,530.5 392.4,530.8 395.1,530.8M398.0,528.0 395.1,530.8M208.2,128.2 205.3,128.9 202.3,128.9 199.6,130.4 196.5,130.3M196.5,146.7 196.4,146.6M196.4,146.6 195.9,143.9 196.3,141.2 196.2,138.5 197.0,135.8 196.3,133.0 196.5,130.3M191.7,119.5 192.6,122.5 193.6,125.5 193.8,128.7M196.5,130.3 193.8,128.7M205.7,166.2 202.4,165.2 199.1,164.1 195.7,163.4M191.8,172.1 193.4,169.3 194.4,166.3 195.7,163.4M197.0,148.1 196.7,150.8 195.7,153.3 195.0,155.9 194.4,158.5 194.3,161.1M195.7,163.4 194.3,161.1M254.6,796.2 252.1,797.0M247.0,785.5 246.2,788.0 246.0,790.7M207.6,231.3 207.6,231.5M194.0,241.8 192.7,241.1M194.0,241.8 195.1,241.7M195.1,241.7 197.0,239.8 199.3,238.4 201.7,237.1 203.7,235.3 205.1,232.7 207.6,231.5M170.2,582.5 167.7,581.4 165.2,580.2 163.0,578.4 160.8,576.9M158.3,557.2 156.9,561.5M456.6,376.0 456.2,375.7M456.6,376.0 459.3,375.9 461.9,376.4 464.5,377.1 467.1,378.0M456.2,375.7 457.5,373.0 459.1,370.6 460.9,368.3 462.5,365.8 464.5,363.6M467.1,378.0 469.4,375.7 471.7,373.3 474.1,370.9M464.5,363.6 467.2,364.3 470.0,363.7 472.7,363.9M474.1,370.9 473.0,367.5 472.7,363.9M460.0,390.2 459.1,387.4 458.2,384.6 457.8,381.7 457.3,378.8 456.6,376.0M453.8,375.4 456.2,375.7M472.8,389.8 471.2,387.6 470.1,385.3 469.0,382.9 468.7,380.2 467.1,378.0M459.6,358.2 462.3,360.7 464.5,363.6M479.6,375.8 477.1,373.1 474.1,370.9M476.7,359.5 474.6,361.7 472.7,363.9M252.9,219.4 250.8,222.0 248.5,224.5M252.9,219.4 250.6,217.5 248.1,215.9 245.4,214.8 243.0,213.1 239.9,212.6 237.7,210.6M248.5,224.5 245.4,225.0 242.6,226.2 239.6,226.6 236.7,227.8M237.7,210.6 236.2,212.9 234.5,215.2 233.0,217.6 232.2,220.4M232.2,220.4 233.1,223.2 235.2,225.4 236.7,227.8M255.2,219.0 252.9,219.4M248.2,239.1 246.3,237.5M248.2,239.1 251.2,238.6 254.2,239.6 257.2,238.9M246.3,237.5 246.6,234.9 246.9,232.3 248.1,229.8 247.5,227.1 248.5,224.5M257.2,238.9 258.2,237.3M234.2,202.8 235.9,205.1 236.4,208.0 237.7,210.6M219.2,220.5 222.7,223.0M222.7,223.0 225.9,222.5 228.9,220.9 232.2,220.4M246.3,237.5 241.3,238.3M236.7,227.8 235.8,230.7 234.5,233.4M234.5,233.4 237.0,234.7 239.1,236.7 241.3,238.3M246.0,252.3 243.2,250.3 240.6,248.1 237.8,246.3M248.2,239.1 248.3,241.9 248.4,244.8 248.1,247.6 248.3,250.5M248.3,250.5 246.8,252.1M241.3,238.3 239.7,240.7 238.8,243.5 237.8,246.3M273.8,234.5 272.7,237.6 271.0,240.5 270.3,243.8M257.2,238.9 257.9,241.7 259.0,244.5 259.9,247.4M270.3,243.8 267.9,245.2 265.3,246.0 262.5,246.4 259.9,247.4M282.4,255.7 278.9,256.2 275.3,255.7M270.3,243.8 271.5,246.8 272.4,249.9 273.4,253.0 275.3,255.7M248.3,250.5 251.1,250.4 253.8,249.2 256.6,248.4 259.5,248.4M259.9,247.4 259.5,248.4M177.7,301.3 180.2,302.1 182.8,302.9 185.0,304.5M177.7,301.3 176.9,298.3 176.9,295.3 176.9,292.2M176.9,292.2 179.6,290.4 181.7,287.9M185.0,304.5 187.8,303.1M181.7,287.9 185.2,289.8M185.2,289.8 186.0,292.8 186.9,295.7 188.0,298.6 188.6,301.6M187.8,303.1 188.6,301.6M170.0,305.6 172.8,304.7 175.3,303.1 177.7,301.3M181.1,318.6 182.4,315.9 182.1,312.7 183.8,310.2 184.0,307.2 185.0,304.5M168.0,291.8 171.0,292.4 173.9,292.3 176.9,292.2M180.5,280.3 181.3,284.0 181.7,287.9M196.2,283.1 195.8,285.8 195.2,288.3M195.2,288.3 192.0,289.2 188.6,289.6 185.2,289.8M190.9,275.5 186.5,274.0M182.0,324.6 185.3,324.2 188.6,325.0 191.9,324.8M187.8,303.1 190.2,305.3 193.0,307.0 195.0,309.5M195.0,309.5 195.0,312.7 193.6,315.6 193.7,318.8 192.5,321.8 191.9,324.8M203.9,345.8 204.1,342.8 203.0,340.1 202.0,337.3 202.0,334.4 201.3,331.6 201.1,328.7M191.9,324.8 195.0,325.9 198.1,327.3 201.1,328.7M227.3,325.0 226.7,324.5M226.7,324.5 223.6,324.6 220.6,323.5 217.5,323.5 214.4,323.0M214.4,323.0 211.6,323.3 209.2,324.9 206.5,325.3 203.9,326.5M201.1,328.7 203.9,326.5M203.3,258.0 201.0,262.6M203.3,258.0 201.2,256.1 198.8,254.7 196.4,253.1 194.0,251.7M201.0,262.6 197.9,262.6 194.8,263.3 191.7,263.3M191.7,263.3 190.8,260.7 188.5,259.0 187.3,256.7M194.0,251.7 192.0,253.6 189.2,254.5 187.3,256.7M207.6,255.4 203.3,258.0M207.6,255.4 208.1,255.6M208.1,255.6 210.1,257.7 212.4,259.6 213.5,262.5 215.7,264.4M202.8,269.8 202.0,266.2 201.0,262.6M207.6,255.4 207.3,251.5 207.2,247.6M194.0,241.8 194.1,245.1 194.5,248.4 194.0,251.7M207.2,247.6 205.0,245.9 202.3,245.4 199.8,244.3 197.7,242.4 195.1,241.7M186.4,273.2 187.7,270.7 188.8,268.1 190.7,266.0 191.7,263.3M183.2,255.8 187.3,256.7M268.4,282.1 265.4,281.2 262.4,280.7 259.5,279.5M259.5,279.5 258.6,282.1 257.1,284.3 255.2,286.3M264.0,292.7 260.8,291.4 258.3,289.0 255.4,287.2M255.2,286.3 255.4,287.2M245.2,277.9 245.6,281.2M250.1,270.6 252.7,272.5 255.7,273.4 258.4,274.9M259.5,279.5 258.4,274.9M255.2,286.3 252.9,284.9 250.7,283.2 248.2,282.2 245.6,281.2M252.8,299.5 251.6,297.1 249.8,295.1M255.4,287.2 253.1,289.5 251.5,292.3 249.8,295.1M308.3,340.9 308.5,343.9 309.0,346.9 310.4,349.6M326.6,345.2 325.3,347.5 323.2,349.1 321.9,351.4 319.6,352.9 318.2,355.2M318.2,355.2 315.7,353.2 312.7,351.8 310.4,349.6M295.2,350.3 298.4,352.4 301.5,354.7M310.4,349.6 307.1,350.8 304.1,352.5 301.5,354.7M289.0,364.1 292.1,363.5 295.3,364.4 298.4,363.4 301.6,363.9M301.5,354.7 301.9,357.8 302.1,360.8 301.6,363.9M298.1,380.3 299.0,377.3 299.9,374.3 301.0,371.4 302.1,368.5 303.5,365.7M301.6,363.9 303.5,365.7M392.6,515.0 388.5,514.4M384.4,530.0 383.2,527.6 382.5,525.1 381.6,522.6M388.5,514.4 386.7,516.3 385.4,518.8 383.4,520.5 381.6,522.6M364.8,528.4 366.9,526.2 369.1,524.1 371.8,522.6 373.9,520.5M373.9,520.5 376.6,521.0 379.0,522.2 381.6,522.6M365.1,497.5 368.6,496.3 372.0,495.1M365.1,497.5 363.5,500.2 362.3,503.0M362.3,503.0 362.8,507.4M362.8,507.4 365.1,509.2 368.1,509.7 370.3,511.8 373.1,512.7M372.0,495.1 374.9,495.9 377.2,497.6 379.5,499.5 382.3,500.1M373.1,512.7 375.4,511.3 377.9,510.0 379.8,508.0 382.1,506.6M382.3,500.1 382.1,503.3 382.1,506.6M357.4,487.3 359.4,489.8 361.1,492.6 363.0,495.2 365.1,497.5M376.0,475.4 375.8,478.2 375.4,481.1 374.6,483.9 373.5,486.6 373.0,489.4 373.0,492.3 372.0,495.1M344.2,500.4 346.8,500.5 349.4,500.7 351.9,501.6 354.5,502.4 357.2,501.9 359.6,503.1 362.3,503.0M356.0,518.4 357.3,515.4 359.3,512.8 360.6,509.8 362.8,507.4M373.9,520.5 373.4,517.9 373.8,515.2 373.1,512.7M390.6,494.9 387.6,496.2 385.4,498.9 382.3,500.1M388.5,514.4 386.2,511.9 384.0,509.4 382.1,506.6M658.8,282.6 658.7,282.6M475.9,465.7 479.0,465.1 481.8,463.7 484.9,463.1 488.0,462.6M475.9,465.7 476.8,468.2 477.6,470.8 478.7,473.3 478.8,476.1 479.7,478.6M479.7,478.6 481.7,476.5 484.4,475.3 486.7,473.6 489.4,472.5M488.0,462.6 489.0,465.8 488.6,469.2 489.4,472.5M474.9,465.1 475.9,465.7M490.7,457.5 489.9,460.4 488.0,462.6M478.2,481.8 479.7,478.6M492.4,474.0 489.4,472.5M527.5,309.7 525.7,312.4 524.5,315.5 522.2,317.8M527.5,309.7 532.1,310.2M522.2,317.8 524.4,319.3 526.0,321.6 528.3,322.9 530.1,325.0M525.0,304.4 526.1,307.1 527.5,309.7M628.3,452.3 625.8,453.3 624.0,455.2 621.8,456.6M172.7,117.9 173.7,120.5 174.5,123.1M165.5,128.0 168.7,126.7 171.5,124.8 174.5,123.1M186.8,116.9 184.2,118.6 181.5,120.1 179.1,122.0 176.6,123.8M174.5,123.1 176.6,123.8M193.8,128.7 190.7,129.4 187.8,130.6 185.1,132.3 182.2,133.6M176.6,123.8 178.2,126.1 178.9,129.0 180.3,131.5 182.2,133.6M207.2,247.6 208.8,244.8 211.1,242.6M207.6,231.5 208.8,233.9 210.9,235.6M211.1,242.6 211.0,239.1 210.9,235.6M222.7,223.0 223.8,225.7 224.4,228.5 224.3,231.5 224.9,234.3M210.9,235.6 213.7,234.9 216.5,234.5 219.3,235.1 222.1,234.6 224.9,234.3M234.5,233.4 232.2,234.9 229.2,234.8 226.7,236.1M224.9,234.3 226.7,236.1M520.0,335.7 517.9,332.7 515.2,330.2M513.9,330.3 515.2,330.2M522.2,317.8 519.5,318.6 516.8,318.5M515.2,330.2 516.1,327.7 515.9,325.0M516.4,321.0 516.8,318.5M516.8,318.5 516.1,318.0M275.0,255.9 272.3,255.7 269.7,254.8 267.1,254.9 264.4,255.2 261.8,254.7M275.0,255.9 273.2,258.1 272.9,261.1 271.8,263.6 269.6,265.6 268.9,268.3M268.9,268.3 266.5,268.2M266.5,268.2 264.7,266.1 262.9,264.0 261.1,262.0 258.8,260.4M258.8,260.4 260.1,257.5 261.8,254.7M275.3,255.7 275.0,255.9M259.5,248.4 261.3,251.3 261.8,254.7M272.0,271.7 268.9,268.3M258.4,274.9 260.3,273.1 262.1,271.2 264.5,270.0 266.5,268.2M254.4,261.7 258.8,260.4M239.7,300.4 237.5,297.9 234.7,296.1 232.4,293.6M239.7,300.4 241.4,298.1 243.4,296.2 245.9,294.7M245.9,294.7 244.5,292.0 242.6,289.7 241.2,287.1M232.4,293.6 234.4,290.5 236.4,287.3M236.4,287.3 241.2,287.1M242.3,308.9 239.2,305.6M239.2,305.6 238.8,302.9 239.7,300.4M249.8,295.1 245.9,294.7M245.6,281.2 243.5,284.2 241.2,287.1M230.9,280.2 232.2,283.0 234.9,284.7 236.4,287.3M226.7,324.5 226.8,321.9 227.3,319.2 227.3,316.6 226.0,313.9 226.6,311.2M239.2,305.6 236.3,306.2 233.2,305.9 230.4,307.1M226.6,311.2 228.8,309.4 230.4,307.1M232.4,293.6 229.2,293.9 226.3,295.2M230.4,307.1 228.8,304.3 228.3,301.1 227.0,298.3 226.3,295.2M221.9,286.6 221.5,288.7M221.5,288.7 223.1,290.9 225.1,292.6 226.2,295.2M226.3,295.2 226.2,295.2M214.4,323.0 214.4,320.4 213.7,317.9 214.4,315.2 213.8,312.6 212.9,310.1 213.4,307.5M226.6,311.2 223.8,309.9 221.6,307.5 218.5,306.5 216.0,304.8M213.4,307.5 216.0,304.8M203.9,326.5 203.4,323.5 204.5,320.5 203.5,317.5 204.4,314.5 204.6,311.5 204.5,308.5M213.4,307.5 210.3,307.2 207.4,307.6 204.5,308.5M226.2,295.2 223.8,296.5 222.2,298.9 219.8,300.3 217.7,301.9 216.0,304.1M216.0,304.8 216.0,304.1M195.0,309.5 198.7,308.2 202.2,306.8M204.5,308.5 202.2,306.8M318.5,357.5 315.7,359.2 314.1,362.2 311.5,364.1 309.0,366.1M318.5,357.5 320.7,359.0 322.8,360.7 324.9,362.4 326.3,364.9 328.7,366.3M326.9,371.3 324.6,372.6 322.0,373.4 319.4,373.9 316.9,374.7 314.5,375.9M326.9,371.3 327.7,368.7 328.7,366.3M314.5,375.9 313.7,373.1 311.7,371.0 310.5,368.4 309.0,366.1M318.2,355.2 318.5,357.5M303.5,365.7 306.2,366.1 309.0,366.1M334.0,364.4 331.4,365.3 328.7,366.3M330.5,382.4 329.4,379.7 328.4,376.9 327.9,374.0 326.9,371.3M313.9,377.6 314.5,375.9M602.2,317.4 604.9,317.2 607.2,315.8M607.2,315.8 608.3,312.5M611.5,322.4 610.3,320.1 608.3,318.2 607.2,315.8M620.5,309.5 618.0,309.7M220.5,245.9 222.8,243.6 224.6,240.8 226.6,238.3M220.5,245.9 220.4,249.0 221.3,251.9M221.3,251.9 221.9,252.4M221.9,252.4 225.2,252.2 228.4,251.6 231.7,251.1M226.6,238.3 227.9,240.9 229.7,243.0 232.2,244.7 233.5,247.3M231.7,251.1 233.5,247.3M211.1,242.6 214.3,243.4 217.6,244.2 220.5,245.9M226.7,236.1 226.6,238.3M208.1,255.6 210.6,254.3 213.4,254.0 216.1,253.5 218.9,253.2 221.3,251.9M223.5,261.7 222.6,258.6 223.1,255.4 221.9,252.4M235.0,259.8 233.4,257.0 232.4,254.1 231.7,251.1M237.8,246.3 233.5,247.3M213.7,291.3 212.8,294.6 212.0,297.9M213.7,291.3 211.1,289.0 208.3,287.0M212.0,297.9 209.3,297.9 206.7,297.5 204.0,298.3 201.4,298.1M208.3,287.0 206.2,288.9 203.5,289.9 201.8,292.1 199.5,293.7M201.4,298.1 199.6,296.2M199.5,293.7 199.6,296.2M221.5,288.7 218.7,289.1 216.4,290.7 213.7,291.3M216.0,304.1 214.4,300.8 212.0,297.9M207.8,281.5 208.1,284.3 208.3,287.0M202.2,306.8 201.6,303.9 201.4,301.0 201.4,298.1M195.2,288.3 197.1,291.2 199.5,293.7M188.6,301.6 191.3,300.3 194.2,299.0 196.9,297.5 199.6,296.2M182.2,133.6 180.9,138.6M167.3,138.7 170.0,138.2 172.8,138.5 175.5,138.0 178.2,138.9 180.9,138.6M196.4,146.6 193.3,146.1 190.1,146.1 186.9,145.3 183.8,144.9M183.8,144.9 182.9,141.5 180.9,138.6M181.8,160.4 181.9,163.3 181.5,166.2 180.4,168.9M181.8,160.4 179.5,157.7 177.5,154.7M177.5,154.7 173.5,154.9M173.5,154.9 171.4,157.2 169.2,159.4M194.3,161.1 191.2,160.5 188.0,161.0 184.9,160.4 181.8,160.4M183.8,144.9 181.7,147.0 180.1,149.4 178.6,151.9 177.5,154.7M167.7,149.1 169.7,151.0 171.5,153.1 173.5,154.9M140.0,82.0 141.2,84.4 143.7,85.7 145.5,87.6 146.7,90.0 148.1,92.2 150.0,94.0 152.0,95.7 153.1,98.2 155.1,100.0 157.1,101.6 158.2,104.1 160.4,105.7 161.8,107.9 163.6,109.8 165.0,112.0 168.0,113.1 170.5,115.3 173.3,116.7 176.3,117.8 179.0,116.7 181.5,115.2 184.0,116.0 186.8,115.3 189.2,116.7 191.9,116.5 194.5,116.6 197.1,117.5 199.7,117.1 202.3,117.8 205.7,117.6 209.2,118.2 212.6,117.8 215.1,118.6 217.7,118.8 220.4,118.8 223.0,118.8 225.6,119.1 228.2,118.9 230.8,118.3 233.3,117.7 236.0,117.8 238.4,115.8 241.1,114.2 243.8,112.6 246.2,110.9 249.1,110.4 251.5,108.7 254.0,107.2 256.6,106.0 259.2,104.7 262.2,104.2 264.5,102.3 267.0,100.2 269.4,98.0 271.9,96.0 274.9,94.5M274.9,94.5 274.8,98.4 274.9,102.3 275.6,105.1 276.9,107.7 278.9,109.9 280.0,112.6 281.9,114.7 284.4,116.0 285.6,118.8 287.9,120.4 290.0,122.2 292.2,123.9 294.1,125.8 295.6,128.2 295.2,131.2 296.3,134.0 296.0,137.0M236.0,117.8 236.9,120.4 238.3,122.8 238.5,125.6 240.0,128.0 241.8,130.8 243.2,133.7 243.8,137.0 245.4,139.2 246.7,141.7 247.9,144.1 250.0,146.0 252.3,147.7 253.9,150.1 256.0,152.0 257.4,154.5 257.7,157.4 259.0,160.0 259.9,162.6 260.1,165.4 261.0,168.0" fill="none" stroke="#ffffff" stroke-width="1.0" stroke-opacity="0.9" stroke-linejoin="round"/>
<path d="M214.1,186.2 L216.0,185.3 L218.0,185.0 L219.2,183.4 L221.1,182.7 L222.3,181.3 L222.6,179.2 L224.2,178.0 L224.0,175.9 L223.5,173.9 L223.5,171.8 L222.7,170.2 L223.9,168.6 L225.8,168.1 L227.4,167.1 L228.5,165.5 L230.4,165.0 L232.0,164.0 L233.3,162.8 L234.9,162.3 L236.6,162.2 L238.2,161.7 L240.4,161.9 L242.3,160.6 L244.5,160.9 L246.3,162.2 L247.6,164.0 L249.1,165.2 L250.4,166.6 L252.3,167.1 L253.8,168.0 L255.5,168.5 L256.6,170.1 L258.5,170.2 L260.4,169.0 L262.8,169.7 L264.7,168.7 L266.4,169.2 L267.8,170.2 L269.7,171.4 L270.9,173.3 L272.8,174.2 L274.2,175.7 L275.6,177.2 L277.3,177.2 L278.6,175.7 L280.3,175.7 L281.9,175.4 L283.4,174.9 L284.3,176.6 L285.5,178.0M221.1,182.7 L220.7,184.3 L219.8,185.8 L219.8,187.6 L219.2,189.2 L218.0,190.5 L217.2,192.8 L218.7,193.6 L219.6,195.1 L221.0,196.8 L222.7,198.2 L223.6,199.7 L224.5,201.2 L224.9,203.0 L225.8,204.5 L226.9,206.0 L228.1,207.4 L228.9,209.1 L229.3,210.9 L230.2,212.4 L231.2,213.8 L233.0,212.7 L235.1,212.3 L236.6,213.9 L238.2,215.4 L239.0,217.0 L239.8,218.5 L240.4,220.4 L241.6,221.8 L242.9,223.2 L244.0,224.6 L244.5,226.3 L244.6,228.2 L246.0,229.4 L245.8,231.2 L244.5,232.5 L245.4,234.0 L245.7,235.8 L246.8,237.2M246.8,237.2 L246.1,239.0 L244.7,240.3 L244.1,242.2 L242.3,243.2 L241.4,244.9 L239.6,245.6 L238.2,246.9 L236.7,248.1 L235.0,248.1 L233.7,249.4 L232.0,249.6 L231.0,251.0 L230.3,252.6 L229.6,254.2 L228.9,255.8 L227.0,256.3 L224.9,256.1 L222.9,256.3 L221.1,257.4 L219.1,257.0 L217.2,256.4 L215.1,256.8 L213.3,255.8 L211.7,256.0 L210.2,256.7 L208.7,257.4 L207.5,255.9 L205.6,255.8 L204.2,254.6 L202.3,254.5 L200.8,253.6 L199.3,252.7 L197.3,252.0 L195.0,252.4 L193.1,251.2 L191.6,252.0 L190.0,252.7 L188.3,253.1 L186.6,253.0 L185.0,253.0 L183.4,251.8 L181.6,252.7 L180.0,252.0 L178.2,250.8 L177.2,249.1 L176.8,247.2 L176.3,245.3 L177.0,243.6 L175.9,241.7 L176.7,240.0M246.8,237.2 L247.8,235.1 L249.0,233.0 L249.8,231.5 L251.0,230.3 L251.7,228.7 L252.0,227.0 L254.2,226.5 L256.0,225.0 L258.0,224.5 L260.0,224.5 L262.0,224.5 L264.0,224.9 L265.7,226.3 L267.8,226.3 L269.0,225.0 L268.4,223.0 L269.4,221.6 L270.0,219.8 L271.1,218.2 L272.5,216.9 L273.9,216.0 L275.6,215.9 L277.2,215.4 L279.3,215.8 L281.4,215.5 L283.4,216.1 L285.6,215.6 L287.5,216.5 L289.6,216.9 L291.5,216.9 L293.4,217.3 L295.2,218.0 L297.2,217.5M190.0,252.7 L190.0,254.6 L190.5,256.4 L190.7,258.2 L190.9,260.1 L192.1,261.8 L191.7,263.7 L192.9,265.1 L194.5,265.8 L196.0,266.8 L197.5,267.6 L199.4,267.9 L200.8,268.9 L202.6,269.2 L204.4,269.2 L205.9,270.4 L207.8,270.0 L209.5,270.4 L211.1,271.5 L212.0,273.1 L212.5,274.8 L212.6,276.6 L213.5,278.3 L214.0,280.0 L213.7,281.9 L214.9,283.2 L215.7,284.6 L216.1,286.3 L217.3,287.5 L216.9,289.6 L218.0,290.9 L218.9,292.3 L220.7,292.7 L222.2,293.6 L223.7,294.6 L225.2,295.6 L225.8,297.3 L226.6,298.9 L226.5,300.8 L225.6,302.4 L224.9,304.0 L225.2,305.9 L227.2,307.2 L229.1,308.5 L230.1,306.9 L230.5,304.9 L231.5,303.3 L233.0,302.0 L234.7,301.4 L236.4,300.9 L238.2,300.8 L240.2,301.0 L242.0,299.6 L243.9,299.1 L245.9,299.5 L246.6,301.8 L248.5,303.3 L248.5,304.9 L249.0,306.6 L248.4,308.2 L248.5,309.8 L250.3,310.6 L251.1,312.4 L252.4,309.8 L254.3,310.2 L256.3,310.5M256.3,310.5 L258.9,309.8 L260.8,308.2 L261.5,305.9 L262.4,304.4 L262.4,302.8 L262.1,301.0 L262.8,299.5 L262.3,297.9 L261.7,296.3 L262.2,294.5 L261.5,293.0 L260.8,291.4 L260.3,289.7 L258.9,288.4 L258.0,286.9 L257.6,285.2 L257.7,283.5 L257.6,281.9 L257.1,280.3 L256.7,278.8 L256.4,277.2 L255.9,275.6 L255.2,274.1 L254.8,272.5 L255.2,270.9 L255.0,269.2 L254.5,267.6 L254.5,266.0 L254.9,264.4 L254.8,262.7 L255.2,261.1 L255.5,259.2 L255.9,257.2 L255.1,255.2 L255.2,253.3 L256.3,252.0 L256.9,250.5 L257.4,248.9 L257.1,247.1 L257.8,245.6 L258.8,244.0 L260.1,242.7 L261.4,241.4 L263.0,240.4 L263.9,238.2 L265.6,236.5 L266.1,234.8 L266.9,233.2 L267.2,231.5 L267.0,229.7 L267.7,228.0 L267.8,226.3M249.8,282.6 L251.6,282.6 L253.1,281.1 L255.0,281.3 L256.1,283.4 L257.6,285.2 L256.7,286.7 L256.5,288.4 L256.3,290.0 L256.3,291.7 L254.6,292.2 L253.0,293.0 L251.1,293.0 L250.1,291.4 L248.3,290.6 L247.2,289.1 L248.0,287.2 L247.9,285.2 L249.4,284.3 L249.8,282.6M267.8,226.3 L268.4,228.2 L268.7,230.1 L268.3,232.2 L269.4,234.0 L269.4,235.7 L270.6,237.0 L271.1,238.6 L270.9,240.3 L272.8,241.5 L274.0,243.4 L275.2,245.4 L277.2,246.5 L277.2,248.4 L278.6,249.9 L278.1,251.9 L278.4,253.7 L279.3,255.3 L280.0,257.0 L281.8,257.0 L283.5,257.6 L285.2,257.8 L286.8,258.5 L288.2,259.4 L288.6,261.6 L290.3,262.1 L291.9,263.4 L293.7,264.4 L295.5,265.5 L293.9,266.2 L293.2,267.9 L292.0,269.0 L292.9,270.7 L294.3,271.9 L296.2,272.5 L297.2,274.1 L298.8,274.6 L300.2,275.6 L301.7,276.4 L302.9,277.7 L304.6,278.1 L305.8,279.3 L307.5,279.5 L309.3,279.4 L310.8,280.9 L312.6,280.4 L314.3,281.0 L316.1,281.8 L317.7,282.8 L319.2,284.1 L321.2,284.4 L322.9,283.6M256.3,310.5 L257.1,312.7 L257.6,315.0 L258.4,317.3 L260.2,318.9 L261.5,320.2 L262.8,321.5 L264.1,322.8 L264.7,324.8 L265.4,326.7 L264.6,328.5 L262.8,329.3 L264.1,331.9 L262.2,333.3 L260.2,334.5 L261.5,337.1 L263.2,335.4 L265.4,334.5 L267.1,333.1 L269.3,333.2 L271.0,333.6 L272.8,332.7 L274.5,333.2 L276.5,333.8 L278.4,334.5 L281.0,335.8M107.8,396.0 L109.5,395.8 L110.9,395.1 L112.4,394.3 L114.0,394.1 L115.6,393.6 L117.2,393.5 L118.9,393.7 L120.4,392.5 L122.1,393.0 L123.7,392.4 L125.3,392.3 L127.0,392.9 L128.6,392.3 L130.3,392.7 L132.0,393.3 L133.7,394.0 L135.4,394.6 L137.3,394.4 L139.0,394.9 L140.5,395.6 L142.1,395.9 L143.6,396.4 L145.1,397.2 L146.7,397.4 L148.7,397.7 L150.6,398.1 L152.6,398.3 L154.5,398.7 L155.2,401.0 L157.1,402.6 L158.3,404.7 L160.0,406.4 L161.0,407.8 L162.3,408.7 L164.0,409.1 L164.8,410.8 L164.8,412.7 L165.4,414.5 L165.9,416.2 L167.0,417.5 L168.8,418.2 L169.4,419.9 L171.2,420.9 L172.2,422.6 L173.5,424.0 L175.6,424.3 L177.3,425.5 L178.9,426.7 L180.6,427.2 L181.4,428.9 L182.7,430.0 L184.3,430.7 L185.2,432.5 L187.0,433.4 L189.7,433.4M180.2,461.8 L180.2,459.9 L181.4,458.3 L181.6,456.4 L182.7,455.2 L183.0,453.4 L184.3,452.3 L181.6,451.0 L183.4,450.1 L184.3,448.3 L185.9,447.4 L186.0,445.3 L187.8,444.7 L188.3,442.9 L188.1,441.1 L188.3,439.3 L188.3,437.5 L189.7,435.7 L189.7,433.4 L191.7,432.9 L193.1,431.1 L195.1,430.7 L192.4,429.4 L193.0,427.3 L193.7,425.3 L195.1,424.4 L196.3,423.3 L197.8,422.6 L198.1,420.8 L198.9,419.1 L200.1,417.7 L200.5,415.9 L199.8,414.2 L200.6,412.5 L200.4,410.8 L200.5,409.1 L199.4,407.6 L199.6,405.8 L199.6,404.0 L199.1,402.4 L198.2,400.6 L196.7,399.1 L196.4,397.0 L197.6,395.4 L197.8,393.5 L197.8,391.6 L199.7,390.8 L200.5,388.9 L199.2,387.0 L199.1,384.8 L200.5,383.5 L202.0,384.1 L203.6,384.7 L204.5,386.2 L206.1,385.1 L207.2,383.5 L209.9,383.5 L210.2,385.3 L210.5,387.1 L209.9,388.9 L212.0,389.4 L214.0,390.2 L215.8,390.8 L217.6,390.7 L219.4,390.2 L222.1,391.6 L222.9,393.3 L223.5,395.1 L223.4,397.0 L222.4,398.7 L222.4,400.6 L222.1,402.4 L221.1,404.3 L220.7,406.4 L220.6,408.6 L219.4,410.5 L216.7,411.8 L214.0,413.2 L215.3,414.5 L217.6,414.6 L219.4,415.9 L220.9,414.7 L222.1,413.2 L223.4,411.8 L224.8,410.5 L225.2,408.8 L227.1,408.1 L227.5,406.4 L228.6,405.2 L229.7,404.0 L230.2,402.4 L232.1,402.2 L233.7,403.8 L235.6,403.7 L237.4,403.0 L239.2,404.2 L241.0,403.7 L242.8,404.1 L244.7,404.4 L246.4,405.1 L247.8,403.8 L249.1,402.4 L249.3,400.4 L247.8,398.9 L247.7,397.0 L246.5,395.1 L246.4,392.9 L246.9,391.1 L246.9,389.2 L247.7,387.5 L246.5,385.7 L246.4,383.5 L248.2,382.3 L250.4,382.1 L251.9,380.8 L253.6,380.3 L255.4,379.8 L257.2,379.4 L257.6,377.3 L255.0,376.0 L253.4,376.3 L251.8,375.6 L250.1,376.3 L248.5,376.0 L246.8,375.1 L244.8,374.7 L243.3,373.4 L241.9,372.3 L240.2,371.3 L239.5,369.5 L238.7,367.9 L237.9,366.2 L238.2,364.3 L239.8,362.5 L240.8,360.4 L242.5,359.6 L244.0,358.3 L245.9,357.8 L247.5,356.8 L249.5,356.4 L250.5,354.4 L252.4,353.9 L254.6,353.0 L256.3,351.3 L258.0,350.3 L259.8,349.6 L261.5,348.7 L263.1,348.2 L264.0,346.7 L265.4,345.9 L266.7,344.9 L268.6,344.3 L270.5,343.8 L271.9,342.3 L273.1,341.1 L274.8,340.7 L276.0,339.6 L277.1,338.4 L279.2,337.3 L281.0,335.8M148.7,509.9 L150.3,509.5 L151.9,509.1 L153.6,509.1 L156.0,508.9 L158.2,510.0 L159.9,509.0 L161.8,509.1 L162.6,506.9 L164.5,505.4 L165.4,503.7 L165.4,501.7 L166.3,500.0 L165.8,498.4 L165.7,496.8 L166.4,495.2 L168.2,495.3 L169.8,494.9 L171.3,494.0 L172.9,494.6 L174.7,494.5 L176.3,495.2 L176.5,493.2 L177.5,491.5 L176.9,489.7 L176.8,487.9 L176.1,486.1 L176.3,484.2 L173.8,482.9 L171.3,481.7 L172.5,480.4 L173.8,479.3 L175.5,477.8 L177.5,476.8 L178.7,474.4 L180.3,475.1 L182.0,475.1 L183.6,474.4 L186.1,473.1 L184.5,472.6 L182.7,472.7 L181.2,471.9 L179.6,470.6 L177.5,470.7 L176.0,469.7 L175.0,468.2 L174.8,466.4 L175.0,464.5 L176.4,462.9 L178.4,462.5 L180.2,461.8M180.2,461.8 L181.9,461.8 L183.6,461.8 L185.3,461.4 L187.0,461.8 L188.3,462.7 L190.1,463.0 L191.0,464.5 L192.7,465.1 L194.4,465.7 L195.6,467.1 L197.4,467.4 L199.2,467.3 L200.9,467.7 L202.5,468.5 L204.3,468.9 L205.9,469.7 L207.5,470.2 L209.1,470.4 L210.7,471.0 L212.4,471.2 L214.0,471.6 L215.5,472.2 L217.3,471.8 L218.9,472.3 L220.5,473.0 L221.4,474.8 L223.5,474.7 L224.5,476.3 L226.1,477.0 L227.8,478.5 L229.7,479.7 L230.6,482.0 L230.2,484.4 L231.9,485.1 L233.6,485.3 L235.4,484.9 L237.5,482.8 L239.6,482.0 L241.6,480.8 L242.1,478.2 L243.3,477.0 L244.2,475.6 L244.7,474.0 L245.8,471.4 L247.7,470.1 L249.9,469.9 L252.0,469.1 L254.1,468.3 L257.2,467.8 L259.3,467.7 L261.3,467.5 L263.4,469.9 L261.9,471.4 L261.3,473.5 L260.8,475.3 L261.3,477.1 L263.6,477.6 L266.0,477.2 L267.9,476.7 L269.9,476.5 L271.6,475.6 L273.4,474.7 L275.0,474.4 L276.3,473.1 L277.7,472.2 L279.5,472.3 L281.3,472.2 L282.8,472.9 L284.4,473.5 L286.2,473.3 L287.5,474.8 L289.3,474.7 L291.4,474.4 L293.5,474.1 L295.5,473.5 L297.2,472.8 L298.9,472.1 L300.4,471.0 L302.0,470.6 L303.5,469.5 L305.3,469.8 L306.7,470.8 L308.2,471.4 L309.9,471.7 L311.4,472.3 L313.2,472.7 L315.1,473.1 L317.1,472.6 L318.8,473.5 L320.9,473.4 L322.8,472.3 L324.9,472.3 L326.8,472.5 L328.3,473.6 L329.8,474.7 L330.8,476.2 L332.6,476.9 L333.5,478.4 L335.9,479.6M281.0,335.8 L282.5,336.5 L284.1,337.1 L285.8,336.8 L287.4,337.1 L289.4,336.9 L291.3,337.1 L293.3,337.7 L295.2,338.4 L296.3,339.9 L297.8,341.0 L298.1,343.1 L299.1,344.9 L299.6,346.9 L300.4,348.7 L299.6,350.2 L299.7,352.2 L298.9,353.8 L297.8,355.2 L297.3,357.1 L295.7,358.5 L295.2,360.4 L294.1,362.5 L292.6,364.3 L291.2,365.5 L290.5,367.4 L288.7,368.2 L287.2,369.3 L285.4,369.4 L283.6,369.5 L282.7,371.4 L282.3,373.4 L282.0,375.0 L282.0,376.7 L282.6,378.4 L282.3,380.0 L281.1,381.5 L279.9,383.0 L279.6,385.0 L279.3,386.9 L279.5,388.9 L278.6,390.8 L278.2,392.6 L279.5,394.2 L278.5,396.1 L278.8,397.8 L280.4,399.4 L279.9,401.2 L281.9,402.4 L283.8,403.8 L285.7,403.4 L287.6,402.7 L289.0,401.2 L290.7,400.3 L292.2,399.2 L294.1,398.6 L293.2,397.2 L293.7,395.3 L292.1,394.1 L292.1,392.3 L291.5,390.8 L290.2,389.3 L289.9,387.3 L289.0,385.6 L290.0,383.8 L289.1,381.7 L290.4,379.9 L290.2,377.9 L291.5,376.5 L293.2,375.5 L294.1,373.7 L295.7,374.5 L297.7,374.4 L299.3,375.3 L300.8,376.7 L302.8,377.0 L304.5,377.9 L306.4,377.6 L308.1,378.0 L309.7,379.2 L311.6,378.9 L313.6,378.5 L315.5,377.9 L317.5,377.9 L319.6,376.9 L322.0,377.0 L323.4,378.0 L324.6,379.1 L325.3,380.8 L327.4,381.0 L328.1,382.7 L330.1,382.1 L331.9,381.4 L333.5,380.0 L335.2,380.4 L335.8,382.3 L337.4,383.0 L338.6,384.1 L340.4,384.2 L341.6,385.4 L343.4,385.6 L345.2,386.1 L347.0,386.7 L349.1,386.5 L350.7,385.0 L352.4,384.0 L354.0,383.1 L355.7,382.5 L357.3,381.7 L359.1,381.3 L361.1,380.5 L363.2,381.0 L365.0,382.1 L365.5,384.3 L367.2,385.4 L368.8,386.2 L369.5,388.1 L371.5,388.3 L372.9,389.4 L374.0,390.8 L375.8,391.7 L377.8,392.2 L379.4,393.5 L381.2,392.8 L383.2,393.2 L384.8,392.1 L385.7,393.9 L387.5,394.8M387.5,394.8 L386.6,396.5 L386.4,398.4 L386.1,400.2 L385.8,402.0 L386.2,403.7 L387.1,405.3 L387.5,407.0 L386.7,408.7 L387.2,410.8 L386.1,412.4 L383.4,413.7 L381.5,413.4 L379.6,413.8 L377.8,413.3 L375.9,413.5 L374.0,413.7 L372.3,414.0 L370.6,414.4 L368.9,413.1 L367.2,413.7 L365.4,413.9 L363.8,413.1 L362.1,413.0 L360.5,412.4 L360.4,414.5 L359.8,416.4 L360.5,418.6 L361.8,420.5 L363.3,422.0 L365.6,422.0 L367.2,423.2 L368.4,424.3 L370.1,424.8 L371.3,425.9 L371.9,427.9 L372.6,429.9 L371.4,431.4 L370.3,433.0 L368.6,434.0 L368.1,435.6 L367.2,436.9 L365.9,438.0 L364.6,439.9 L364.5,442.1 L363.5,443.5 L362.8,445.0 L361.0,445.8 L360.5,447.5 L358.7,447.1 L357.1,448.2 L355.5,449.0 L353.7,448.8 L352.1,450.1 L350.4,451.1 L348.3,451.5 L347.6,453.0 L347.0,454.5 L345.6,455.5 L345.0,457.5 L344.1,459.3 L342.9,460.9 L342.4,462.9 L342.1,464.9 L340.9,466.6 L340.5,468.5 L340.3,470.5 L339.6,472.3 L339.0,473.8 L338.1,475.2 L337.5,476.8 L336.9,478.2 L335.9,479.6M335.9,479.6 L335.1,481.3 L333.7,482.3 L332.2,483.3 L331.5,484.9 L332.8,486.6 L332.2,488.2 L332.8,489.7 L333.3,491.3 L333.6,493.0 L334.7,494.3 L335.5,496.3 L335.8,498.4 L335.9,500.5 L335.7,502.2 L334.8,503.6 L334.2,505.1 L333.5,506.6 L332.4,508.1 L332.1,509.7 L332.2,511.5 L332.5,513.4 L334.5,514.4 L334.7,516.4 L336.5,517.6 L336.9,519.9 L338.4,521.3 L339.2,523.0 L340.9,523.7 L342.1,525.0 L340.7,526.8 L339.6,528.7 L338.4,530.5 L336.4,531.2 L334.7,532.3 L333.0,533.5 L331.8,535.3 L331.0,537.2 L329.9,538.6 L329.1,540.0 L329.6,542.0 L328.6,543.4 L330.2,544.2 L331.0,545.8 L332.9,546.2 L334.3,547.5 L335.9,548.3 L336.9,549.7 L337.9,551.2 L339.3,552.2 L340.8,553.2 L341.7,554.6 L342.6,555.9 L344.0,556.8 L345.0,558.1 L345.5,559.9 L346.9,561.4 L346.5,563.6 L347.9,565.1 L348.1,567.0 L349.8,567.8 L351.5,567.6 L353.3,567.2 L355.0,567.2 L356.7,567.9M328.6,543.4 L327.1,544.2 L325.3,544.0 L323.7,544.6 L323.1,542.8 L321.5,541.6 L321.2,539.7 L320.2,537.8 L320.4,535.6 L320.0,533.6 L319.8,531.7 L319.2,529.9 L318.7,528.1 L318.8,526.2 L317.0,524.9 L315.1,523.8 L313.0,524.5 L311.0,524.1 L308.9,523.8 L307.3,524.3 L305.5,523.9 L304.0,525.0 L302.5,524.0 L301.0,522.8 L299.1,522.5 L297.5,521.7 L295.7,521.3 L294.2,520.1 L292.4,519.6 L291.2,517.8 L289.3,517.6 L287.9,516.7 L286.1,516.7 L284.5,516.5 L283.2,515.2 L282.0,516.4 L280.7,517.6 L280.4,519.7 L280.8,521.7 L280.7,523.8 L280.2,525.6 L278.9,527.0 L278.3,528.7 L276.1,528.5 L274.3,529.9 L272.2,529.9 L272.2,531.7 L271.2,533.0 L270.4,534.5 L269.7,536.0 L269.4,537.6 L270.2,539.3 L269.7,540.9 L268.7,542.3 L268.2,543.9 L267.9,545.5 L267.3,547.1 L265.9,548.7 L263.6,548.9 L262.4,550.7 L261.3,552.1 L259.9,553.2 L258.0,553.2 L256.4,554.5 L254.5,554.5 L253.4,556.2 L251.5,557.0 L250.6,558.8 L249.0,560.0 L247.6,561.2 L247.5,563.1 L247.1,564.8 L246.3,566.4 L245.3,567.8 L244.1,569.1 L243.6,570.8 L241.8,570.9 L240.9,572.8 L239.3,573.2 L238.0,574.1 L236.3,574.5 L234.3,574.2 L232.8,575.7 L231.0,576.2 L229.1,576.6 L227.2,576.3 L225.4,576.5 L223.6,575.7 L221.8,575.7 L220.0,576.0 L218.2,576.3 L217.0,577.9 L216.6,579.8 L217.0,581.8 L216.3,583.6 L215.2,584.9 L213.2,584.9 L212.0,586.0 L210.9,587.2 L209.2,588.3 L207.2,587.9 L205.5,588.7 L203.6,589.0 L201.9,590.1 L200.0,590.8 L198.1,591.2 L196.2,591.6 L194.2,591.2 L193.2,592.9 L191.5,593.6 L190.1,594.6 L188.5,595.5 L187.2,597.0 L187.6,599.3 L185.8,600.6 L185.7,602.6 L186.8,603.9 L187.3,605.4 L187.4,607.2 L188.5,608.4 L187.2,609.7 L186.8,611.5 L186.4,613.3 L184.9,614.5 L184.0,616.0 L182.8,617.2 L181.0,617.5 L180.0,619.0 L178.1,619.9 L176.0,620.2 L174.0,620.5M184.0,616.0 L183.8,617.7 L185.5,619.0 L185.3,620.8 L185.1,622.5 L186.0,624.0 L185.5,626.0 L186.5,628.0 L185.7,630.0 L185.7,631.8 L184.9,633.3 L183.1,634.2 L183.0,636.0 L181.5,637.3 L179.6,638.0M262.7,551.3 L263.3,553.1 L264.0,554.9 L265.4,556.3 L265.6,558.1 L265.7,560.0 L264.7,561.8 L265.4,563.6 L264.9,565.4 L265.0,567.3 L264.0,569.0 L264.2,570.9 L263.6,572.7 L261.7,574.5 L261.7,576.4 L261.8,578.3 L260.4,579.9 L259.9,581.7 L260.0,583.6 L259.9,585.4 L259.2,587.0 L260.6,588.6 L260.3,590.2 L259.9,591.8 L259.2,593.5 L259.2,595.1 L260.1,596.7 L260.3,598.3 L259.9,599.9 L261.2,601.0 L262.4,602.3 L263.6,603.5 L262.5,605.2 L263.1,607.3 L261.7,608.9 L261.7,610.8 L261.3,612.6 L261.7,614.4 L263.3,614.9 L264.9,614.8 L266.6,614.6 L268.2,614.1 L269.8,614.1 L271.4,614.2 L273.1,614.8 L274.7,613.8 L276.3,614.4 L277.7,613.3 L279.5,613.4 L280.8,612.0 L282.2,611.1 L284.0,611.0 L285.5,609.7 L287.5,609.8 L289.1,608.9 L291.2,609.1 L292.9,608.4 L294.4,607.2 L296.2,606.3 L296.5,604.2 L298.0,603.0 L298.7,601.0 L300.0,599.4 L301.7,598.1 L303.5,597.6 L305.4,597.5 L307.2,596.7 L309.0,596.3 L310.4,595.2 L312.0,594.6 L313.7,594.1 L315.3,593.4 L316.9,592.7 L318.5,592.0 L319.8,590.8 L321.4,590.3 L322.5,588.9 L324.4,589.1 L325.5,587.6 L327.1,587.2 L328.9,586.8 L330.7,586.1 L332.7,586.2 L334.4,585.4 L335.9,584.3 L337.7,583.6 L339.5,583.3 L341.1,582.5 L342.8,581.9 L344.8,582.6 L346.4,581.6 L347.8,580.4 L348.8,578.8 L350.1,577.6 L351.5,576.4 L353.0,575.0 L353.2,573.0 L354.4,571.3 L355.2,569.4 L356.7,567.9M401.4,394.3 L402.8,397.1 L402.7,398.8 L403.3,400.4 L403.2,402.1 L404.8,403.4 L404.6,405.2 L404.5,406.9 L404.8,408.5 L405.7,410.0 L406.0,411.7 L408.0,412.5 L408.5,414.1 L409.6,415.4 L409.9,417.1 L411.7,418.2 L412.3,420.5 L414.2,421.4 L415.5,422.9 L416.6,424.7 L418.5,425.7 L419.6,427.5 L419.9,429.7 L421.3,431.4 L421.9,433.3 L422.6,435.1 L422.8,437.1 L421.9,438.9 L421.2,440.7 L421.3,442.8 L420.9,444.6 L419.3,445.6 L418.5,447.1 L417.6,449.1 L417.1,451.3 L415.9,453.0 L414.2,454.2 L412.9,455.3 L411.6,456.5 L409.9,457.0 L408.8,458.8 L407.1,459.9 L406.5,462.0 L405.0,463.6 L404.2,465.6 L403.5,467.4 L403.7,469.5 L402.8,471.3 L403.1,473.3 L402.3,475.0 L401.4,476.7 L401.3,478.6 L399.8,480.1 L398.0,481.1 L396.1,482.0 L394.5,482.9 L392.6,482.4 L391.0,483.2 L389.3,483.7 L387.8,484.9 L386.0,485.5 L384.1,485.5 L382.9,486.9 L381.5,488.0 L380.1,489.2 L379.0,490.6 L379.6,492.3 L379.5,494.1 L378.7,495.8 L379.0,497.5 L379.6,499.2 L380.2,500.8 L380.6,502.5 L380.7,504.3 L380.5,506.2 L381.8,507.7 L381.9,509.5 L382.4,511.2 L384.2,511.9 L385.8,512.9 L385.1,514.7 L384.1,516.4 L382.7,515.0 L380.7,514.6 L379.2,513.3 L377.2,513.7 L375.5,512.9 L373.7,512.8 L372.2,511.4 L370.4,511.2 L368.7,511.6 L367.0,511.2 L368.5,512.6 L368.7,514.6 L368.7,516.5 L369.9,518.0 L370.4,519.8 L370.5,521.7 L371.7,523.2 L372.1,524.9 L372.0,526.8 L373.0,528.3 L373.9,530.0 L373.8,531.8 L374.5,533.5 L373.7,535.2 L373.6,537.0 L373.8,538.7 L372.8,540.3 L373.5,542.2 L372.3,543.8 L372.1,545.5 L371.4,547.3 L370.4,549.0 L369.3,550.1 L368.5,551.6 L367.0,552.4 L365.9,553.9 L364.4,555.0 L362.6,555.8 L361.8,557.6 L361.1,559.1 L359.5,559.9 L358.4,561.0 L357.5,562.6 L356.9,564.3 L357.6,566.3 L356.7,567.9M434.2,533.7 L432.4,534.9 L430.2,535.1 L428.5,535.4 L427.1,536.3 L426.1,537.8 L424.8,539.2 L423.4,540.5 L422.4,542.0 L420.4,541.8 L419.4,543.2 L417.3,542.7 L415.3,541.8 L414.4,540.0 L412.6,539.1 L411.4,537.6 L409.9,536.4 L408.8,535.0 L407.2,534.4 L404.5,535.8 L403.5,537.2 L401.8,537.8 L400.7,539.7 L400.5,541.8 L398.6,542.9 L396.4,543.2 L395.9,545.2 L395.1,547.2 L394.1,548.9 L393.7,550.7 L393.7,552.6 L391.8,553.4 L389.7,553.3 L387.7,554.1 L385.6,554.0 L384.1,552.8 L382.9,551.3 L381.6,549.9 L380.9,551.9 L380.2,554.0 L379.5,555.9 L378.9,557.9 L377.5,559.4 L376.4,560.6 L374.6,560.9 L373.5,562.1 L371.6,562.0 L370.1,563.6 L368.1,563.4 L366.3,564.2 L364.3,564.9 L362.7,566.1 L360.9,567.4 L358.6,566.8 L356.7,567.9M387.5,394.8 L389.2,393.9 L391.1,394.2 L392.9,393.8 L394.7,393.4 L396.3,393.8 L398.1,393.6 L399.7,394.0 L401.4,394.3 L403.3,395.1 L405.3,395.7 L407.2,396.5 L409.3,396.4 L411.3,395.8 L413.4,395.5 L415.0,395.9 L416.7,395.8 L418.0,397.2 L419.6,397.5 L421.1,397.0 L422.6,396.1 L424.4,396.4 L425.8,395.5 L427.2,396.4 L429.0,396.4 L430.7,396.5 L432.1,397.5 L433.8,397.9 L435.6,397.8 L437.2,398.2 L438.8,399.1 L440.4,399.6 L441.6,398.1 L443.4,397.5 L444.9,396.6 L446.0,395.0 L448.0,394.7 L449.4,393.5 L450.7,392.3 L452.6,392.7 L454.2,392.1 L455.6,391.2 L456.9,389.9 L458.7,390.0 L460.2,389.4 L462.0,390.3 L463.3,392.0 L465.6,392.0 L467.0,393.5 L468.0,394.9 L469.3,396.1 L470.8,396.8 L472.4,397.5 L473.4,399.2 L475.1,400.2 L476.2,398.8 L478.2,398.8 L479.1,397.2 L480.5,396.2 L482.3,396.5 L484.0,396.1 L485.4,394.7 L487.2,394.8 L488.6,393.4 L489.8,391.8 L489.7,389.4 L491.3,388.1 L492.1,386.3 L493.6,384.9 L493.9,382.7 L495.3,381.3 L497.1,381.1 L498.3,379.5 L500.0,379.0 L501.7,379.7 L503.6,379.5 L505.6,380.2 L507.1,381.8 L508.8,383.0 L508.2,384.7 L509.2,386.4 L509.2,388.1 L508.8,389.8 L509.9,391.5 L511.3,393.1 L512.2,395.0M422.8,437.1 L424.0,438.6 L424.4,440.4 L425.0,442.0 L424.4,444.1 L425.6,445.6 L426.9,446.9 L428.1,448.2 L430.2,448.4 L431.3,449.9 L433.2,450.3 L435.1,449.3 L437.0,449.9 L439.2,449.2 L441.3,448.5 L442.6,449.6 L444.3,450.2 L445.6,451.3 L447.2,452.8 L449.4,453.3 L451.3,454.2 L452.7,455.3 L453.8,456.6 L455.9,456.6 L456.6,458.6 L458.4,459.1 L459.9,459.9 L461.2,458.9 L463.0,458.6 L464.0,457.0 L466.0,457.1 L467.0,455.6 L468.6,456.4 L470.4,456.8 L471.9,458.0 L473.7,458.3 L475.4,457.5 L476.9,456.5 L478.9,456.6 L480.5,455.6 L482.1,454.5 L484.2,455.1 L485.9,454.2M503.6,379.5 L504.6,381.0 L504.7,382.9 L504.9,384.7 L506.1,386.1 L506.6,387.8 L507.5,389.4 L506.3,390.9 L504.8,392.1 L504.5,393.9 L503.6,395.2 L502.1,396.2 L501.6,397.8 L500.2,398.8 L499.4,400.2 L498.6,401.6 L497.6,402.9 L496.7,404.3 L495.3,405.8 L495.4,408.1 L494.0,409.7 L492.9,411.1 L491.1,411.7 L490.4,413.5 L489.0,414.6 L487.2,415.1 L485.6,416.3 L484.2,417.6 L482.3,418.3 L480.5,419.1 L478.9,419.9 L477.1,419.7 L475.4,420.0 L473.7,420.5 L472.1,421.3 L470.3,421.0 L468.7,421.5 L467.0,421.8 L465.2,423.0 L463.0,423.2 L461.7,425.0 L461.6,427.2 L462.6,428.8 L463.4,430.4 L464.2,432.1 L464.3,434.0 L466.0,435.1 L467.7,436.3 L469.7,436.7 L470.4,438.3 L471.8,439.3 L473.0,440.5 L473.7,442.1 L475.6,442.9 L476.3,444.9 L477.8,446.1 L479.1,447.1 L480.6,447.7 L481.8,448.8 L482.7,450.3 L483.9,451.4 L484.4,453.2 L485.9,454.2 L486.7,455.8 L488.4,456.7 L488.7,458.7 L490.8,459.2 L491.3,461.0 L492.6,462.4 L494.1,463.6 L495.6,464.8 L496.7,466.4 L498.5,467.3 L499.4,469.1 L499.3,471.0 L500.0,472.8M415.5,320.8 L416.4,322.5 L415.8,324.3 L415.3,326.0 L416.7,327.6 L416.8,329.4 L416.3,331.2 L416.7,332.9 L416.6,334.6 L416.5,336.4 L417.7,338.0 L417.6,339.7 L417.5,341.5 L416.8,343.7 L415.5,345.7 L416.6,347.2 L415.7,349.2 L416.3,350.8 L416.8,352.4 L417.5,354.0 L419.3,354.7 L419.7,356.8 L421.0,358.0 L422.6,358.9 L423.8,360.2 L425.2,361.1 L426.9,361.2 L428.6,361.4 L430.0,362.3 L431.6,364.1 L432.1,366.4 L430.7,367.3 L429.2,368.1 L427.5,368.2 L425.8,368.5 L424.0,368.6 L422.4,369.1 L420.7,369.3 L419.1,369.9 L417.5,370.6 L415.4,371.0 L413.4,370.5 L411.3,370.6 L409.8,371.2 L408.1,371.2 L406.6,372.1 L405.1,372.6 L404.9,374.3 L403.8,375.7 L402.9,377.1 L403.0,378.9 L403.2,380.6 L402.0,382.2 L403.1,384.0 L402.6,385.6 L402.0,387.2 L402.7,389.2 L402.3,391.4 L403.0,393.4 L401.4,394.3M489.0,343.6 L488.8,345.5 L489.5,347.1 L490.6,348.6 L490.2,350.5 L491.4,352.0 L491.6,353.8 L491.4,355.6 L489.8,357.0 L489.8,358.9 L489.6,360.6 L489.5,362.4 L489.6,364.1 L489.8,365.8 L489.5,367.7 L490.6,369.2 L490.4,371.1 L490.9,372.7 L491.6,374.4 L491.7,376.3 L492.8,377.8 L493.3,379.5 L495.2,379.0 L496.8,377.9 L498.3,376.7 L500.2,376.1 L501.6,376.9 L502.3,378.5 L503.6,379.5M261.7,614.4 L259.9,615.0 L258.1,613.8 L256.3,614.9 L254.5,615.1 L252.7,614.4 L252.8,616.4 L251.1,617.9 L251.5,619.9 L250.8,621.7 L251.8,623.2 L251.7,624.9 L252.7,626.4 L253.0,628.0 L252.4,629.8 L253.0,631.3 L251.3,632.1 L249.6,633.0 L247.9,633.9 L246.5,635.2 L247.5,637.0 L247.0,639.1 L247.7,641.0 L247.8,643.0 L247.0,644.5 L246.7,646.2 L246.2,647.8 L246.5,649.5 L248.0,650.4 L248.0,652.4 L248.9,653.8 L250.4,654.7 L249.4,656.2 L250.3,658.1 L249.9,659.7 L249.1,661.2 L250.5,662.2 L251.6,663.4 L251.6,665.4 L253.0,666.4 L254.7,666.5 L256.3,665.9 L258.0,665.9 L259.5,665.1 L260.5,663.5 L260.9,661.6 L262.1,660.0 L264.0,660.4 L265.7,661.4 L266.8,663.2 L268.6,663.8 L270.3,663.4 L272.1,663.5 L273.8,663.8 L275.2,665.0 L276.9,665.9 L278.0,667.4 L279.0,669.0 L280.5,670.0 L281.3,671.8 L283.0,672.7 L284.1,674.1 L284.9,675.6 L284.5,677.4 L285.7,678.8 L285.7,680.5 L286.7,681.9 L286.0,683.4 L286.3,685.2 L285.3,686.6 L284.7,688.2 L284.1,689.7 L282.2,689.3 L280.2,689.9 L278.3,689.4 L276.4,689.7 L274.8,690.2 L273.4,691.1 L271.5,690.7 L270.4,692.4 L268.6,692.3 L267.0,693.3 L266.3,695.2 L265.2,696.7 L263.4,697.5 L263.4,699.4 L262.2,701.1 L262.1,703.0 L263.1,705.2 L265.1,706.5 L264.6,708.4 L262.9,709.3 L261.8,710.7 L260.7,712.1 L259.0,712.4 L258.0,714.0 L256.3,714.3 L254.8,715.0 L252.9,715.7 L250.7,715.5 L248.9,716.5 L246.8,717.6 L244.5,718.0 L242.4,717.9 L240.6,719.3 L238.6,719.5M238.6,719.5 L237.0,719.1 L235.7,718.0 L234.4,716.8 L232.8,716.0 L231.3,715.0 L229.5,714.4 L228.5,712.6 L226.5,712.2 L225.4,710.6 L224.1,709.5 L222.6,708.9 L221.2,708.0 L219.5,707.7 L218.1,706.8 L216.5,706.4 L215.0,705.6 L213.6,704.7 L212.9,703.2 L213.2,701.4 L212.1,700.0 L210.2,699.2 L209.2,697.4 L208.0,696.0 L205.9,696.3 L204.5,695.1 L203.1,694.2 L201.8,693.0M286.7,681.9 L288.0,683.7 L290.0,684.5 L291.5,685.9 L293.0,687.3 L294.4,686.5 L296.2,686.6 L297.5,685.5 L299.1,684.4 L301.0,684.0 L302.8,683.3 L304.4,683.0 L306.0,682.9 L307.6,682.5 L309.2,682.0 L310.7,681.4 L312.2,680.6 L313.8,679.9 L315.5,679.5 L317.0,678.3 L319.0,678.6 L320.5,677.4 L321.7,676.1 L322.8,674.7 L323.0,672.8 L324.4,671.6 L326.4,669.6M238.6,719.5 L238.2,721.5 L237.2,723.3 L237.1,725.4 L238.5,726.5 L240.4,726.9 L241.6,728.3 L242.6,729.7 L243.1,731.6 L244.5,732.7 L244.9,734.7 L245.0,736.6 L244.5,738.6 L245.3,740.4 L245.3,742.4 L245.6,744.3 L247.2,745.8 L247.2,747.8 L248.5,749.3 L249.3,751.1 L249.8,753.0 L251.5,752.3 L253.3,752.2 L255.0,751.7 L255.7,753.3 L255.6,754.9 L256.0,756.5 L255.7,758.2 L254.8,760.1 L255.0,762.0 L255.8,764.0 L255.0,765.9 L255.7,768.2 L257.6,769.8 L257.9,771.5 L257.1,773.1 L255.9,774.5 L256.3,776.3 L255.4,777.8 L255.0,779.5 L255.0,781.2 L254.4,782.8 L255.0,784.4 L254.5,786.1 L255.4,787.6 L255.0,789.3 L255.4,791.0 L255.2,792.8 L255.0,794.5 L255.2,796.4 L254.3,798.0 L253.7,799.7 L254.4,802.3M554.5,339.1 L554.2,341.1 L554.5,343.1 L555.0,345.0 L555.0,346.8 L554.8,348.5 L555.1,350.2 L555.0,352.0 L555.3,354.2 L554.5,356.3M512.8,329.4 L514.4,328.6 L515.9,327.5 L517.9,327.2 L520.0,327.5 L522.0,327.0 L523.9,327.7 L525.8,327.1 L527.7,327.4 L529.6,327.7 L531.5,327.4 L533.6,329.4M609.0,333.6 L609.7,334.7 L611.3,334.3 L612.8,333.7 L614.6,334.1 L616.1,333.5 L617.8,333.7 L619.4,333.3 L621.0,332.8 L622.6,332.2 L624.5,332.9 L626.5,332.8 L628.4,332.9 L630.4,332.8 L632.0,332.7 L633.7,332.5 L635.3,333.0 L637.0,332.2 L638.6,332.8 L640.2,332.4 L642.0,332.7 L643.6,332.4 L645.2,332.0 L646.8,331.2 L648.5,331.3 L649.9,330.5 L651.4,329.8 L652.9,329.4 L654.3,328.5 L655.3,327.0 L656.8,325.8 L658.2,324.6 L658.5,322.5 L660.0,321.4 L661.6,320.4 L663.1,319.4 L664.2,317.8 L665.7,316.7 L667.1,315.6 L669.0,315.7 L670.3,313.8 L672.3,314.0 L673.8,312.9 L675.7,312.8 L677.5,312.6 L679.3,312.3 L680.8,311.1 L682.3,309.9 L684.2,309.9 L686.1,309.3 L688.0,308.6 L689.9,307.8 L691.8,307.8 L693.5,307.1 L695.3,307.0 L697.1,306.4 L699.1,306.7 L700.9,306.0 L702.8,305.7 L701.9,307.2 L700.3,308.1 L699.9,309.9 L699.6,312.2 L698.5,314.2 L699.2,316.2 L700.5,317.9 L701.3,319.9 L700.2,321.2 L699.9,322.8 L697.9,324.0 L695.6,324.2 L693.5,324.0 L691.9,325.3 L689.9,325.6 L689.0,327.5 L687.1,328.5 L685.9,330.1 L684.2,331.3 L683.0,333.4M556.3,360.0 L555.2,358.7 L556.9,358.5 L558.7,358.0 L560.4,358.7 L562.1,358.1 L563.8,357.7 L565.6,357.4 L567.6,357.4 L569.4,356.5 L571.3,356.1 L573.3,356.1 L575.3,356.0 L577.1,357.1 L579.0,357.7 L581.1,357.4 L582.8,358.3 L584.8,358.8 L586.3,360.0 L587.8,361.3 L589.8,361.6 L591.5,362.6 L593.1,361.6 L594.8,360.8 L596.7,360.7 L598.7,360.0 L600.4,358.9 L601.9,357.4 L603.7,356.7 L605.3,355.7 L607.1,354.9 L609.0,355.0 L611.0,354.9 L611.4,357.1 L610.9,359.2 L610.4,361.0 L611.6,362.6 L611.4,364.3 L611.8,366.0 L613.2,367.0 L614.8,367.5 L616.6,367.5 L618.2,367.7 L619.7,368.6 L621.5,368.5 L622.9,369.5 L623.7,371.5 L625.4,372.8 L626.4,374.6 L625.3,376.2 L625.5,378.2 L624.6,379.8 L623.0,381.1 L621.4,382.4 L619.5,383.2M683.0,336.0 L681.3,336.6 L679.6,337.0 L678.8,338.4 L677.8,339.7 L676.1,340.3 L674.8,341.5 L674.3,343.3 L673.3,344.7 L672.3,346.0 L671.0,347.2 L669.7,348.5 L668.5,349.8 L667.0,350.9 L665.8,352.3 L664.7,353.9 L664.3,355.8 L662.7,357.2 L662.4,359.2 L660.6,359.0 L659.1,360.5 L657.1,359.7 L655.4,360.0 L653.8,360.9 L652.6,362.1 L652.6,364.0 L650.8,364.9 L650.2,366.5 L650.2,368.4 L648.7,369.5M648.7,369.5 L650.2,368.4 L652.3,369.3 L653.9,368.5 L655.5,367.8 L657.3,367.9 L659.1,368.1 L660.8,368.6 L662.4,369.5 L664.1,369.1 L665.8,369.9 L667.6,369.3 L669.3,369.5M648.7,369.5 L647.9,371.0 L646.0,371.4 L644.9,372.6 L644.5,374.5 L642.5,374.8 L641.8,376.4 L641.1,378.0 L640.3,379.7 L640.1,381.5 L639.6,383.2 L639.0,384.8 L638.8,386.6 L638.5,388.3 L639.1,390.2 L638.4,391.8 L637.3,393.4 L636.6,395.2 L635.5,396.8 L634.9,398.7 L634.3,400.5 L633.0,401.9 L632.8,403.8 L632.5,405.7 L631.5,407.3M614.3,409.0 L616.0,408.3 L617.8,407.8 L619.6,408.0 L621.3,407.0 L623.2,407.3 L625.0,407.0 L626.6,406.5 L628.3,407.1 L629.9,407.2 L631.5,407.3 L633.4,407.7 L635.2,408.5 L637.3,407.6 L638.9,409.2 L640.9,409.0M612.6,398.7 L612.9,400.5 L613.1,402.2 L613.5,404.0 L613.5,405.7 L613.5,407.4 L614.3,409.0" fill="none" stroke="#7f7f7f" stroke-width="1.75" stroke-linejoin="round"/>
</g>
<path d="M143.9,73.7 L146.5,71.1 L153.0,64.6 L158.2,59.5 L165.9,58.2 L171.1,58.7 L173.7,54.3 L181.5,53.0 L189.3,50.4 L194.5,49.1 L202.3,51.7 L208.7,49.1 L211.3,54.3 L215.2,59.5 L223.0,63.3 L230.8,67.2 L238.6,71.1 L242.5,75.0 L245.1,81.5 L251.5,85.4 L258.0,88.0 L260.6,94.5 L269.7,94.5 L277.5,90.6 L284.0,86.7 L293.0,84.1 L300.8,81.5 L306.0,81.5 L311.2,84.1 L319.0,85.4 L324.2,88.0 L328.1,94.5 L326.8,104.9 L325.5,110.0 L324.9,112.6 L321.0,115.2 L317.7,118.4 L316.4,123.6 L311.9,125.6 L309.9,130.8 L308.6,134.6 L306.0,137.2 L300.2,136.6 L295.7,137.9 L295.7,141.1 L298.3,145.0 L298.9,148.3 L296.3,149.6 L296.3,154.1 L301.5,158.0 L307.3,159.3 L308.6,161.9 L306.7,167.1 L308.6,171.0 L311.2,174.9 L311.2,178.1 L306.7,180.7 L301.5,182.6 L298.9,185.2 L295.0,183.9 L293.1,180.0 L291.8,176.1 L288.5,177.4 L285.9,178.1 L285.3,180.7 L285.9,185.2 L285.9,188.5 L288.5,190.4 L290.5,193.0 L292.0,196.9 L292.0,205.5 L295.5,215.8 L297.2,217.5 L298.0,212.3 L300.6,210.6 L305.8,219.2 L314.3,223.5 L321.2,226.9 L326.4,230.3 L327.2,233.8 L333.2,237.2 L340.1,241.5 L346.1,244.1 L342.7,246.7 L338.4,251.8 L334.9,255.2 L331.5,260.4 L329.8,265.5 L328.1,270.7 L325.5,275.8 L323.8,281.0 L322.9,283.6 L326.4,285.3 L331.5,287.9 L334.9,289.6 L340.1,292.1 L345.2,294.7 L352.1,298.2 L359.0,303.3 L365.8,306.7 L371.0,308.5 L377.9,311.0 L380.0,312.8 L386.2,312.8 L388.3,318.0 L394.5,319.1 L400.8,321.1 L402.8,319.1 L411.1,320.1 L414.2,322.2 L416.3,319.1 L421.5,320.1 L429.8,322.2 L432.9,324.2 L432.9,331.5 L436.0,332.5 L442.3,334.6 L448.5,336.7 L454.7,334.6 L458.9,337.7 L459.9,340.8 L467.2,340.8 L473.4,341.9 L477.5,344.0 L483.8,345.0 L487.9,342.9 L491.0,346.0 L498.3,346.0 L504.5,345.0 L510.7,345.0 L513.8,341.9 L514.9,335.7 L512.8,329.4 L515.9,323.2 L514.9,314.9 L514.9,307.6 L518.0,304.5 L525.3,303.5 L531.5,302.5 L533.6,306.6 L532.5,312.8 L533.6,321.1 L534.6,325.3 L531.5,327.4 L533.6,329.4 L537.7,332.5 L539.0,336.3 L547.2,336.3 L554.5,339.1 L558.1,338.2 L565.4,336.3 L570.8,335.4 L576.3,338.2 L585.3,337.3 L596.2,336.3 L603.5,335.4 L609.0,333.6 L604.0,322.0 L596.7,309.7 L601.9,308.4 L609.7,312.3 L614.9,311.0 L620.0,307.1 L625.2,301.9 L633.0,298.0 L639.5,292.8 L646.0,288.9 L653.8,286.3 L659.0,281.1 L661.5,274.6 L669.3,269.5 L674.5,270.8 L682.3,273.3 L690.1,272.0 L695.3,269.5 L703.0,266.9 L708.2,269.5 L706.9,275.9 L710.8,278.5 L716.0,279.8 L713.4,286.3 L716.0,294.1 L726.4,296.7 L734.2,300.6 L735.5,305.8 L731.6,309.7 L723.8,314.9 L726.4,321.3 L729.0,327.8 L723.8,326.5 L716.0,322.6 L710.8,323.9 L703.0,325.2 L695.3,327.8 L687.5,333.0 L683.0,333.4 L683.0,340.3 L681.3,347.2 L683.0,355.8 L681.3,364.3 L676.1,366.9 L669.3,369.5 L669.3,372.9 L672.7,381.5 L671.8,386.7 L667.6,395.2 L664.1,402.1 L660.7,409.0 L659.0,414.1 L652.1,412.4 L645.2,410.7 L640.9,409.0 L640.9,410.7 L641.8,419.3 L640.9,427.9 L639.2,434.7 L636.7,441.6 L636.7,450.2 L634.9,457.0 L631.5,462.2 L628.1,460.5 L623.8,463.0 L621.2,458.8 L620.3,450.2 L618.6,441.6 L616.9,433.0 L615.2,424.4 L614.3,415.8 L612.6,417.6 L605.8,419.3 L602.3,426.1 L600.6,433.0 L597.2,436.4 L593.7,433.0 L592.0,427.9 L589.4,422.7 L587.7,417.6 L589.4,410.7 L597.2,407.3 L604.0,403.8 L609.2,402.1 L612.6,398.7 L613.5,390.1 L616.1,386.7 L619.5,384.9 L619.5,381.5 L614.3,380.6 L605.8,379.8 L597.2,379.8 L590.8,378.1 L576.3,377.2 L567.2,376.3 L558.1,374.5 L556.3,370.8 L558.1,365.4 L556.3,360.0 L554.5,356.3 L550.8,358.1 L548.1,357.2 L543.6,355.4 L538.1,351.8 L532.7,350.0 L527.2,347.2 L518.2,345.4 L514.5,349.1 L518.2,352.7 L516.3,356.3 L514.5,361.8 L518.2,365.4 L523.6,369.0 L529.0,372.7 L534.5,376.3 L531.8,379.9 L523.6,380.8 L518.2,382.6 L514.5,387.2 L512.7,392.6 L514.5,396.3 L521.8,399.9 L527.2,403.5 L529.0,409.0 L529.0,414.4 L530.9,420.0 L533.0,430.5 L535.6,435.6 L535.6,446.0 L537.0,454.6 L538.3,459.8 L538.9,466.3 L538.3,470.9 L535.0,472.8 L531.1,473.1 L527.2,474.1 L523.3,474.1 L518.8,472.8 L514.9,471.5 L513.0,469.6 L513.5,466.5 L510.4,464.3 L506.5,468.2 L500.0,470.8 L494.9,473.3 L491.0,475.9 L487.1,479.8 L485.1,483.7 L485.1,487.6 L487.1,491.5 L489.7,494.1 L485.8,495.4 L484.5,499.3 L483.2,503.2 L480.6,505.8 L476.7,509.7 L472.8,512.3 L468.9,514.9 L463.7,516.1 L458.5,518.1 L453.3,520.7 L448.2,523.3 L443.0,526.5 L440.4,529.1 L435.6,533.7 L431.5,539.1 L427.5,544.5 L423.4,549.9 L419.4,555.3 L414.0,558.0 L408.6,562.1 L403.2,566.1 L399.1,571.5 L393.7,575.6 L387.0,578.3 L381.6,582.3 L377.5,587.7 L377.4,590.0 L378.0,594.4 L375.2,598.8 L369.7,601.0 L363.0,603.8 L356.4,603.8 L353.1,605.5 L350.9,608.8 L348.7,613.2 L345.4,617.6 L342.0,619.3 L339.8,616.0 L336.5,615.4 L332.1,617.1 L328.8,619.8 L326.6,624.3 L324.4,628.7 L323.3,634.2 L323.3,639.7 L324.4,644.1 L326.6,647.5 L326.0,653.0 L325.5,658.5 L326.6,664.0 L327.1,667.3 L325.5,669.6 L328.8,672.9 L329.9,680.0 L329.3,687.1 L326.6,695.0 L321.4,705.5 L317.4,710.8 L317.4,721.4 L317.4,731.9 L318.7,742.5 L317.3,750.4 L310.8,749.7 L305.6,751.7 L303.0,756.9 L300.4,762.0 L297.8,765.9 L295.9,771.1 L297.8,774.4 L304.3,775.0 L308.2,778.3 L305.6,775.5 L300.4,774.9 L295.2,775.9 L290.0,777.6 L284.9,779.6 L281.0,781.5 L278.4,785.4 L277.1,789.3 L276.4,794.5 L273.2,798.4 L268.0,801.6 L262.8,804.2 L256.3,802.3 L251.1,797.1 L245.9,791.9 L240.8,785.4 L236.9,777.6 L234.3,769.8 L233.0,763.3 L231.0,755.6 L227.8,747.8 L224.5,740.0 L221.7,731.3 L219.5,725.4 L216.5,719.5 L212.1,713.6 L207.7,707.7 L204.7,701.8 L201.8,695.9 L199.1,689.8 L197.1,683.6 L195.6,677.4 L194.4,671.1 L192.5,663.3 L190.1,657.9 L187.8,650.0 L183.7,641.9 L179.6,635.2 L175.6,627.1 L172.9,620.4 L170.2,612.3 L166.1,601.5 L163.4,590.7 L160.7,579.9 L158.0,569.1 L155.3,558.3 L152.6,547.5 L151.1,540.0 L150.5,535.7 L149.3,530.8 L148.0,525.9 L146.8,521.0 L147.4,514.8 L148.7,509.9 L150.5,505.0 L151.7,501.3 L151.1,496.4 L150.5,491.5 L149.3,486.6 L146.8,485.4 L145.6,481.7 L145.6,476.8 L145.6,471.9 L144.4,469.4 L143.7,464.5 L143.1,457.2 L141.3,452.9 L139.4,453.5 L138.2,457.2 L136.4,462.1 L137.0,468.2 L137.0,473.1 L135.8,478.0 L133.9,482.3 L128.6,484.3 L120.8,488.2 L110.4,492.1 L102.6,493.4 L94.9,490.8 L87.1,486.9 L79.3,480.5 L71.5,472.7 L63.7,464.9 L58.5,457.1 L58.5,451.9 L63.7,449.3 L74.1,450.6 L81.9,448.0 L89.7,444.1 L93.6,437.7 L94.9,433.8 L92.3,436.4 L88.4,439.0 L81.9,441.5 L71.5,439.0 L61.1,433.8 L53.3,428.6 L50.8,423.4 L49.5,416.9 L45.6,419.5 L40.4,419.5 L41.7,413.0 L48.2,410.4 L54.6,407.8 L55.3,402.8 L63.7,403.6 L73.8,404.4 L84.0,405.3 L89.0,402.8 L97.4,400.2 L99.1,403.6 L104.0,403.0 L107.6,401.9 L107.8,392.3 L105.2,384.5 L101.3,376.7 L98.7,368.9 L92.3,363.7 L85.8,355.9 L85.8,348.2 L80.8,343.8 L75.6,341.2 L71.7,336.0 L71.7,330.8 L74.3,325.6 L78.2,320.5 L83.3,315.3 L88.5,307.5 L93.7,303.6 L97.6,304.9 L100.2,310.1 L104.1,311.4 L111.9,308.8 L119.7,307.5 L128.7,304.9 L131.3,299.7 L135.2,294.5 L137.8,289.3 L140.4,284.1 L148.2,279.0 L153.4,273.8 L157.3,267.3 L161.2,259.5 L163.8,253.0 L167.7,250.4 L174.1,247.8 L175.4,245.2 L176.7,240.0 L181.9,236.1 L184.5,229.7 L189.7,223.2 L194.9,220.6 L192.3,215.4 L191.0,208.9 L192.3,201.1 L195.2,197.3 L200.4,193.9 L207.3,193.0 L212.4,190.5 L214.1,186.2 L210.7,184.5 L203.8,181.9 L197.0,181.0 L194.4,178.5 L193.5,173.3 L186.7,171.6 L178.1,169.0 L170.3,164.7 L167.8,157.9 L166.9,149.3 L166.9,140.7 L165.2,132.1 L164.3,125.2 L166.1,121.8 L170.3,119.2 L172.9,114.9 L179.8,111.5 L180.6,107.2 L176.4,102.9 L171.2,101.2 L172.9,96.9 L171.2,93.5 L164.3,91.8 L159.2,89.2 L155.8,84.9 L147.2,84.0 L143.7,81.5 L142.9,76.3Z" fill="none" stroke="#7f7f7f" stroke-width="1.6" stroke-linejoin="round"/>
<path d="M631.5,668.8 L633.7,672.2 L634.3,677.7 L633.2,682.1 L631.5,686.5 L628.2,687.6 L626.5,684.3 L627.1,677.7 L628.8,673.3 L630.4,669.9Z" fill="#c9957e" stroke="#7f7f7f" stroke-width="1.3" stroke-linejoin="round"/>
<path d="M624.3,685.4 L625.4,688.7 L629.3,688.7 L631.5,693.1 L631.0,698.7 L628.8,703.1 L625.4,704.2 L623.8,699.8 L623.8,693.1 L623.2,687.6Z" fill="#c9957e" stroke="#7f7f7f" stroke-width="1.3" stroke-linejoin="round"/>
<path d="M627.1,703.1 L627.7,708.6 L626.5,715.2 L625.4,721.9 L623.8,726.3 L621.6,725.2 L620.5,718.6 L619.9,711.9 L621.6,706.4 L624.3,703.6Z" fill="#c9957e" stroke="#7f7f7f" stroke-width="1.3" stroke-linejoin="round"/>
<path d="M632.6,702.0 L634.8,704.2 L633.7,709.7 L632.6,714.1 L631.0,713.0 L629.9,708.6 L631.0,705.3Z" fill="#8f8a88" stroke="#7f7f7f" stroke-width="1.0" stroke-linejoin="round"/>
<path d="M612.2,719.1 L614.4,719.1 L614.4,721.9 L612.2,721.9Z" fill="#808080" stroke="#7f7f7f" stroke-width="0.5" stroke-linejoin="round"/>
<path d="M619.4,736.2 L622.1,738.5 L622.7,742.9 L620.5,745.6 L617.2,745.1 L616.0,741.8 L617.2,737.9Z" fill="#c9957e" stroke="#7f7f7f" stroke-width="1.3" stroke-linejoin="round"/>
<circle cx="646.2" cy="639.6" r="1.0" fill="#808080"/>
<circle cx="651.8" cy="703.3" r="1.2" fill="#808080"/>
<circle cx="625.9" cy="777.5" r="1.8" fill="#808080"/>
<circle cx="646.2" cy="793.5" r="1.0" fill="#808080"/>
<circle cx="635.5" cy="799.0" r="1.6" fill="#808080"/>
<circle cx="643.1" cy="803.1" r="1.6" fill="#808080"/>
<circle cx="641.5" cy="806.7" r="1.6" fill="#808080"/>
<circle cx="644.6" cy="805.7" r="1.4" fill="#808080"/>
<circle cx="146.2" cy="744.3" r="0.8" fill="#707070"/>
<circle cx="170.4" cy="738.3" r="0.9" fill="#707070"/>
<circle cx="156.0" cy="798.8" r="0.9" fill="#707070"/>
<path d="M41.0,412.0 L46.0,409.5 L49.5,411.0 L49.0,416.0 L45.0,420.0 L41.0,419.5Z" fill="#7a7a7a" stroke="#7f7f7f" stroke-width="0.8" stroke-linejoin="round"/>
<path d="M231.5,757.0 L233.5,757.0 L236.5,766.0 L236.0,770.0 L234.0,770.0 L232.0,762.0Z" fill="#8a8a8a" stroke="#7f7f7f" stroke-width="0.6" stroke-linejoin="round"/>
<path d="M316.0,708.0 L318.5,707.0 L319.0,712.0 L316.5,713.0Z" fill="#8a8a8a" stroke="#7f7f7f" stroke-width="0.6" stroke-linejoin="round"/>
<path d="M317.0,733.0 L319.0,733.0 L319.2,737.0 L317.2,737.5Z" fill="#8a8a8a" stroke="#7f7f7f" stroke-width="0.6" stroke-linejoin="round"/>
</svg><div class="bl"></div></body></html>
